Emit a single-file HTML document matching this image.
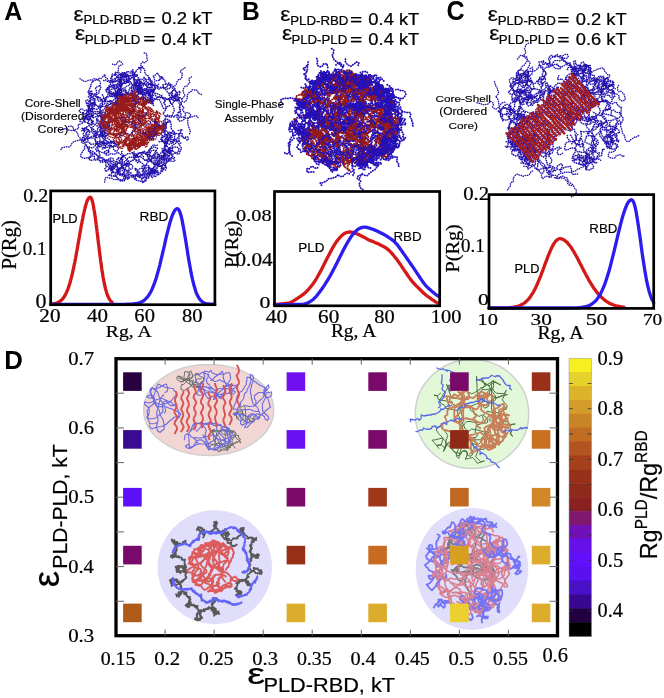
<!DOCTYPE html><html><head><meta charset="utf-8"><style>html,body{margin:0;padding:0;background:#fff;overflow:hidden}svg{display:block;will-change:transform}</style></head><body>
<svg width="664" height="698" viewBox="0 0 664 698">
<rect width="664" height="698" fill="#fff"/>
<text transform="translate(4.35,19.9) scale(0.99,1)" font-family="Liberation Sans, sans-serif" font-size="25.29" font-weight="bold" fill="#000" >A</text>
<text transform="translate(241.98,20) scale(0.96,1)" font-family="Liberation Sans, sans-serif" font-size="25.65" font-weight="bold" fill="#000" >B</text>
<text transform="translate(446.5,19.93) scale(0.94,1)" font-family="Liberation Sans, sans-serif" font-size="26.76" font-weight="bold" fill="#000" >C</text>
<text transform="translate(4.2,368.8) scale(0.99,1)" font-family="Liberation Sans, sans-serif" font-size="26.09" font-weight="bold" fill="#000" >D</text>
<g transform="scale(0.25)" fill="none" stroke="#2210ac"><defs><path id="ma1" d="M656 624l-7-2-8 0-8 4-8-1-8 0-6-4-5 6-8-2-8-3-5-5-6-6-7-3-7 4-8-1-5 6-5 7-7 3-4 7 6 6 3 7 7 5 5-7-1-8-3-7-8-2-4 7-5 6-7 2-8 4-4 7-6 5-8 1-7 3-8-1-5-6-6-5-8-1-8-2-6-5-2-8-7-3-8 1-5 6 4 7 4 7 1 8 5 6-3 7-8 4-7 1-3 8-6-6 0-8 5-6 4-6M584 618l-7-4-5-7-6 5-8-1-7 4-7 4-7 2-6-7 6-6-8 2-7 4-8 1-8 1-4 7-8 0-5 6-7 4-7-3-5 5-5 7 4 7 2 8-6 5-4-7-8 4-4 6-8 3-5-7-2-7-7-5-5-6-5-6-6-6-8 0-7-4-7-5-6-4-7-4-7 5-1-8-8-2-6-6 2-8 0-8 7 4 8 1 6-5 6-6 3-8 4-6 8-1 8-1 7 5 7 2 7 5M629 581l-8 1-7-3-6 5-5 7-2 7-8 4-2 7 2 8 6 5 8 3 6-4 5-7 3-7 5-6 4-8-8-3-7-3-5 6-8 0-6 6 2 8 5 6-6 5-8 0-2-8 8 0 6-5 8-3 8-1 7 4 5 6 5 6 3 8 8-1 8-1 5-6 7-5 3-7 7-4 8 1 8 2 6 5 8 2 8-2 1-7 2-8-7-5-8-1-8 1-6 4-8 3-6 5 1 8 5 6-2 8M698 631l-6-4-4-7-8-2-4-7-2-8 3-7 5-6 6-6 5-6 8-2 4-7 7-3 5-6-1-8 1-8 8-1 6 6 8 2 5 6 6 5 4-7-3-7-8 0-6 5-6-5-1-8-2-8-8 2-8 2-8-2-8 1-8-1-6-5-8 1-3 8 0 8 0 8 3 7-4 7-7-2-8 1-8-4-2-7 2-8 7-4 5-6 8-1 1 8-3 7 0 8-4 7-8 1-7-2-8 2-5-7M452 688l-4 6-7 5-8 2 8 1 8 3 7-2 8 0 4 7 3 8 7 3 8 1 6-5 4-7 1-8-7-3-8 0-6-6-4-6-2-8-8-2-7-4-8-2-7-4-4 7 8 1 8 0 7-3 4-7 6-6 0 8 6 6 8 1 8 1 8 1 5 5 6 6 7 2 8 3-7 5-7-3 2 8 3 7-1 8-8-1-6-6-2-7 5-6 4-7 5-7 4-7-1-8-4-7-7-4 1 8-5 7M410 596l6-5 8-3-6-6-7-4-5-6 5-7 7 5-1 8 5 5 5-6 7-4 7-4 8 3 8 1 7 3-6-6-7-2-8 1-8-1-7-4-7-4-7-5-6-5-2-7 1-8-2-8-6-6 4-6 4-7 8-2 8 0 8-3 4-6 5-7-2-7 2-8-6-6-8-2-8-2 0-8-8 3-8 1-7 3-8 1-7 4-7 2-5-7-2-8 1-8 3-7-2-8 2-8 0-8-4-6-5-7M646 652l-8-3-3-8 5-6 7-4 7-4 5-6 3-7 8-3 8-2 1-8 0-8-7-4-6-5-7 2-3 8-2 8-3 7 7 4 4 8-8 2-1 8-8 0-7 4-4 7-4 7 5 6-3 7-5 6-4 7-2 8 7 3 7 5-1 8 7-4 2-8 2-8 0-8 3-7 3-7 6 5 5 7-1-8 3-8 5-6-3-7 0-8-3-7-8 0-8 1-6-6-7 1-7-5-7-2-2 8-1 8M449 296l-1 7-4 7-2 8-3 8 5 6-3 8-6 5-5 6-6 5 0 8 5 6 8 1 8 3 6 5 8 0 7 5 2 8 1 7-4 7-4 7-2 8-6 6-5 6-8 2-2 7-8 1-6 5-5 7 3 7-1 8-7 3-7-3-4-7-8 2-6 6-3 7 3 8-4 7-5 6-5 6-7 4-2 8 3 7 7 3 6 6 3 7 0 8-6 6 2 7 5 7 4 6 8 0 7-4 8 3 3 7M748 450l7 2 7 5 0 8-6 6-7 2-8-1-7-4-8 1-8 1-6 5 3 8 7 2 7-3 7-4 2-8 3-7 2-8-5-6-6-5-2-8 6-6-6-5-5-6 0-8-6-5-4-7-4 7-6-5-1-8-3-8 6-5 3 8 8 0 1 8-8 3-7 4-8 2-5-6 3-8 7-4 0-8 6-5 6-4 6-6 1 8-3 8-8 1-7 4-8 0-8 3-6 5-7 3-8 3-5 6-4 7M418 474l-7-4 1-8-8 0-2 8 6 6 6 5-7 4-8 1-6-6-6-4-2 7 8 0 6 6 5 6 8-1 5 5 7-3 8 3-1 8 5 7 8 1-3 7-3 7-7 4-2 8-5 5-7 5-4 7 2 8 0 8 8 1 8-2 7-3 8 0 4-6 8 3 1 8 8 4-3 7-8-1-8 0-6 5-6 5-3 8 0 8-8 2-8-1-8-1-7-4-8-3-3-7 1-8 0-8 0-8 7 3M617 328l2 8 7 4 4 7 7 2 8 0 8 1 8 1 7-4 4-7 0-8 8 1 3 7-1 8-5 7-8 1-5-5-8 0-8 0-8 3-6 4-5-6 0-8-7-2-8-2-8-1-8 0-7 2-1 8-5 6 0 8 3 8 6 6 8 1 5 6 4 7 7 4 8-2 6-4 8 1 8 2 7 4 8 2 8 0 8 1 2-8 8 0 6-5 4-7 5-6 1-8-6-4-8 1-4 6-7 5-8 1M717 576l7-3-5-7-7-3-3 7-6-6-8-1-5 6-8-1-4-7-7-1-5 7 2 7-4 7-4 7 2 8 3 8-6 6 4 7 5 6 8-2 0 8-4 6-8 3-8 1-3 8 0 8-5 6 1 8 2 8 6-5 7-3-7 3-8-1-7-5-6-5-6-5-8 1-8 0-6-6-2-7 1-8 4-7 4 6 3 8-4 7-7-4-7-3-6-6 0-8 8-2 8 1 7 2 8 3 7-4 7 2M654 658l-6 4-7 4-8-3-7-4 2-8 6-5 7-3 7-4 8-3 7 4 8-1 8-1 7-2 2-8-1-8-3-7 1-8-8-4-7-3-7 4-7 2-3 8 4 7 4 7-5 7-7 3-8 2-5-6-8-2 0 8 2 8 3 7-4 7-6-5-7 3 0-8 8-2 7 3 6 6-7 3-8 3-5 6-7 4 1 8-2 8-8-1-6 6-7 1-2 8 8-3 5-6-1-8 3-7-6-6-5 6M407 581l4-7 7-3 8 3 4 7 8 2 7 3 8 2 5-7 8-1 3 7 6 5-3 8-6 5-8-1-4-7 0-8-6-5-8-2-3-8-7-4-6-4-5-7 4-7 8 0 6 6 6 4 2 8-1 8-1 8-7 3-8 0-7 4-7-3-8-2-6-5-7 3-7 4-3 8 4 7 7-3 2 8 3 7 1 8-6 6-5 6-7 4-4-7 0-8-8-3-7 4-8 0 1 8 5 7 8-1 7-2M385 421l-8 1 1-8 1-8 0-8-5-6-6-5-4-7-5-6-5-7 1 8 2 8 8 0 4 7 5 6 5 6 0 8 2 8-8-2-7 5 1 8 0 8-8 3-7 3-7-3-7 4-6-6-7-3-7 4-1 8 7 3 8 3 7 3 7 4 7 4 6 6 5-7 7-4 6-5 8 0 8-1 7-1 8-1 8 0 8-3-2-8 7-2 0-8-3-8 2-8 4-7 6-4 8 0 5 6 2 8-7-3M647 389l7 5 5 6-3 7 1 8 5 6 2 8-3 7-7-2-4-7-2-8-4-7-3-7-4-7-8 0-8 0-8 2-7 2-7 6-6-5-3-8 3-7 0-8-7-5-7-3-6-5-8-3-8-1-4-7-3-8-7-3-8-1-8 4-7 2-3 8-1 8-6 6-5 5-1 8 4 7 2 8-7 1-7-4-8-3-6 5-7-4-6-6-4-7-2-7-7-4-8-2-7-3-3-8-2-7-3 7-1 8M594 311l7 5-1 7 6 5 2 8-1 8 2 7-2 8-5 7-1 8-1 8 1 8-1 8 2 7-1 8 7-3 7-5-4-7-5-6-3-7-3-8-3-7-4-7 7-5-1-8 6-7-4-7-7-5-5-5-8-1-8-3-5-6-8 1-8 1-7 3 3 8 5 6 7 3 1 8 6 6-4 6 0 8-8 0-7-4-6-6 0-8 5-6 8 1-1 8 2 8 8 3-2-8-4-7 0-8 3-7 3-8M499 705l-3-8 2-7 1-8-3-8-5-6-8 0-5 6-4 7 3 7-8 0-7 4-2 8 0 8 7-4 2-7 4-8 5-5 8 0 8-4 8-1 7 3 8 1 5-6 7-3 3-7-4-8-8-2-5-6-5-5-4 6-8 4-3-7 7-4 5-7 5-6 7-4 8 1 7 2 7-5 8-1 7 3 6-5 5-6 6-6 5-6 7 4 4 7 1 8 1 8 8 2 6 6-3 7-7-2-8-3-8-2M383 524l2 7 1 8-4 7 1 8-3 8 3 7 4 7 4 7 7 5 3-8-1-7 0-8 0-8-2-8 0-8 4-7 7-3 5-6 4-7 2-8-3-7-8 0-8 2-5 6-6-6-6-5-6-4-8-2 1-8-5-7-5-5-8-2-8 0-5-6 4-7 1-8 4-7 4-7 1-8 3-7 7-4 6-5 8-3-2-7 4-7 6-6 8 0 5 6 6 5 7 4 8-2-2-7-4-8-2-7-8-3M648 594l3 8 8-3 7 3 6 5 6 5 8 3 8 1 7-3 8 3 8 0 3-8 1-8 6-5-4-7-5-7-4-7-4-7-2-7-8 1-6 6-3 7-8 0-7 4-6-5-5-5-7 4-3-7-8-3-5-6 5-7 2-7-5-6 7-5 7-4 0-8-6-5-7-4 5-6 6-5 8 0 3 7-5 7-8-3-2-7 0-8 7-3 8-1 8-1 4-7-6-6-8 1-8 0-4 7 1 8 5 7M448 415l-8 4-6 4-8 2-4 7-6 5-6 5-7 4-5 7 2 8 3 7 5 6 0 8-6 5 2 8-3 8 1 8-3 8 1 8 8 2 3 7 1 8 7 4 4-7 1-8-6-5-7-4-4-6 4-7 2-8 8-1 6 5 7 3 5-6-1-8-4-7 8-2-5 7-7 1-3-7-8-3-7-4-8-2 1-8 5-7-8 2-5-5-8-1-6-5-8-3-7-4-4-7-2-8-7-3 0-8 0-8M433 323l-2-7-7-5-6-5 3-8-7 5-4 6-6 6-8-2-6 6-8 1-6 5-7-1-1 8-5 6 0 8-4 7-3 8-5 6 5 6 8 0 5 6 8 3 7 4 8 1 7 3 6 5 5 7-1 8 0 8-1 8-8 0-8 0-7-5-6-5-8-2-8 1-6 5-6 5 3 8 3 7 2 8 6 6 4 6-8 1-7-4-1-8 4-7-2-8 4-7 2-8 2-8-6-5 4-7-1-8-7-4M590 374l6 5 4 6 3 8 5 6 3 8 2 8 1 7-5-6-7-4 0-8 2-8 0-8-6-5-3-7-2-8-1-8-2-8-1-7-7-5-5-6-7 5-6 5 3 7 5 7 1 8 3 7 6 6 3 7 5 6 7 4 8 2 2 7-2 8-7-4-7 3-4-7-5-7-2-8-7-3 2-7-7-4-1-8 3-7-6-4-8-3-1-8 5-6-5-6-7-3-7 4-1 8 3 7-7 4-7 4-6 5M357 589l-8-2 4 7 1 8 4 7 6 5-1 8-1 8-6 5-7-4-8 2-8-1-8-2-3-7 3-8 4-6 4-8 6-4-2-8 3-7 6-5 0 8 4 7 5 6 6 5 8 2 7 3 5 7 7 4 4 7 4 7 2 8 2 7 8 1 8-1 7-4-5-7-8 1-4-6-8-2-8 1-2 7 8 3 7 3 8-2 8-1 8-1 3 7 3 7 2 8 6 6 0 8 7 4 6-5 0-7 6-5M684 372l0 8 7 3 5 6 0 8-1 8-3 8-7 3-3-8-3-7 5-7 2-8 5-6-2-8 1-8 6-6-6-5-7-4-2-8-8-2-8 0-7-2-8 3 4 7 2 8 7 4 5 6 4 7 5 5 0 8 6 5 4 7 6 5 8 0 8-3 6-5-3-7-5-6-8 1 0 8 2 8 6 5 6-4 4 7-1 8 4 7-3 8 3 7 3 7-4 8-7-4 0 8-1 8-4 7 5 6 4 7M551 344l1 8 6 5 3 8 3 7 5 7 7-3 5 6-1 8-5 6-1 8 8 0 8 0 7-2 4-7 4-7 4-7 2-7-4-7 3-8 6-5 4-7-6-6-7-2-8-1-6-6-7-3-2-8-3-8-6-5 1 8 8 2 8 0 7 2 3 8 2 7 8 2-3 7-5 7-3 7-1 8 7 4 4 7 3 7-6 5-8-1-6-5 1-8-1-8-4-7-5-6-8 1-8 2-6 5-8 1-8 1M449 646l-7-6-8 0-8 0-3 7 0 8 0 8 7 4 6 5 6 5 6 5 4 7 8 2 7-4 7-3 4-7 6-6 8 3 7 4 1 8-6 5-6 6-8 2-7-5-4-7-1-8 2-7-5-6-8-3-7-4-4-7-5-6 8-1 6 6 6 6 2 7-6 6-7 4 2 7 2 8-8 1-3-7 2-8 3-7 4-7 8-2 8-2 6-5 6-6 3-7 2-8 8-1 4-7-6-6-6-5 3-7M462 289l8 1-8 3-5 6 7 5 6 6-8 2-1 8-3 7-7 4 1 7 4 8 6 5 5 6 6 5 4 7-4 7-4 7-8 3-2-8-7-4-8 3-8-2 1-8 3-7 7-3 7-4 8 2 8-1 7 3 6 6 3 7-5 6-8-1-8 2-7-3-6 6-8-1 6-6 7-2 8 1 8 2 4 7 6 6 1 8 3 7 4 7-7 3-7 4 1 7-8-3-6-5-6 4-8-3-7-3-6-6M492 385l-6-5-4-7 2-7-1-8-2-8 1-8 0-8-1-8 2-8-4-7 6-5 7-4 4-7 8-1 7 3 3 8 2 8-3 7 4 7 8 0 1 8 4 7 8-1 4-7 4-7 8 1 8 1 3 8 1 8-3 7-7 3-7 4-8 2-7 4-4 7-8 2-5 7-5 6-2 7-2 8-8 2-4-6-4-7-3-8 6-4-7-2-7 4 7 3 7 4 5 6 1 8-1 8 7-3 7-4 4-7M657 632l-5 6-4 7-5 6-6 5-8-2-7 3-2 8-4 6-5 7-6 6-3 7 0 8-5 6-3 8-8-1-5 6-5 7-3 7-7-5-7-4-8 0-7-3-4-7-4-7-8 2-8-1-6 5-8-4-5-6-5-5-1-8 3-8-4-7-6-5 1-8-1-8 1-8 2-8-5-6 4-7-6-4-6-6-7-5-6 5-8 3-8-1-7-1-7 5-8 1-6-5-5-6 5-6 8-2 7 4 0 8M574 343l-5 7-8-3-2-8-2-7 1-8-2-8-4-7-6-6-7-2-7-4-8-3-7-5-5-5-6 5-7 3 2 8-1 8-3 7-1 8 3 7-5 6-7 4-7 4-2-8 1-8 1-8 3-7 1-8 4-7 1-8 8 1 4 7 2 7 3 8-3 7 6 4 5 7-7-4-5 7-8-3-4 6-7 5-5-6 3-7-1-8-8-3-6 5-8 0-7 3-8 2-8 0-8-3-5-6-7 3 6 4M477 355l-6 6-5 6-4 6 2 8-3 7 0 8-7 4-7 5-3 7-6 5-8 0-6 5-5 6-8-2-7 4-3 7-5 7 3 7 6-5-3-7-2-8 4-7 6-5 8-2 2-8 7-5 7 2 8-2 7 4 8 2 7 3 6 6 7-3 6 6 4-7-1-8-3-7 0-8 3-8 3-7 8 0 8 2 8 0-5-6-6-5-8-4-7 2-6 6-7 3-7-4 4-7 8-1 6-5 7-3 1-8M536 300l8 1 7-3-4 7-8 1-8 2-7 5-5 6-4 6-7 4-8 3-8 0-4 6-5 7-8-2-6 5-4 7-8 0-7-3-3-7-7 4-7 3-2 7 6 6 4 7-4 7 5 6 8 0 7-3 7-3 1-8 8 2 5 6 7 5 7 1-4 7-5-5-8-4-6-5 2-8-6-6-7-3-1-8-4-6-6-5-8 3-4 7-7 3-4 7 4 7 7 4-4 8-4 6-2 8-2 8-5 6M559 323l0 8-5 7 4 7-4 7 0 8 8 2 2 8 5 6 3 8 3 7-3 7-6-6 1-7 5-7-4-6-8 3-7 2-5 6-6 5-7 4 0 8 7-4 1-8-5-7-6-5-2-8 6-5 0-8-3-8 6-5 8 0 8 1-2-8-6-4-6-5-8-2 2-8 3-8 4-6-2-8-7 3-5 6-8 1-8-1-8 1-8-1-6 5-3 8-3 7-6 6 1 8-4 6-3 8-7-2-1-8M634 337l-4 7-7 5-4 7-4 7-7 3-8 0-7 4-7-3-6-5-8 2-7-5-7-4-3-8-6-5-4-7-8 3-8 0-2 8-4 7 8-1 8 0 7 4 5 6-2 8 4 6-5 7-7-4-7 5-3 7 1 8 8-1 6-6-8-2-5-6-7-5-8 2-6-5-8-2-3-7 1-8-2-8 5-6 8-2 7-4-3-8-5-5-3-8-3-7 6-5 8-3 7-1 8-2-4-6 1-8-1-8M507 289l-4 7-1 8-6 4-8 1-6 6-6 5-7 4-8 3-8 1-4-6 5-6 8-2 7-5 8 0 6 4-7 3-1 8-2 8-6 5 1 7 5 7 6-5-2-8-8 2-8 2-8-1-8 1-5-6 3-7 3-7 1-8 0-8 7-4 5-6 8 3 6 5-1 8 6 4 3 8 6 5 1 8-2 8-5 7-4 6-6 5-8 3-1 8 5 6 8 1 1 8-1 8-3 7-5 7-1 8 3 7M401 577l-8 0-8-1-8 0-8 1-8 1-3-8-7-2 1-7-2-8-6 4-6 5-7 5 4-7 7-3 8-2 8-2 4-6 8-3 8 1 7-4 8-1-5-7 1-8 1-8 2-7 8-3 6-4 8 1 8-2 8 2 8 0-1 8-8 1-6 5-3 8-2 8-3 7-4-7-6-5-5 7 0 8 7 3 8 0 8 0 6-6 3-7-8-3-7-5-8 0-5-6 2-8-4-7-5-6-6-6 0-8M654 609l1 8 0 8-1 8 5 5 0 8-1 8-6 5-7 3-8 2-5 5-6 6-4 7-5 7-7 1-8-3-7 2-8 1-7 5-5 6-8-2-7-2 0-7-7-4-7-4-7-3 3-8 5 7 5 6 2 8-3 7-8 0-8 3-7-4 0 8 7 4 3 7 7-1-4-6 2-8 4-7 8 2 7 3 8 3 2 8 8-1 8 2-3 8-3 7-7-3-8 0 0-8-4-7-6-5-7-5-8 3M557 272l-6 5-6 5-2 8-8 1-8 0-3-7 8 1 6 5 0 8-5 6-1 8 7 5 7 4 7 2 5 7 8 0 7 4 7 2 5 6 4 7 8 2 3 7 4 7 7 4 6 4 8 0 8 4 7 3 7 3 5 7 8 0 4 7 7-4 5 6 3 8 4 7 6 4 3 8 3 7 3 8-4 7-3 7-2 8-5 6-8-2-8-1-7-3-7-5-2-7 7-4 3-7 4-8 4-6 7-4 5 7M670 647l7-2 1-8 3-7 8 3 7 3 4 7-7 3-8-2-8-1-8 1-5 6-3 7 2 8 3 8-4 7-7-2-8 3-1 8 6-6-1-8-6-6-6-5-6-5-8-1-8-2 1 8-4 7-6 6 7 3 1 8-8 3 0 8 6 5 7 4 5-6 5-6 2-8-4-7-8 0-7 4-8 0-3-7 7 3 6 5 8-2 3 7-8 1-6-5-7-5-6-5-1-8-8 0-7 4-7-4-5-6M468 401l6-6-6-6-4-7-1 8 8 1 0 8-5 6-4 7-4 7-5 6-8 1-6 5-2 7 2 8 0 8-2 8 0 8-5 6 1 8 1 8 5 7-1 8-8 1-7 4-3 7-4 7 2 8-2 8-6 4-8-3-7 4-7 4-4-7-5-6 3-8 8 2 5-7 8 2 6 6-1 8-8 0-7-2-7-4-4-7-6-6-2-7-8 2-3-7-6-6-2-7-1-8 0-8-3-8-8-3 5-6M384 381l5 6 1 8 1 8 8 2 8-2 1-8 8-1 7-3 7-3 8-2 8-1 8 3 8-1 2-8 7 1 8-3 6-5 2-8-2-8-1-7 4-7-2-8 0-8-5-7 4-7-4-7 1-8 8 0 6-5 6 5 7 4 6 6 0 8-7 3 0 8 7 3 1-8 6-5-6-5-7-4-3-8-7 5-8-1-7-2-8-4 8-2 7 4 3 8-1 8-7 4-3 7-4 7-6 6-7 3-7-4M624 642l-1-8-7-4-6 5-8 0-8 3-8 1-8 2-5-6 1-8-5-6-4-7-5-6-4 7-8 3-6 4-8 2 1-8 8-2 4 7 6 6 7-2 6 6 7 4 6 5 8 3 7 3-5 5-4 7-3 8-3 7-5 7 2 7 8-1 7-4 5-6 2-8-5-6-8-2-8 2-8 2 0 8 4 7 2 8 2 7 8 2 8-2 7 4 5 6 3 8 6-6 5-6 0-8-4-7 3-7 1-8M359 479l-8-3-7-3-7 3 3 7-5 7-8-3-8-1 2-8 6-5 5-6 8-2 8-1 8-1 2 8 3 8 5 5 4 8-2 8-7-4-7-3-8-3-7-3-5-6 7-5 7 2 8 3 4-7 7-3 7-3-2-8-6-5-8 1-7 3-5 7-3 7-8-1 5-6 8-1 2-7 7-3 8 1 3 7-7 4-8-1-6-6 0-8 5-6 8-1 8 0 8 0 8 2 8-1 8 3 5 5 8 3M638 319l6-6 6-5 2 7 7 5 2 8 4 7 6 5 8 0 8-1 5 6 6 6 3 7 1 8 6 5 1 8-3 8-5 6 3 8 7-5 5-6 8 2 4 7 1 8-5 6-5 7 1 8-2 7 2 8 1 8 4 7-2 7-8-1-7-4-8 1-2 8-8-3-6-4-8 2-7-4-5 6-3 8-1 8 1 8 7 4-6 5-4 7-6 6-5 5 6 5 8 1 8 2 4 7 6 6 4 7 6 5M338 570l8-1-6-6-3-7 2-8 5-7 0-8 5-6 8-3 7 3 7 4 3 7 7 4-5 7-6 5-7-3-8 2-7-4 1-8-5-6 3-8 7-4-4-7-6-5-8 3-8-1 5 6 5 6 5-6 8-3 5 6 2 8-2 8-3 7-6 6-6 5-6 5-7 3-1-8 4-7 5-6-4-6 4-7 2-8 1-7-6 5-6 4 3-7 7-4 8-3 6-5 7-2 7-5 1-8 5-6 7 3M508 329l6-6 6-6 5-6 8 0 7 4-2 8 0 8 3 7 5 7 3 7 7 4 2 8 0 8 5 6 0-8-8-1-2-8-3-7-2-8-4-7-2-7-8 2 2 7 8 0 8 1 7 4 4 7 5 6 8-1 7 4 8 2 8 2 7 1 8-1 6-6 2-8-5-6-4-7-5-6 1-8-7-2-3-7-4-7-4-7-7-3-4-7 0-8-3-7-4-7-8 2-7 4-4-7 8 2 6-5 7 5M659 565l4 7-4 7-3 7 7 2 5-6-2-8 5-7 0-8-8-3-3-7-1-8 1-8-4-7 5-6 4-7-7-4-7 3 3 7 5 6 0 8 5 7 7 4-5 6-6 6-2 7-3 8 5 6 1 8-4 7-1 8-6 5-5 6-6 5-2 8 2 7 8 1 8 1 8 0 8-2-2-8 2-8 3-7-1-8 1-8 8 0 8 0 0 8-4 7-8 1-5-6-8 1-8-1-8 1 2 8 7 2M507 331l6-6-8 0-8-3-8 1-6 5-5 6 0 8 5 6-2 8-4 6-1 8 2 8-4 7-6 6-6 4 0 8 3 8 7 2 3-8 7-4 5-6 4-7-3-7 2-8 8 3 5 5 0 8 7 5 6 5 7-4 6 5 7-4 1-8 1-8-3-7 6-6 8-1 8 0 8 2 5 6 7 4 8-2-2-8 6-6 7-3 8 0 8 1 1 8 7 4 0 8 5 6 7 4 7-4 7-3 7-5M481 724l8-1 7-4 6-5 3-7 5-7 8-1 7 3 8 0 8 1 8 1 7 4 6-6 5-6 8-1 3-7 5-6-4-7-8-2-8 1-7 2-6 6-2 8 0 8 2 8 8-1 7-4 8 2 7 2 7 4 7-5 6-5-2-8 5-6 5-6 8 3 6 5-2 8-8-1-8-1-7-2-4-7 1-8 7-4 6 4 2 8 3 7-8 2-8 3-8-1-6 5-5 6-3 8-8 0-7-4-8 0M474 634l2 8 6 5-5 7 8 1 8 0 6 5 6 5 8 0 6-5-5-6-8 2-8 2-6 5-6 5-6 5-7 4 3 8 4 7 6 5 8 1 7 4-6 5-7-4-8-2-6-5-7-4-1-8 2-8 8 1 8-1 4-7-3-8 2-8 3-7-6-6 3-8 3-7 8 1 4 7 6 6 5 5 8 2 7-3 7-5 7-2 6 6 8 1 6 5 6 5 7 4 1 8 2 8-5 6-4 7 2 7M373 433l3-7 4-7 2-8-8-3-6 6-7 2-8-1-8-3-2-8 6-5 7 3 7-2 8-1 4-7 0-8 4-7 7-5 1-8-4-6-1-8 7-3 8-3 6 5-2 8-6 4 3 8-5 6-7 3-8-2-8-1-8 0-2-8 6-5 2 8-2 8-3 7 0 8-2 8-6 6-6 5-2 7 4 7 6 5 6 6 8 1 7-3 8 3 7-3 3-7 2-8 5-6 8-3 6-5 4-6 6-6M713 522l7-1 8-3-3 7-6 5-2 8-3 8-4 6-7 5-7 2-8-1-8 0-7-4 5-6 4-7 1-8 5-6 8 1 5 6-2 8-1 7-1 8-4 7-7 3-5-6 4-7-6-5-1-8-5-6-6 6-7 4-7 4-5 6 2 8 7 3 8 3 5-6 5-7 5-5 5-7 6-5 6-5 0-8-7-5-5-6-1-8 1-8-2-8-1-8-8 0-6 6-3 7-4 8-1 7 0 8 7 5M477 395l7 2 8 0 4 8-2 8-7-4 0-8-3-7-4-7-8-2-4-7 1-8 5-6 7-4 8-1 8 1 7 2 3 8 6 5 8-2 8-1 6 5 5 6 6 6 1 8 8 0 0-8-5-6-5 6-5 6-8-1-7-3 4-7 1-8 1-8-2-8-5 7-1 8 4 7 2 7 6 5 4-6 7-5 7-4 2-8-2-7-5-7 1-8 8-3 1-7 8-4 7-3 8-1 6 6 8-1 7 5"/></defs><use href="#ma1" stroke-width="1.6"/><use href="#ma1" stroke-linecap="round" stroke-width="6.4" stroke-dasharray="0 9.2"/></g><g transform="scale(0.25)" fill="none" stroke="#2210ac"><defs><path id="ma1b" d="M649 315l-1-7-8-3 0 8 0 8-8 2-8 0-7-5 0-7-5-7 7-1 5-7 7-5 2 8 5 6M328 494l-7 3-8 0 0 8 2 8-7 3-8 2-7 4-8 0-8-2-8-2-6-5-7 4-8 1-6 4M737 408l7-4 3-7 3-8-2-8 5-6 5-7 7-2 4-7 8 1 8-1 6 6 2 8 7 2 7 4M502 716l-3 7-8 1-8-3-5-6-8 2-8 1-8 0-6-5-8 0-8-2-7-3-5 6 0 8-2 8M333 550l-4 7-7 3-8 1-8 3-7 1-7 4-6 7-3 7-6 5-7-1-8 1-8 1-8 3-2 8M473 300l3-8-3-7 1-8-1-8 4-6 8-2 6-5-5-6-6-6-8 2-4 7-4 7-8-2-8-2M758 535l3-7 0-8-5-6-1-8-3-7-1-8 0-8 0-8 7-5 7-2 8-3 7-2 8 1 4 7M400 343l2-8-1-7-4-8-8 0-6-5-8 0-6 5-8 0-8 1-6 5-8-1-8-1-5-6-7-4M341 576l-8-3-7-3 0-8-3-7-5-6-6-6-1-8-4-7-7-4-6-5-1-8-5-7-8 1-8 1M730 394l5-6 5-6-4-7-3-7-1-8 3-8 5-6 8-2 4-7 7-4-1-8-3-7 4-7 7-3M692 347l7-3 6-6 2-8 4-7 4-6 8 0 4-7 1-8 2-8-8-4 0-8 7-2 6-6 7-4M562 289l2-8-2-8 3-7-3-7 4-7 6-6 5 6 6-4 7-5-2-8-1-8 1-8-4-6-8-1"/></defs><use href="#ma1b" stroke-width="1.6"/><use href="#ma1b" stroke-linecap="round" stroke-width="6.0" stroke-dasharray="0 9.2"/></g><g transform="scale(0.25)" fill="none" stroke="#981a1a"><defs><path id="ma2" d="M527 595l-6-1-4 6 4 5-7-1-2-6 0-6 6-1 6-2 6 2 7-1 3-5 1-6-3-6-6 3-6-2-6 1-5 4 2 6 3 6 2 6 2 6-7 0-3-6-1-6-3-6-4-4-6-3-4-5 1-6-2-6 5-5 5 4-1 6-6 3M558 479l5-4 6-1 4-5-4-4-6-1-6-2-5-5-5 4 4 5 5 3 6 3 6 2 4 5-3 6-4 5-7 2-1 6 4 5 4 5 0 6-5 5-6 3-6-3-3-5-5 3-3 6-4 4-7 1 0 7-5 3-4 5-3 6-4 5-6 1M603 544l1-6 0-6-6 3-3 5-4 5-1 7 2 6-6 3-6-2-6-1 3-6 0-6 4-5-5-5 2-6 6-3 5 3 6 3 5-2 6 2 3 6 6 2 4-6 2-6 3 6 5 4 6 3 6-2 0-6-6-3-5-4-6-2-5-4-6-1M413 509l6 2 5-4 6 1 6 3 4 5 7-2 6-2 4 4 6-1 7-2 5-3 1-6-4-5-3-5-2-6-1-7-6-1-6 0-6-2-3-5 1-7 5-4 6 2 3 6 6 2 6 2 6-1-5-4-4 4-3-6-6 0 2 6 5 4-3 5M508 505l3 5-4 5-6 2-6 1-6-3-1-6-1-6 0-7 1-6-3-6 4-5 3-6-1-6-6 0-3 6-6-2-4 5-6 3-5 4-6 2-6-2-6 3-5 4-5 4-5 3-6 3 3 6-4 5-1 6 0 7-6-2-1-6 3-6 6 3M546 585l4-5 6-2 2-6 6-3 4-5 1-6-7 0-6 0-4 5-7 1-2-6-3-6-5 3-5 5 0 6-4 5-5-4-4-4 6-3 3 5 0 6 5 5 3 5 7-1 6 0 6 2 3 6-6-3-6 2-3 5 3 6 5-3 2-6 6 0M419 460l2-6 6 3 0 6 0 7 6 2 6 3 4 5-1 6-3 5-7 0-6-3-5-3-3 6-6-1 3-6 0-6 3-6 5-4-5-3-5 4-6-3 4-5 6-2 6-1 6 4 0 6-4 5-6-2-3-6-6-3-5-3 1-7 5-4 6-2M625 468l6 2 7 0-2-6-3-5-4-5 1-6-4-5 2 6-4 5 2 6-1 7-1 6-6 3-6 1-6-2-3-6 0-7 3-5 7-1 0-7-1-6-3-6-5-3-5-4-6-2-6 2-5 5 6 4 4 5-2 6-6 2-1 6-1 7-6-1M525 580l-1 7-5 3-7 0-2 6 6 0 1-7-1-6-7 0-6-3 3-6-3-6 0-7 0-6 1-6 3-6 0-6-2-6-4-5-6-1-4 6-6 0-5 5-6 1-6-2-5 4-6-2-6 3-6-1-1-7-5-3 5-3 0-7 4-4 4-6M561 522l-5-3-6 2 1 6 6 2 6-3 6 1 4 5 2 6 5 4 6-2 6 0 6 2 2 5 3 6-5 4 0 7-4 5-3 6-6-1-4 6-6 0-5-4 1-6-2-6-2-7-4-4 4-5 6-2 5-4 3-6-4-5-4-5 2-6 6-2M526 546l6-3 5-4 5 4 5 4 7 0 6 2 6-1 3 6 2 6-1 6-3 6-6-2 2-6 4-5 2-6 0-6-1-6 5-4 6-2 6 3 6 2 6 1 0-6 5-4 2 6 3 5-5 4-6-1-6 2-6-2-6 2-6 2-5-4-3-5M557 506l6-2 5-4 5-4 1-6-6-3 4-5-2-6-5-4-1 6-1 6-7 0-1-6 4 4-4 5-5 3-6 3-4-6-3-6-1-6-5-3-5-5 6-3 6-3 6 0-3-5 5-5 6-2 3 5 2 7 5 4 5-4 7 1 6 0 5-4M528 425l-3-6-6 0-7 0-5 3-4-5-6-3-5 5-5 4-3 5-5 5-5 3 0 7 0 6 1 6 6 2 6-1 7-1 0-6-6-3-6-1-7 0-6-2-3 5-5 5-6 1-3-5-6-4-6 2 1 6-1 6-6 2-4 5-6 4-6-1M549 385l-4-4-4-6 0-6-5 4-5 4-4 5-6-2-5 5-6 2 3 6 0 7 2 5 7 1-4-5-3-6 6-2 5-4 6-3 5-3 6-3-1 7-2 5 2 6 4 5-2 7 4 4 6-2 6-1-2-6 6-3 6 1 6 3 4 5 6 1M614 535l-4-5-6-2 0-6-7-2-5 3-3 6 4 4 6-3 1-6 6-3 3 6 0 6 7 0 5-3 5-4 4-6 2-6 4-4-5-4-4-4-1-7 1-6 1-6 0-7-3-5-3-6-4-5 3-6 1-6 6-2 2 6 6-1 6 2 0 7M463 449l4 5 5 3 5 5 2 6 6 2 7-1 1-7 5 5 4 5 4 5 6 2 6 2 3 6 4 5 3 6-6 1-5-4-4-5-5-4-5-4-7 0-6-2-6 2-4 5-2 6 3 5 2 6-6-2-6 1 1 7-5 4-4 5-4-5-2-6M531 593l6-1 4-6 0-6-2-6 6 2 6 1 4-5 6-2 4 5 2-7 1-6-6-2-6-3-6-2-3-6-6 0-5 4-3-5-1-7-7 0-6-1-6 3-2 6 5 4 0 7 3 5 3 6 2 6 6-2 4-5 6-3-2-6-1-6-2-6M524 442l1 7-1 6 4 5 6 3 3 5 5 4 1 6-4 5 1 6-2 6 3 6 1 6 6 4 4 5 4 5 6 0-1 6-5 3 3 6 1 6 4 5-5 3-6 3-6 2-6 3-6-1-6 3-2 6 2 7 3 5 1 6 0 6 7-1 3-5M466 527l6-3 5-3 2-6-3-6 0-6-3-5 6-3 7 1 6 0 5-4 4-5-6-1-6-3-2-5 0-7-2-6 1-6 4-5 4-5 4-4 7 1 5 3 6 2 7 1 6 2 2-6 3-6 2-6-6 0 0 7-6 0-6 0-3-6-4-5M601 554l-4 4-2-6-3-5-1-6 5-4 6-4 5-3 6 0 6 3 4 5 6-3 2 6-6-2-7 1-5-3-5-5-6-2 1-6-2-6-2-7-6 0-2 6-2 6 3 6 5 4 3 6 1 6 6 1 6 1 6-4 2-6 3-5 1-7-6-2M484 408l6-3 4-5 6 2 1 6-5 4-3 6-4-5-4-5 4-6-5 5 3 5-2 6-2 6-5 4 1 6 4 5 6 0 7 1 4-5 3-5 6-3 4-5-1-7-3-5-6 0-4 5-6 2-7-1-2 6 0 7-4 5-6 2-6-1-3-6M529 429l-6-2-3-6 6-2 5 3 7 0 1-7-6-2-6 2-6-2-4 6 7 1 6 1 4 5 0 6-6 1-7 1-5 4-4 5 4 5 6 2 0 7-6-2-1-6 0-7-1-6 1-6-7 0-6-2-3-6-4-5-3-5-6 4-6-1-5-4M513 502l6-2 3 6 6 2 6 3-1 6-2 6-2 6 1 6 1 6 6 4 0 7 5 4 2 6-3 6-7 0-6-1-6-1-6-3-5-4 1-7 0-6 6 2-6 2-5 4-6 2-1 6-6 4-6 1-6 1-3 6-3 6-2-6-1-7-4-4M609 525l-6 3-6 2-2 6 6 4-1 7 2 6-4 4-7-1-6 1 0-6-1-6 0-7-7-1 1-6 7-1 6-2 6 0-5-4 0-7 4-5 4-5 6 0 6 1 6-3 2-6 1-6 6-4 6-3 2-5-2-6 6-1-3-5 2-6 5 4M490 570l5 4 6-2-1-6-2-6-6 2 3 5 4 6-4 5 0 7-4 5-3 6-5-4-6-2-3-6-1-6-1-6-5-4-2-6 0-7-2-6 6 1 6 3 0 6 5 4 0 6-5 4-7 0 1-6-7-2-6-2-3-5 4-5 5-4 1-7M427 457l5-4 6 2 6-3 1-6 1-6-6-3-6 1 3 6 4 5 6-2 6 4 2-6-3-6-4-4-6-2-7 1-1 6-3 5-1 7 3 6 5 2 1-6 2-6 5-4-2-6 1-7-6 1-6-2-6-4-4-5 0 7 5 4 6 0 6 1M505 482l-4-5-7 1-6 1 3 6-1 6-4 5-6 3-1 6 3 6 2 6 6 2 5-4 4-5 4-4 1-7 6-3 0 7-2 5-2 7 0 6-6 1-7-1-5-4-4-5-6-2 1-6-1-6 0-7-6 2 1-6 4-5 4-5-1-7-4-5M524 434l4 5 3 5-7 2-6 0-6-2-5-4-7 0-6 0-6-1-2-6 2-6 1-6 6-3 5-3-3-6 6-4 6-3 4-5-3-6-4-4-4-5-6 3-6 2-5 4 2 6-1 6-2 6 2 6-4 5 3 6 1 7 2 5 7 0 1 6M582 418l-6-1-6-3 2-7 0-6-5-3-3-6-6-2-6-2-6 0-7 1-1 6 0 7-6 1-7 2-5 3-6-3-5 4-3-6 1-6-1-7 0-6-2-6-6 2-6 3 0 6-1 7-4 5-4 5-2 6-6 1-2 6 4 4 5-4-1-7M553 531l1 6 5 4 4 5 3 6 2 6 6-2 6-3 6 0 6 2 6 1 7 0 4-5 5 4 3 5-7 1-6 1-4-5-3-5-4-5-5-4-6 2-5 4-2 6-5 5-6-1-6 0 4 5 2 6 2 6 6-3-2-6-3-6-6 0-6 3M476 539l-6 2-6 2 3-6 4-5 6 2 4-5 4-4 6-3 6-2-4-5-6-2 1-7 3-5-1-6 3-6-5-2-4-5-3-6-5-4-6 2 2 6 3 6-5 3-6 0-6-3-2-6-5-4-3-6 0 6 3 6 5 4 6 3 6 2 4 5M617 461l4 5 4 5-1 6-2 6 1 6 0 7 6 1 6 2 6 3 6 2-4 5-6 4-6 0 1 6-7 0-3 5-6 1-5 4-5 4 1 6 5 4 6 2 4-4 7-1 4-5-2-6-6 3-6 3-1 6-2 6-2 6-5 4-6 1-6-3M462 507l3-6 6-1-6-2-6 2-1-7 1-6-2-6 2-6 2-6 3-6 0-6 2-6 7 1 6 1 5 4 6 0 6 2 7-1 1-6-1-6-3-6 0-6 5-5 3-5 1-6 5-5-1-6-3-6-5-5-5-3 3-6 1-6-1-6-6 3M487 438l-6-3-5-4-5-3-3-6-6-1-3-6-4 5 5 4 3 5-2 6-7 1-5 4-3 5 5 4 6 0 4-5 1-6 5-5 4-5 2-6 5-4 5 4 0 7 6 0 0 6 3 6 6-2 6-3 6 2-4-6 4-5 4-5 6-2-1-7M551 587l-4-5-6 0-6 3-6-1 0-7 0-6 3-5 5-5 5-3 1 6 3 6-2 6 2 6-5 4-1 6 0 6 6-1 5-4 6-3 5-3-2-7-6 3 3 5 6-3 4-5 0-6 4-6 2-5 7 1-6 3 2 6 4-5 3-6 5-3M409 488l7 1 6 3 6 1 6 2 6 3-4 5-2 6 4 5 3 5-6 3-5 4-2-7 1-6-4-5-6-3-1-6-5 4 0-7-6 0-6 1-6 3 1-7 5-4 0-6 5-4 5-4 3-5 4 5-1 6-4 5-3 6-5-4 3 5 0 7M612 501l5 4 6 2 4-5 5 3 6-1 4 5 6 1 6 2 6-2-2-6-6-2-6-2-5 4-4 5 4 5-5 5-4 5-5-4-4-5-6-3-3-6-3-5-6-2-2-7-2-6-5-3-7 1-5 3 0 7-7 1-6-3-4 5-6-2-7 0M542 402l-5 4-7-1-4-4-1 6 2 6 3 6 3 5 6-2 5-4 4-5-6-2-6 3-6-1-5 4-4 5-4 6-5 3-7 0-4-5-3-5-3-6-4-5-4-5-4-5 0-7-2 6 2 7-4 5 3 6 6 2 6-2 6-3 0-6-1-7M489 407l-6 0-6-3-6 0 6 0 6 2 6 2-1-6 1-7 6-1 6 3 5 2 6 3 4 5 2 6 7 1 6 0 4 5 3 6 2 6 5 3-2 6 1 7-6 1-7 0-5-3-5 4-4 5 0 6 0 6-6 4-6 1-6 0-5-4-6 1M532 437l7 0 0 7-6-1 1 6 2 6 6-1 4 5 7 1 4 4 4 5 6 1 2-6 7-1 4-4 6-3 4 4 5 5 5 3 6-2 7 0 5-4-4-5-6-3-6 2 0 6 2 6-3 6-5 3-2-6 4-5 5-3-5-4-4-5 3-6M446 479l0 7-5 4-4-5-5-4 6-4 4-4-5-4-5-4 2-6 0-7 7 0 6-1 0 7 6-3-1 6 6-1 7-1 1-6 4-6 2-5 1-7 4-5 7 1 6-2 4 5 5-4-1-6-6-2-5-4 0-6-3-6-5-3 6-3 3-5M425 468l-1 7-5 4 2-6-4-6 4-5 5-4 4-5 6-2 0-7 5-3 4-5 7 0 5 4-6 3-5 4-6-1 3 6 6 0-2 6-5-4-6-4-6 2 0 6 3 6 4 5 4 5 6-2 0-7-6-3-6 0-6 2-6-2-2 6-2 6M563 578l3-6 6 2 4 4 4 6 3 5 5-4-1-6 0-6 3-6-2-6 0-7-2-5 4-5 3-6 6-1 6-3 3-6 5-4 5 4 6 3 5-4 1-6-1-7-5-3-2-6-6-2-3-6-7 0-4 4-6-2-4-4-6-4-6 0-6 2M586 543l0 7 1 6 0 7-5 3-6 4-6 1 3 5 5-4 6 0-4-5-6 0-4-5-7 0-6-2-6-2 0-7-4-5 0-7-4-4-3-6-2-6-2-6-1-6 5-3 3-6-2-6-5-4-3-6 1-6 1-6-3-6-4-5-7-1-4-4M529 424l-1 6-6 2-5 5-6 2-6-1-6 3-3-6-2-6-6-2-3-6 1-6 4-4 4-6 2-6 3-6 6 1 4 6 0 6 6 2 6-3 6 2 0 7-4 4 3 6 6 1 6-3 5 4 6 2 6 2 5 4 2 6 3 6 1 6-3 6M522 477l-5 4 0-7-5-4-4-5-3-5-7 0-6 1-4 5 0 6 4 5 0 7 5 3 7 1 6 0 4-4-2-6-6 1-4 5-6-2-3 6-6 3-1 6 3 5 0 7-3 5-6 3-5 4-7-2-6 3-6 1-5-5-5-3-6 1-2-7M501 479l-2-6 4-5 6-2 0-6 1-7 3-5 5-4-2-6-6-1-7-2-6-1-5-4 1-6-6-3-6 3-2 6-7-1-6 0-4-5-2 7-6 3-4-5-3 6 3 6-6 3-6 3 0 6-6-2-5-4-2-6 5-4-6-3-1 7 3 6M636 513l6 1 6 1 2 6-1 7-5 4-6 0-6-4-4-5-1-6-5-4-6 1-6-1-7 2-5-4-7 0-6 2-1 7 0 6 1 6-5 4-6 4-4-5-7-1-2 6-6 1-6-2 1-6-1-6-7 1-1-6 1-7-2-6 6 1 6 2M535 507l-6 3-6-1-7-1-6-2-6-2-5 4-6 0 2-6 4-5 6 3-4 4-5 5-2 6 3 6 4 5-1 6-2 7-6 1-5 3-4-5-4-5-3-5-3-6-3-5-3-6 2-7 1-6 5-4 1-6-2-6-6-1-4-5-6-2-5-4M599 433l-5 5-4-5-5-4-6-3-5 2 0-6-3-6 3-6 6-2 2-6 4 5 4 5-5 4-6 1 2-6 3-6-6-3-4 4 0 7-6 2-6 3 5 3 6-3 7 1 6-3 2-6-1-6-5-5 1-6-6-3-7 1-3 5-6-1 2-6M552 532l-3-6-1-6 6 0 6-3 5 4 6 0 2 7 4 5 6-1 2-6-3-6 6-4-2-6-5-4-6-2-6-3-5-3 2-6 1-7-6-2-3-5-6-4-6-2-6-2 2-7 6-2 6-1 5-4 7-1 3-6-5-3-7 0-4-4-6-1M446 473l-3-6-6-2-4-5 3-6 6-1 6-3 4-5 1-6-2-6 0-6-5-5 5-4 2-6-2 6 0 6 0 7 2 5 7 2 6 1 5 4 5 3 6-2 6-4 6-2 3 6 5 4 2-6 6-2 6-2 6 1 6 2 7 1 0-7 3-5M473 457l-5-5-5-3-1 6-1 6-1 6-2 7 4 4-6 2-4 5-7 0 4 5 1 6-2 6-1 7-6 2-4 5-5 3-5 4 5 4 3 5 6 3 6-2 6 0 3-6 2-6 6 1 5 4 6 0 4 5 5-3 5-4 6 1 5 5 2 6M538 549l1 7-6 1-4 5 1 6 4 5 4-5 3-5 2-6 1-7 7 1-2 6 1 7 5 5-3 6-6 1-4 6 4 5 4-5 5-4 2-6 7 1 4 4 7 0 6 0 3-6-6-2-7 0 0 7 5 5-6 2-4-6-6 0-3 6-6-1M580 467l2 6 2 6-4 5-7 0-4-5-4-5 5-4 6 1 4-5 5-3 7-1 4-5 5-4 4-5-1-6 0-7-6-3-2 6-1 7-1 6-6 3-6-3-6-1-6-3-1-6 6-3 2-6 5-5-2-6-5-3-6-3-6-2-5 4-1 6M488 487l5 3-1 7-2 6-6 3-4 5-6 0-6-4-2-6-2-6 1-6 1-6 4-5 2-6 0-7 1-6 2-6 1-6-3-6-4-5 0-6 1-6 3-6 0-6-2-7-1-6-3 6 1 6 6 3 5 4 5-4 6-1 5 5-4 4 2 6M491 395l-4 4-3 6 4 4 2 6-3 6 2 6 0 7 0 6 4 5 6-2-2-6-7 0-5 4-6-2-3-5-4-5-4-5-6-1 3 6 0 6 5 4-1 7-6 3-6-1 1 7 1 6-1 6 3 5 6 3 3 5-6 2-6-2-5-3-7 0M579 536l7 0 6-3 4 5 6-4-1-6-1-6 0-7 0-6-5-4-6 1-5-5-6-2-6 0-6-3-4-5-4-4 5-5-3-6 0-6-3-5 2-6-3-6 0-6-2-7 6 3 5 4-6 3-3 6 0 6-1 6 6 2 5-3 4 5-2 6M625 503l6 1 6-3 6 2-1 6-6-3-4 4-6 3-7 0-4 5-7 0 1-7 2-6 6-3 6 2 3 5 6-3 4 5 4 5-3 6-6 2-2-6 5-4 6 3 5 3 6 3-2-6-3-6 6-3 4-4-1 6-5 4-1 6 0 6-6 3M541 465l4 5 2 6 6 1 5-4 5-4 5-4 6-3-2-6-3-5 6-2-2-6-7 0-6 0-6-1-6 2-6 2-6 3-2 6-1 6 0 7 0 6-4 5 1 6 2 6 6 2 6-1 7-1 5 3 6-2 7 2 6 0 6-2 6-3 3-6M482 434l6-1 5-5 6 3 6 0 6 1 5 4 1 6-5 3-4-5-4-5-6-2 0-7 3-6 2-6 2-6 5-3 7 2-1-6-4-5-6-2-5 3-6-4 2-6 7 1 4 4 6 3 6 2 4 5 6 2 6-1 6 1 6 2 0 6-1 7M639 510l6 0 3-6 3-5-2-6-3-6-6-2-5-3-3-6-5-3-3 5-7 2 1 6 5 5-5 4-2 6-7 0-5 3-1 6-2 6-2 6-5 4 3 6 1 7-1 6-4 5-5 4 0 6-6 3-5-4-4-6-5-2-3 6 6 3 6 2M462 433l-1-7 6-1 6 3 1-7 2-6 6 2 4-6-3-5 0-7 2-6-4-4-7 1-5-4 7-1 6 1 5 4 6-3 6 1 4 4 5 5 4 5 5 4 6-2 7-1 6-2 5-5 4-4 3 6 2 6 3 5 6 2 2-6 0-6 0-7M558 417l5 4 7 1 0 6-1 6 2 6 3 6-2 6 2 6-4 5-1 6 6 1 5 4 7 0 6 0 6-1 6 4 5 3 2 6 6 2 6 2 6-2 6-2 1 6 0 6-2 6 2 7-6 2-6 1-1 7-6 2-5-3-7-1-6-1-6 1M542 560l-6-1-5-4-6 2-3 5 3 6-1 6-3 6-6 1-6-2-4-5-7 2-5 3-6-4-4-5-6 0-4 5-4 5 6 3 1 7 6-2 5-3 6-2 7 0 6 0 4-5 4-5 5 5 6 3 0 6-1 6-1 7 6-2 3-6-4-5M584 558l3-6 6-2 4 4 3-6-2-6-6-2-6-1-6-1-6-2-6 4-5 4-2 6-6 1-6 2-5 5 2 6 1 6-6 1 0 6 4 5-6 0-5-4-6-2-6 3-4 5-6 3 1 6 4 5 6-3 0-6-2-6-3-6 2-6-6-2M470 421l5 4 6 2 6 0 7-1 5-3-1-6-2-6-2-6-7 1-6-2 2-6 6-3 2 6-1 7 6 3-1 7 0 6 0 6-5 4-6 0-2 6-5 4-4 5-6-3-6-3-1-7-6-3-6 1-4 5 0 6-5-3-1-6-3-6 5-4M508 575l6 2 6-1 5-4 6 0 7 2 6 1 6 1 5-4 2 7-6-1 6-2 5-4-7-2-1 6 6 3 4-4 5 4-6-2-4-5-6-3 2-6 2-6-3-6-6 3-5-4-7-1-4 5-6 2-6-1-5-4-6-1-1 6-4 5-5 4M528 382l-5-3 0-6-6 1 0 6-2 6 0 6-1 7-2 6-3 6-6-1-6 0-4-5-3-6 6 0 7-1 6-2 6-1 6-4 3 6 3-5 6-2 7-2 2-6-2-6 1-6 6 2 2-6-6 0-6 3-3 5 2 6-1 6-6 3 4 4M495 519l-2 6-6 4-5 4-5 3-5-5-5 5-5 3-7 0-3-5 7-1 4 4 7-1 6 2 5-3 7-2 4-4 2-6 3-6-1-6 0-7-1-6 2-6-2-6-6-2-1 7-4 5-5 3-1 6 6 0 6 3 5 4 2 6 3 6-5 4M537 486l-6 0-6 0-7 0-6 1-6 0-7 2 2 6-6 0-7 1-5 3 0 6 1 7 2 6 6-1 4 6-2 6 6 1 5 5 6 1 4 5 1 7-4 4-6 3-3-6-5-4-6-2-7-1-6 1 1-6 3-6 6 0 6 1 6 1 4 6M629 453l-6-3-6 0-4-4-6-3-6 1-6-3-5-4-5-4-4-5-2-6 1-6-3-6-6-3-6 1-4 4-6 3-2-6-1-6-7 1-4 4 1 7-2 6-4 5-5-3-5-4-6-3 0-6-5-4-4-5 1-6 2-6 6 2 3-5 2-7M468 505l-5-4-5 4-2 6 5 5 0 7 7-1 1-6 3-6-6-3-3-6 3-5 3-6-6 1-5 4-4 5-6-1 0-7 5-3 6-4 4-4 5-5 1-6-2-7-4-4-5-5 3-6-5-4 5-4 6-1 5 4 5 3 6 4-1 6 1 7M600 514l7-1 6 0 6 3 5 3 5 4-1 7-6 0-6-3-2-6-1-6-7 2-6 1-6 3-4-5 2-6 7-1 6 1 5 3 4 5-2 6-4 5-6 2-5-5-4-4-3-6-4-5-6 0-6 2-5 5 3 5 1 7-4 4-7-1 1-6M480 437l-2-7 6-2-1-7 2-6 4-4 2 6 3 5 2 7 5-5 5-3-1-6-6-2-3-6-6-3-5 3-6-3-5-5-5 4 1 6 2 6 5 4-1 7 3 6-3 6-5 2-7-1-1 6-6 4-5 3-7 0-6 2-5 3 0 7 5 3M539 391l6-1 4 5 4 5 4-6 5-4 6 1 6-1 7 0 1 6 2 6 6 1 7 0 5 4 0 6 6-2-6 1-6-3 1-6-5-4-6-2-4 5 3 5-1 6-7 1-4 5-2 6-1 7-6 3-5 2-5-4-5-5 2-6 2-6 6 0M570 444l-1 6-6-2-5-5-6 3-4 5 0 6-5 5-4 5-4 5-6-1-3 5 4 5 2 6 7-1 4 5 7-2 3-5 6-2 2 6 3 6 4 5 6-2 5-4 4-5-3-6-4-4 0-7 1-6-5 3-4-5 2-6-4-5 3-6-4-5M448 444l-5 4-5 4-6 2-1 6 1 6-6 3-6-3-6 4 0 6 3 6 3 5 0 7 4 4-2 6-5 4-6 2-1-6-3-6 6-2 4-6 6 1 4-5 6-1 2-6 1-7 5-4 6-1 4-5 6-3-3-6 0-6-4-5-5 5-6-2M532 508l-5-3 1-6 1-7 6 2 3 6-6 3 5 4 4 6 6 0 7-1 5-3 7-1-3-6-5-4-5 3-6-2-6-4-2-5 2-6 6-3 3-5 4-6-6-3-6 0-6 3-6 3-6 3-6 2-2-6 3-6 3-5 2-7-2-6 5-4M465 567l6 2 5 4 7 1-4-5 2-6-4-5-3-6-6-2-4-5-6 0-3-5-6-2-7 0-6-1-6-1 3 5 4 5 6 2 6 2 7 0 5-4 6 3 6 0 6-2 5 4 3 6-3 5 2 6 6 4 6-2 6 1 3-6 5-4 6-3"/></defs><use href="#ma2" stroke-width="2.0"/><use href="#ma2" stroke-linecap="round" stroke-width="6.0" stroke-dasharray="0 7.6"/></g><g transform="scale(0.25)" fill="none" stroke="#2210ac"><defs><path id="ma3" d="M596 410l-6-4-4-6-5-6-7-2-6 5-8-1-7 3 3 7-6 4-6 5-7-3-5-6 7-4 5 6 3 6-6 5 0 8-7 3 1 7-1 8-6 3-8 2-6 5-2 7 1 8M626 537l-8 1-6 3-2 8 4 6 8 2 4-7-1-7-3-8-2-7-4-6 1-8 6-5 7-2 6-5-4-7-7-3-3-7 0-7-5 5 0 7 7 4 6-4 4 7 7 3-2 8M587 454l-7-1-1 8-7 3-8-2-7 0-4 7-3 7 5 6 7 4-4 7-4 6-8-1-7 1-8-1 0-8-8-2-7 1-8 2-7-1-1-7 3-7-6-5-6-3-7 2-4 7M480 548l1-7 7-4 7-1 8-1 7-2 5 6 8 0 6-4 0-8 6-3 6-5 0-8-4-7 8 2 7 1 5 6 2 7 2 8 6 4 7 3 7 1-2-7 7 3 2 7 2 7M587 500l6-4 8-2 1-7 3-7 6 5 7 3 3 7 3 7-5 6-4 6-2 8-3 7-3 6 0 8-2 7 4 7-7-5-5-5-7-2 2 7 7-3-2-8-1-7 6-6-7-3"/></defs><use href="#ma3" stroke-width="1.4"/><use href="#ma3" stroke-linecap="round" stroke-width="5.2" stroke-dasharray="0 10.0"/></g><g transform="scale(0.25)" fill="none" stroke="#961a1a"><defs><path id="mbr0" d="M1357 317l-5-5-6-3-3-7 7-4 6 3 4 6 1 7 7-1 6-3 3 6-4 6 1 7 7-2 3-7-6-5-2 7-2 7-7 0-5 6-6 4M1467 513l-7 3-7-1 0-8-5-5 1-7-6-3-6-4-4-6-6-4-5-5-6 2-3 7-6 4-7 0-7 2-6 4-7-1-6-3 6-2 7-3M1451 339l-4-5 3-7-5-5 7-1 3-7-7 1-7 3-7-1-6 4-7-3 4-6 5 5 7-3 2-7 3-6 6 4 5 5 5 6 6 3 5-6M1251 617l0-7 3-7-7-1-7-1-6 4-2 7-5 5 1-7 1-7-6-3-1-7 7-2 3-6 7 1 2-7-4-6-5-5-5 6 1 7 5 5M1487 583l-7 0-8 2 1 7 1 7-2 6 3 7 7 1 8 0-1 7 6-5 3-6 5-6 0-7 6-2 6 4 4 6 3 6 8-1 5 5 2 7M1398 289l6 5-1 7-5 6-5 5-7 1-7-3 1-7-7-1-7 0-7 0-6-4-6 5-6 2-7 2-1 7 3 7 7 2 7 2-4 7 6 4M1387 288l-7-3-6 4 5 5 6 5 1 7-1 7-7 1-7 2 4-6 6 4-6 3-7 1-7 3 6-3 8 0 0-8-7-3-7 0-4-6-6-3M1253 620l6-4 6-4 1-7 6-5-7-1-4-6 0-7 8 0 6-3 0-7-7-3-3-7-1-7-6-4-7-3-3-6-7 2 0 8-6 4-7-1M1459 322l-6-4-7 3 7 3 6-3 6-4 7-3 6-3 3 6 4 6-7 0-2-7-7 2-7 0-6 4-7 0 0-7 7 2 7 0 5 5-1 7M1376 574l-2-7 5-5 3-6 7-4 5-4-2-7-7-2-5-5 1-7 5-5 6-4 6 3 6 5 7-2 7-1 7 4 0 7 0 7 3 6 0 8M1373 495l-3-7 7-3 7-2 5-5 6 2 8 0-1-7-4-6 1-8 5-4 2-7 4-7 0-7 3-6-7-4-7 3-4 6-6-4-2-7-2-7M1517 432l7 3 6-4 0 7-6 4-2 7 0 7 7 2 6 5-1 7 5 4 7 3-2 7-3 6-7 1-6-3-7 1-2-7 1-7 2-7 7 3M1409 642l7 1 1-7 5-5 7 3 7 2 6-4 0-7-1-7 1-8 1-7 1-7 7-2 6-4 7 1-1 7-6 4-3 7 1 7 7-1 7-2M1304 632l-7-3-7-1-6-4 5-6 7-1 0-7 1-8-3-6-4-6-5-5 1-8 3-6 5-5 6 4-7-2-4-5-8-1 1 7-5 5-1 7M1374 350l0 7 7 3-6 4 7 1 6 4 7 1 7-4 1-7-6-4 3-6 1-7 2-7 0-7-7-2-4 6-6-3-4 5-5 5 0 7 6 4M1202 532l5-6 6-3 3-7 1-7-6 2-7 3-7-2-7 0-7 2-7-2 1-7-2-7 4-6 1-7 0-7-4-6 1 7 6-3 0 7 2 7M1559 510l-4 6-6 4 2 7 7-2 7-1 0-7-5-5-7-2-2 7 2 7 3-7 4-6 1-7-7-2-7-3-7 0-1 7-7 3-6-3-6-3M1313 482l-1 8-1 7 7 3 6 4 6 3-1 7-1 7 6 4 5-5 4-6 7 1 7 3-1-7-7 3-5-4 6-4 4-6 5-5 6 2-1 7M1354 635l6 4 7-1 3-6-1-7-6-4-6-3-8 0-5-6-6-2-7 2-6-4-4 6-7 0-7 3-2 6-5 6-1 7 7 1 6 2 7-2M1404 575l-6-3-5-5-6-4 5-6 3-6 5-6-4-6-4-6 1-7 6-5 6 4 3 7-3 6-5 5 6-2 0-7 7-2 0-7-1-7 5-5M1430 628l7-2 6 4 4 6 5 6 3 6 3-6-2-7 5-5 3-7 7-1 6 4-2 7 4 6-7 3-7-2-7 1-8 0-4-5-7-2-2 7M1516 341l-6 4-3 7-6 4 0 7-7 2-5-5-7-2-5-5-4 6-4 6-5-5-5-6-1-7 1-7-7-2-6-4 1-7 2-7 4 6 4-6M1225 460l6 5 7-2 6-2 7-1 6-4 7 2 1 7-3 7 4 6 7 0 6 4 6 3-6 4-7 1 3-6 3-7 2-7-3-6-3-6-6-5M1470 432l-7-1-4-6 7 0 7 1 5 4 6 5 7 2-4-6-2-7 7-1 7-1 6-4 7 4-1 7-7 2-2-7 5-5 5-5-6-4-5 4M1323 341l-7 3-2 7 7-1 6-4 7-2 6 4 7 2 1-7 0-8 7-3 2 7-8 1-5-5-7 1-2 7-6 4-7 0-5-5 5-6 4-6M1586 499l5-6 6 4-4 5-6 4-5 6-2 6-5 5-7 3 4 7 7 0 2-7-7-1-7 1-4-7-7 3-4 6 3 6-5 5-6-5-2-7M1369 317l-7 4-7 1-6-2-7 0-8-2-7 0-6 2-5 6-4 6 2 6-7 3-4-7-6-3 3 6 7 2-1 7 0 7-3 7-6 2-6-4M1433 470l6-5 6-4-5 6 4 6 6 4-2 6 4 6 7 3 5 4 7 3 6 4 4-6 5-5 0 7 3 7 6 4 5 5 2 7 1 7 1 7M1485 649l3-6 2-7 1-7 7-3-2-7 7 2 1-8 5-5 6 4-3 6-4-5-2-8-2-6-8 0 2-7-4-6-6 5 1 7 7-1 6-4M1544 614l-6 4-7-2-5 6-7 3-6-2-6-5 1-7 6-4 0-7 4-5-7 0 4-6 5-5 6-4 4-6 5-5-5-6-6-3 4-6-7 2"/></defs><use href="#mbr0" stroke-width="1.8"/><use href="#mbr0" stroke-linecap="round" stroke-width="8.4" stroke-dasharray="0 10.0"/></g><g transform="scale(0.25)" fill="none" stroke="#2410b8"><defs><path id="mbb0" d="M1459 425l4-5 4 6 3 6-6 4-7-4 5 6 2 7-3 6-5 6-5-4 0-7 2-7 6 4 7-3-5-6-7 1-3-6-4-7 8 0 7 0M1369 365l-7-1-6-4-7 2-6 4-6 4-7 1-5-6-7-3 6-4 7 2 5-5 7 1 5 5 3 7-6 4-7-1-8-1 0-7-2-7-1 7M1399 310l-4 6 2 7-4-6-8 1-6 2-5 6-5 5-7 0-5-6-6 4-6-3-7-1-6-4 2-7 6-4 4-6 8 0 0 7-5 4 2 7M1319 460l-6-3 7-2 0 7 4 6 7-3 3-7 5-5-2-7-1-7-2-7-1-7-2-7 3-6 7 3-5 5-1 7-5 5-4-6 7-1 7 2M1304 306l-6 4-1 7 6 3 5-5-6-5 0-7 6-2 6-5 6 3 7-2 5 5-3 6-7 3-7-2 0-7 2-7-1-7-4-6-6 4 2 7M1269 393l1-7-1-7 1-7-4-6-7 0-6-4 2 7-6 3-7 2-4 6 5 5 1 7 3 7-7 3-6 4-7 0 2 7-5 6-6 3-3 7M1214 427l6 4 1 7 6 4 6 4 7-1 6 5 2 7-5 5-7 0-7-2-5 5-1 7-3 7-4 6-7 0-3 6-4 6-7-3-5-5-4-6M1292 342l2 7-7 3-7 2-6 3-3-7-7 0 2-7-4-6-4-6 6-4 7-1 3 6 6 5-7-2-7 1 3 6-2 7-7 1 1-7 1-7M1399 488l-7 3-7 1-7 3-7-1-7 2 7 2 6 3 6 4 7 2 6 4 7 3 0-8 6-3 6-4 7-1 3-6-1-7 3-7 4-5 7-1M1254 519l-4-6 5-5-4-5-1-7 5-6 6 3 7 0 1-8 3-6-5-6-6-3-3-7 3-6 7 2 8 0 6-3 7 2 1-7-6-3-7-2M1449 405l-1 8-4 6-6 3-7 2-5 6-3 6 5 5 6-4-2-7 6-3 6-4 3-7 3-7 6-3 7 1-2 7-7-3-6-5-5 5-7 1M1239 351l-3 6 4 6 1 7-4 6 1 7 7 2 4 6 8-1 4-6 7 2 7-2-5-5-8 0-7-2-7-1 0-7-5-5-4-6 7 1 5 6M1292 427l6 4 7-3 3-6 5-6 6-3 2-7-6-4-3 7-7 3-7 0-6 4 3-7 6-4-3-7 6-4 5 4 7 2 4 6 5 5 7 1M1572 607l5-5 0-8-6-4 6-3 0-7 7 1 0 7-6 4-5-5 4-5 7 0-1-7 7 0 5 5 2 7-7 3-7-2 0-7-1-7-4-5M1539 369l-6-2-7 2-6 4-5 6-6 4-5-5 3-6 7 1 7-1 7 1 7 3 6 3 7 3 7 0 6-5-3-7-7 1-7-1-3-7-6 5M1318 483l-6-5-1-7-7 0-7-3-7-2-7 0 7 4 7 1 5-5 2 7-1 7 0 7-2 7-6 4-6-3-6 4-7-1-6 4 0 7 2 7M1574 546l-7 1-5 5-5 5-1 7 8 0 3 6 5 5 3 7 5 5-5 5-3 7-3 6 1 7-6 5-6 3-7 0 4 6-5 5-7-1 0-7M1588 529l-6-3-4-6-1-7 2-7-3-6 2-7-1-7-6-4-5 4-7 2-7 2-5-6 0-7 1-7-5-6-6-4 0-7-7 0-7 0-7-2M1304 296l-7 2-6 5-3 7 1 7-7 1 1 7-4 6-2 7-7 3 6 5 6 4 5 4 0 8-3 6-7 0-7 3-2 7 3 7 7 2 5 5M1273 400l-1 7-7-3-3-6-1-7-5-6-6-3 4-7 2-6 8 0-1 7-5 6-6-4-3 7-7 0-6-4-3-7-7-3-5-5-7 0 1 8M1564 437l-7 0-6-4 0-7 5-6 2-6-6-3-6-4 5-6 1-7 1-7 0 7-5 5-3 7 5 5 1 7-1 7 0 7-4 6-7-1-3-7M1230 403l0-7 0-8-3-6-1-7-4-6-4-6-6 5 4 6 6 4 4 6 0 7 6-3 5-6 3-6-2-7-5-5 3 6 4 6 6 4 1 7M1443 314l-2 7 1 7-2 7 7 2 7 0 7-3 3-6-2-7-5-5 2-7 5-5-3-6 5 5 3 7-3 6-4 6 4 6 4-6 7 1 7-1M1346 633l2 7-5 5-5 6-7-1-6-4-7 0-6-3-7 2-7 0-6 4-4-6 4-5 7 1 7 2 2 7 4-6 5-5-7-2-7-3-4-6M1234 439l6 4 6-3-3-6-7 3-7-1 0-7-3-6-6-5-3-6 6-4 6-3 2 6 7 4-4 6-6-4 0-7 6-4 2-7 7-1 5-5M1231 525l-4 5-5 6 5 5-4 6-6 4-2 6-7 3 2 7 6 3 7 3 7 0 4-6-2-7-3-7-2-6-7-3-7 3-4-6 2-7 4-5M1320 506l4-5 5-6 7 0 8 1 2 7 2 7 6 3 7-3 5-5 4 7 2 6 2 7 0 7-7 0-7-2 1-7 7-2 8 0 3-6 4 6M1391 535l-1 7 7 2 5 4 4 6 4 7 4 5 6-3 7-3 4-6 0-7-3-6-5-6 1-7-3-7-2-7-2-7-2-7-6-3-7-2-7 2M1580 388l-8 0-2 7-7 1-5 5-2 7 1 7 7 1 7-2 7 2 3 7 6 2 1 8 5 5 0 7-1 7-1 7-1 7 2 7-7 2-7 0M1346 387l1-7 5-4 0-8 6-4 7 0 3 6-2 7-3 7 3 6-1 8-7 1 0-7-1-8 5-5 7-1 6 4 7 0 7 2 2 7 6 4M1549 549l7 3 1 7 5 4 2 7-1 7-7 3-5 4-8 0-6 4-2 7 5 5 2 7 1 7 3-7-3-6-7 2-3 6-6 4-8 1-5 5M1453 477l0 7 1 7 6 3 5 6 2 7 3 7 5 5 7 1-2-7-4-6 0-8 6-3 4-6 7 3 4 6 1 7 3 7 6-5 7 1 7 1M1550 373l-4 6 1 7 0 7-1 7-3 7-6-4-7 0-4-6-6-4-7-2-7 1-3 7-3-7-4-6-6-3-7 2-7-1 1-8 1-7-4-6M1184 509l7-1 7-1 7 1 5 5 0 8 7 2-3 7 7 1 3-7 7-3 6-3 7 0 6 4 7 3 7 3 5 5 7 0 6 3 7 1 3-7M1189 418l5-5 7 1 6 3 7 2 3 6 7 3 7 2 7 0 7-2 7-1 1-7-5-5-8-1-7-1-5 5-7 1 0-7-5-6 5-5 1-7M1290 653l6 4 7 2 7 1 4-6-1-7-6-4-7 1-7 0-6-4 2-6 1-8-2-7-5-5 7 1 6-4 1-7 5-5 1-7 6-4 7 1"/></defs><use href="#mbb0" stroke-width="1.8"/><use href="#mbb0" stroke-linecap="round" stroke-width="8.0" stroke-dasharray="0 10.0"/></g><g transform="scale(0.25)" fill="none" stroke="#961a1a"><defs><path id="mbr1" d="M1264 521l0 7-5 5 6 4 1 7-6 5 7 1 7 0 7 3 5 5 7 3 7-2 6-4 5-4 6-5 7 2-3 6-7 3-4-5 4-6 3-6M1372 621l1 8 3 6-5 6-6 3-7 2-7 3-5 5-7 3 7 1-4-6-6-2-8 0-6-4-7-1-6-3-1-7-1-7-6-4-6-5-7 0M1526 551l-7 0-7 2-6 3 5 4 4-6-2-7-1-7-2 7 3 7 4-6 6-5 2-7 8 0 6 4 6 4 7 0 2-7-4-6-6-4-7-1M1280 437l-7 2-7 0 6 4 5 4 7 4 3 6-6-3-1 7-1 8-4 6-2-7-2-7-2-7-5-5-5 5-7 0-3-7-7-4-1-7 1-7M1328 358l7 0 7 3-4 7-7-1-7 2 5 5 6-4 7-2 7 2 7 0 7 1 7 3 6 4 1-7 2-8-8 0-6-4-3 7-6 3-3 7M1274 505l-4 6-7-3-7-1-3 6-5 6-5 4-6 5 4 7 7 2 7 2 6-4 1-7 5-5 7-3-1-7 0-7 4-7 7 2 7-1 2-7M1555 520l4 6 7 2 6-3 7-2-2-7 0-7 7-2-1-8 8 0 4 5-2 7-2 7-7 3 3 6 1 7-3 7-6 5 4 6-7 2-7-4M1373 342l-7-3-6 4-5 5 7-3 3-7 3-6 5-5 2-7 4-6 3-7 4-6 0-7 2-7 1-7 7 1 7 2 6 4 2 7 7 2 7 0M1449 460l0 7-1 7-2 7 7 3 0-7 2-6 0-8-6-4-7 3 1-7-4-6-7-3-6-3-3-6-3-7 6-4 5 5 7 3 2 7 3 6M1469 503l-8-1-7-1-3 6 6 4 6-3-5-6 7-2 7-1 7 2 6 4 3-6 3-7 4 6-1 7-5 5-7 2-4 6-1 7-6 5-6 4M1416 638l6-5-5-5-4 6-5 4-5 6-3 6-3 7-6 4 0 8 0 7 3 6 7 0-7-3-5-4-6-5-7-2 1-7-1-7 0-8 1-7M1236 418l-6 3-7 2-6 4-2 7-7-2 0-7 2-7 6-4 6-3 7 1 6-4 7-1 3 7-6 5-4 6-7 3-1-7 2-7-1-7-1-7M1437 532l5-4 6 3 7-1 0-7 7-1 3 7-3 6-8 1-6 2-8-1 6 5 3 7 5 5-6 4-3 7 5 5 5-5 7 3 6 4 2 7M1399 372l-7-2-2-6-5-6-5-4-5-6-6-4 4-6 4-6-1-7 1-8 6-3 7-3-4-6-4-6-1-7-4-6-6-4-5 5-4 6-7-1M1462 651l-4 6-7 1-6-5-5-5-4 6-3 7 7-2 4-6-2-7 6 4 7 2 7 1 0-7-6-5 2-7 7 0-1-8 6-3 3-7 5-5M1295 333l-6-5-1 8-7 1 1-8 8 1 7 2 2 6 6 5 5 4 6 4 7 0 7 2 7-1 6-4 7-2 5-6 3-6-2-7-5 5-5 5M1334 659l6 4 2 7 7-2 7 0 7-4-1-7 0-7 1-7 8-1 5 5 3 7 7-1 7-2 3-6 6 4 7 0 5-5-5-5-5-5-2 7M1451 420l-8 0-7-2-3-6 6-4 4-6 6-3 7 3 0 7 0 8 2 7-2 7-6 4 0 7 5 5-6 3-7 1-7 1 5 5-4 6 6-3M1303 558l-6-5-7 3-6 3-7 3-5-5 7-2 7 0 4 6 1 7 6 5-4 6 2 7 1 7-1 7 1 7-7 1-5 5 1 7 4 6 3 7M1384 642l5-6 3-6 7 0 6 4 7-1 7-1 7-3 6-4 7 3 6 2 6-4 7 2-1 7-7 0-6-4-5-5-1-7-3-7-4 6-2 7M1464 350l-7-3-3-6-6-4-6 3-2 7-3 7-4 6-4 6 0 7-7 3 0 7-6 4-2 7 4 6 7 0 5 5 4 6-1 7 4 6 4 7M1398 507l7 1 7 3 4 5 4 7 0 7-3 7 3 6 6 3 5-6 6-4-1-7 5-5 4-6 7-1 2 7 1 7 7 4 3 6 6 4-3-7M1352 474l-7 1-3-6 2-7 5-5-1-7 6-3 7 3 4 5 7 3 7 0 6 4 2 7 4 6-7 1-5 5-7 3-1 7-3 6-6 4-7 1M1485 548l7 3 1 7-7 1-6 5-7-3-6-4-7-1-5 5 3 6-4 6-5 6 4 7 0 7-4 6-7-2 4 5 6 5 6 3 3 6 5 5M1369 443l-5-6-2-7 1-7 7-1 7 2 1 8-7 0-6 3-7 4-1 7-1 7-6 4 7 3 7 1 7-3 4 5 4 7 6 4 6-4-3 7M1407 406l-1-7 0-8 3-6 0-8 7 0 6-3 8-1 6 3 5 5 7 2 6-3 4 6-6 5-5 5 0 7-6 4-8-2-4 6-6 4-3 7M1206 463l7-1 7 0 7 3 7-2 7 0-3-7 3-6 6-4 7-1-3-7-6 3 4 6 2 7 4 6 2-7 5-5 4-6 3-7 1-7 3-6M1539 453l-2-6-7-4-6-3-5-6 2-6-3 6-1 7 6 4-1 7-2 7 1 7 2 7 3 7 7-2 7 2 7 0 7-2 5 5 4 6 7 2M1193 412l-5-5 6-4-1-7-7-2-2-7 5-5 7-2 7-3 4 6 7-1 5 5 7 2 1-7 0-7 1-7 7-2 6-5 6-2 7 1 5-6M1518 424l0 8-4 5-4 6-5 5-7-2-7-1-1 7-1 7-1 7-7 2 2-7-5-5 7-2 5-6 6-3 7-1 5-5-2-7-3-7 2-6"/></defs><use href="#mbr1" stroke-width="1.8"/><use href="#mbr1" stroke-linecap="round" stroke-width="8.4" stroke-dasharray="0 10.0"/></g><g transform="scale(0.25)" fill="none" stroke="#2410b8"><defs><path id="mbb1" d="M1275 511l4-6 7 0 7-1 7 2 3 7 7-2 7 0 7 2 7 2 7-1 6 4 4-6 5-4 5-6 7 0 1-7 3-7 6 2 4 6-2 7M1204 609l-2-7-3-7-7 1-4-6 3-7 3-6 5-5 3-7-6 4-1-7 3-7 7-1-7 1-3-7-1-7 4-7 5-4 7 2-1 7-4 6M1529 403l6-3 0-8 3-6 7-1 7 0 7-2 8 0 7-2 2-7-7-3 2-7 1-7-5-6-7 0-6 3-8 1-7-2-7 0-7-1-4 6M1383 323l6-4 4-6 5-5 0-7 2-7-1-7 7 1-1 8-2 7-4 6-6 3-7 0-5-5-2-7 1-7 7-3 7 0 4-6 7 3 4 5M1454 328l-1-7-4-7-7-2-3 6-4 6-5 5-6 4-7 0 3 6 4 6 0 7-2 7-6 5-4-5 7 2-7-1 1 7 4 6-4 6-2 7M1578 385l0 7-8 1-3-6-2-7 6-5 0 8-5 5-7-3-6 3-6 5-5-5 1 7 4 6-3 7-7 2-1-7 0-7-6-5 2-7 0-7M1484 558l2 7 3 7-6 5-3 6 4 7-2 7 3 6 6-5 0-7-7-2-2 7 5 5-2 7-7 1-1 7 5 6 4 5 7-1 6-4 3-7M1513 461l-4-6-6-5-5-5 1-7 5-5 4 6-2 7-7 2-7 1-5-4-8-1-6-3-6 4-7-1-7-3-7 2-6 4-5 5-7-1-2-7M1428 575l4 6-2 7-1 7 7 1 6 4 5-5 8-2 6 4 5-4 7-3 6-3-3-7 7-3 3-6-5-5-5-5-6-5-5-4-6-4-4-7M1457 549l6-3-2 7-5 5-1 7-6 3-8 1-4-5-7-3-6-3-5 6-7 0-3-7 7-2-3-6 5-5 0-7 7 2 1 7-1 7 4-6M1392 598l0 7-2 6-2 8-3 6-5 5 0 7-6 5-1-8 7 1 3-7 1-7 2-7 7-3 7-2 6 4 1 7 3 7 4 5 4 6-4 6M1298 304l-6-4 3-6-3 6 5 5 0 7-5 5-7 1-7-2-5-5-4 7 7 0-1-7-3-7-6 4 5 5-2 6 4 6 7 2 6-3 7 2M1270 578l8 0 2-6-1-7 2-7 4-6 7-2 6 4-3 7 3 7 1 7 4-6 5-5 4-6 4-6 6-3-2 7 2 7 5 5 2 7 6 4M1524 469l5-6 2-6 2 7-7-1 0 7-5 6 1 7 6 4 4 7 6 2-4 6-6 4-5 4-7 3-6-4-5-6-7 2-3-7-1 8 3 6M1533 499l-1 7-2 6 2 7 7 1 7 4 4 5 1 8-3 6-2-7 7 1 6 4 0 7-1 8-7 1-1-7 3-7 7-1-6 3-1-7-7 0M1503 400l7-3 7-2 7-2 7-2 6-3-7 1-6-3-4-6 3-6-5-6 0-7 4-6-1-8-3-6-3 7 3 6-5 5-5-5 2-7 7-2M1579 406l-7-2-6-5-5-5-4-5-2 6 6 4 5 4-1 7 0 7 3-6-3-7 1-7 2-7-1-7 3 6 6 5 5 5-6 5-7 1-5 6M1244 329l2-7 7 1 7 1 7-2-1-7 7-2 6 4 7-1 7 1-5 5-7-1 7 4 7-1 0-7-7 2-6-5 7-1 5-5 7 2 6-5M1381 419l6-3 6 4 7-2 4 6 7 2 6 4 6 4 7 3 6 3 5 5-2 7-7-1-6 5 2 7-3 7-5 4-5 5 1 7 4 6 7-1M1311 345l-1-7-6-4-6 4-4 5-8-1-7 0-7 1-1 7-3 7-6 4-6 3 1 8 7-3 6-3 0 7 7 1-2 7 1-7-5-6-2 7M1348 491l1-7 7-3 3-7-2-6 6-3 6 5-1 7-7 2-4 6-7 1-6 4-7-1-5 6-5 5 8 1 6 4 7-1-6-5-6 3 7 1M1438 434l2 7 8 1 4-6-2-7-4-6-6 4 1 7 5 5 6 3 6-4 1-7-7 1-7 1-7 2-2 7 4 6 2-7 2-7 6-5 7 2M1585 515l3-6 5-6 1-7-3-7-7 1-6-4-4-5-7 3-6-2-6 4 4-6-1-7-4-6-4-5-3-7-6-3-7 2-7 2 1 7 1 7M1253 474l6-3 5-5 7 1 7-3 7 0 6 3 1 7 4 6-6 5-5 5-6 5-5 4-2 7-3 6 4 6 7 3 4 6 4 6 3 7-3 6M1454 421l4-6 6 5 1-7-3-7-5-4-7-2-6-3-7-2-7 4-7-1-3-6 4-6 5-5 6-3 0-7-4-6-2-7-6-4-7 1-4 6M1438 632l-1 7 6 4 5-6-2-7 3-7 1-7 0-7-1-7 3-7 7-3 7-1-4-6-3-6-7-2-7 1-5 4-4 6-6-5 4-6 5 6M1343 557l2 7 2 7 0 7 3 7 6 3 5 5 0 8 4 6 6 4 7 2 6-4-1-7 4-6 0-7 5 5 7-3 6-4 7 0 7-1 5-5M1422 618l-2-7 5-5 0-7 6-4 6-3 7-2 8-1 7 2-2 7-6 3-6-4-5 5-1 7-2 7-6 4-2 7-4 6 3 7 1 7-2 7M1222 534l0 7 5 6 7 2 4-5 1-8 7 4 7 2 1-7-7-1-7 2-7 1-6 4-5 5-6 4-7 3 1 7 7 1 7 1 6 4 2 7M1440 446l-7 2-2-7 1-7 7 0 3 7 3 6 4 6 4 6 7-2 6-5 3-6 2-7 6-3 0 7-6 5-7 0-3 6-3 7-2 7-7-1M1552 459l-7 0-7 1-1 7-5 5-6 5-3 6 2 7 4 6 3 6 5 6-1 7-2 7 2 7 2 7 2 7-6 4-7-1-7-4-6 3-4 6M1343 417l-7 2-2 7-7 1-5 6 6 4 2 6-3 7 6 4 7 4 6 3 5 5 5 5 3 7-2 7 2 7 4 6 5-4 5-6 6 4 7 2M1443 378l2-7-7-3-2-7-6-4-7 0-7 2-4 6-6-4-1-7-4 6 7 2 0 7 6 3 0 7-1 7-4 6 7 3 6 3-5 5-4 6M1279 469l0 7-6 5-4-5-3-7 0-7 6-4 6 4 1 7 4 6 6 4 7 3 7 1 6 3 7-2 6 3 6 4 5 5-3 7-3 6-3 7M1340 587l-6 4-3 6-7 2-2 7 1 7 6 5-3 6-6-3-6-4 2 7 1 7 6 4 6-5-5-5-6-4-5-6-7 2-7-1-5-6 7-3M1391 565l-4 6-6 4-7 2-7 0-6 4-6 4 0 7 2 7 5 5 4 7 6 2 1 7-4 6-7 3-3 6-7-3-7-1-4-6 1-7 7-3"/></defs><use href="#mbb1" stroke-width="1.8"/><use href="#mbb1" stroke-linecap="round" stroke-width="8.0" stroke-dasharray="0 10.0"/></g><g transform="scale(0.25)" fill="none" stroke="#961a1a"><defs><path id="mbr2" d="M1287 433l-7-2-2-7-3-6 7-2 6-3 0-7 7-2 3-7-4-6 5 5 7 1 3 7 6 4 6 4 1 7 0 7-6-4-5 5-7 1-6 5M1398 559l7-3 7 0 0-7-6-4 6-3 7 1 3-7-2-6-7 2-7 1-6 4-6 4-7-1-2-7-7 1-7 1-4-7 0-7-3-7-4-5M1358 464l-2-7-5 5-7 1-2 7 0 7-2 7-7-3-6-3-7-3 0-7 7-2 2 7 1 7 6 3 7-2 4-6-4-6-7-1 2-7 3-7M1536 582l1-7-6-5 0-7-3-6 3-7 5 4 0 7 6 5-2 7 6 3-3 7-7-1-6 4-5-6 0-7 5-5-4-6 5-6 5-5 7-1M1448 373l0 7 6-4-4-6-1-7 6-4 6 5 7 3-6 5 2 7 7-3 6 4-2 7 4 6 4 6 5 5 6-4 6-3 2 7 7-1 7-1M1255 396l1 7 2 7 7 3 7-3 3-7-5-5-5-5 0-7-3 6-1 7 4 6 7 3 6 4 7 1 6-3 7 4 6 3 7 1 2 6 4 6M1470 554l5-5-4-5-5-6-7-2-6-4-7-2-6 3 3 7-2 6-3 7 6 3 6 5 3 6-4 6 0 7-1 8 2 6-7 2-7 1-5 5M1525 561l-7 1 0 7-1 7 4 6 7-1 3-7 3 7-1 8-5 4-4 7 1-8-4-6 2-7-6-4 6-4-7 3-5-5-7-1-6-4 4-6M1299 550l-1 7-2 7 4 6-7 2-6 3-5-5-7-1 0-7-5-5 4-6-8 0-4-6-7 1-5 6-7-1-7 2-6-3-7 2-2 7-2 7M1291 644l0 8 6-4 7-1 7-1 7-2 4 6 6-3 7 2 8-1 5 5 5-4 3-7 0-7 6-4 6-3 4-6 4-6 5 6 7 1 7 3M1425 536l-5 5-6 4-6 4 2 7 6 4 7-1-2-7-3-6 0-7 7-1 6 3 3 7-7 1-2-7-3-6 2-7-1-7 7-2 7 2 7-1M1482 383l7 1 6-2-1-8 5-5 7 0 7 3 5 5 7 2 3 7-7-3-3-7-4-6-3-6-4 6-7 3-2 7-1 7-3 7-7-2-7-2M1352 617l0 8 1 7 7 1 7-1 2 7 3 6 2 7 5 5 7-3 7-2 4-5 7-4 7-2 3 7 5 5 6-4 1-7 0-7 1-7 1-8M1482 326l-7 1-7 4-7 1 1 8-7-2-5 6 6 4 6 4 1 7-4 6-5 5-1 7 2 7 3 7 7 0 5 5 4 6 7 0 7-1 3 6M1433 506l-6 4-4 6 3 7 5 4 6 4 7 1 2 7 5 5-7 2-1 7 5 6-6 4-7-2-2 7-7 2-5 4-7 2 4 7 6 2 6 5M1429 320l-1-7-4-6-4-6-7-1-5 5-5 6-5 4-6 4-7-2-5-5-7 1-7-3-6 3-6-5-5-4-7 2-5 5 3 7 6 3 4 6M1302 459l7 1 1-8 5-5 0-7-6 4-5 4-2-7-1-7 1-7 1-7 7 2 8 0 7 1 5 5 6-4 7-1 4-6 8 1 0-7 7-2M1387 413l-6 4-7-1-5 5-7 3-6 4-3 6 3 6 3 7-1 7 5 6 6-2 6 5 6 3 5 5 4 6 1 7 4-6 7-2 4 6 0 7M1478 439l7-3 7 1 7 3 7 0 7 2 2-6 7-2 6 5 6-5 2-6 4-7-8 1-5 4-6-4-4-7 4-6 3-6 0-8 6-3 7 0M1534 483l7-2 6-3 4-6 5-5 2-7 5-6 6 4 0 7-4 6-7 1-7 0-7-3-4-5-2-7-7-4-6-3-3-7 4-5 7 2 7-1M1393 380l-6 4 2 7-7 3-1 7-1 7 5 6 4 6 6 3 5 5-1 7-1 8-1 7-1 7 5 5-4 6-6 4-4 7 7 1 5-6 7 2M1492 593l-7 2 1 7 6 4-7 3-2 6-6 4 7 1 6 4 7 2 4-6 6-4 8 0 4-6 5-5-2-7 2-7 7-3 7-1 7 0 6-4M1295 596l1 7 6 4 6 4 6 5 1 7 2 7 1 7-1 7-7 1 7-2 7-1-4 6 0 7 2 7 6-4 6-4 5-5 2-7 6-5 6-4M1316 395l1-7 1-7-3-7-6-5-7 0-7 2-4 6-4 6 5 5-4 6-4 6-2 7 1 7-8 1-4 5 4 6 4 6-6 5 1 7 3 7M1490 355l-7 3-7-3-6-3-6 4-7 1-8 0-7 2 1-8-5-5-7-3-7 1-7-3-6-3 5-6 6-4 7-2 1-7 3-6 7-4 0 8M1399 533l-1-7-4-6-8 0-3 6 4 7 6-3 5 5 7 0 6 4 1 7 4 6-7 2-1 7-6 3-6 5 3 6 3 7 2 7 4 6-4 5M1239 388l7 0 5 6 7 2 7 2 7-2 6 3 2 6-6-3-3-6-4-6-7-2-6-4 0-7 4-7 2-6 5 5 6 4 6 4 6-5 6 5M1465 333l-3-6 1-8 4-6 6 4-2 7 0 7 1 7 1 7-6 4-5-6 6-4 6-3 7 1 1 7 2 7-1 7 4 6-6 3-6-5-6-4M1426 575l2-7 6-4 4-6-4 6-7 0-3-7-7-2-7 3-4-6-5 4-5 6-7-1-3-7-7 1-4 6 1 7-3 7 5 4 5 6 7 1M1388 373l7-2 0-7-2-7-1-8 7-1 7 1 2-7 7-2 5-5 6-4 4-7 5 5 7 2 7 2 7-2 5-5 2-7 7-2 2-6 7 3"/></defs><use href="#mbr2" stroke-width="1.8"/><use href="#mbr2" stroke-linecap="round" stroke-width="8.4" stroke-dasharray="0 10.0"/></g><g transform="scale(0.25)" fill="none" stroke="#2410b8"><defs><path id="mbb2" d="M1251 606l-7 1-7 0-4 6 2 7 7 3 6 4 4-5-1 7 7 3-3 6 7-1 7 1 7 1-1 7 7 0 5 5 7 2 3-6 2-7 5-5M1527 386l3-7 0-7 4-6-4-6-1-7 7 2 7 2 2 7 7 3 7-2 7-1 5-5-5-6-7 3-1 7 0 7-5 5 1 7 5 5-4 6M1340 303l5 5 6 4 3 7 2-7 6 4 6 5 2 7 3 6-2 6-7 1-7-2-7 2-3 7-6 3-7 2-6 4-7 1-6 5-7-1-7 0M1305 548l5 5 2 7 0 7-1 7-4 6-4-6-3-7-7 2-7-2-3-6-6 2-1-7 3-6 5-6 7 0 6-4 6 4 7 1 5 6-3 7M1231 528l0 7 6 5 5 5 7-1 4-6 6-5-1-7 4-6 3-7 0-7 7 0 1-8 1-7 7-3 7 2 7 0 4 7-1 7-1 7 6 3M1273 431l-4-6-6-4-6-3 0-8-3-6 4-6-3-6-7-1 1 7 3 7-6 4-7-2-6 4-7 1-7 1-1 7-4 6 6 3 4 6 3 7M1303 291l-5-5-6 5 5 5 7-3-6-5-7 1-3 6 6 4 7-1 5 6 4 6 7-2 3 7 3 6 5 6 3-6-2-7 7-4 5-5 6-3M1436 674l7 0 6-4 0-7-5-5-6-4 6-3 6-4 1-7 2-7 5-5 3-7 7-3-2-7 4-6 5-4 7 1 7 3 6-4 5 6-6 4M1589 533l4-6-5-6-4-6-6-3-4-6 6-3 6-4-1 7 5 5-4 6-7 1-7-2-5-6-3-6 1-7-1-7 2-7-6 4-2 7-3 6M1535 462l-1 7 5 5 6 4 1-7 1-8-1-7 2-7-5-5 5-5 7-2 6-5-5-5 0-7 1-7 7-1 4-6 2-7-6-4-7-3-6-3M1531 388l-6 4-4 6-6 4-2 7 1 7-6 3-6-4-7 3-7-1 1-7-3-7-3 6 1 7 0 8-3 6-7 3-1-7 4-5 4 5 4 7M1277 329l6-2 7-3 5-6 5-5-2 7-6-4 0-8-7 0-7 3-2 7-7 2-7 2-4 6 0 7-7 1-7 0-7-3 1-7 6-3 8 0M1521 651l-7-3-5 5-7-1-7-2-1-7 2-7-4-6-6-4-6-4-3-7 2-7 2-7 4-6 7-3-6-4-7 2-7 2-7 0-7 0-4-6M1346 457l-7 0-4 6 0 7 2 7 7 2 4 6-4 6-1 7 4 6 4 6 1 8-1 7 5 5 5-5-3-6-5 5-7-3-4 6-4-5-7-1M1281 539l-1 7 6 3 7-3 7 1 7-3 6 4 1 7 5 5 3 6-5 6-3 6 2 7 0 7 5-5 7-1 7-2 2-7 5-5 7-1 7 3M1303 404l6-3 3-7-2-7 3-6-3-7-7-2-7 4-5-5-6-4 2-7-4-6-5-5-1-8 7-2 6 4 4 6 5 6 2 7-2 7 7 3M1321 597l3 6 7 0 7-3 1-7-5-5 0-7 3-7-5-5-3-7-2-6-7-1-7-1-4-6-7 0-4 6-7 0-7 3-7 2 3 7-3 6M1539 394l-1 7 4 6 8 1 0-7 6-4 7 4 5 5 6 4 6-4 7-2 2 7-4 6-7 1-1-8-2-7-6 5-7 1-5 5-7 1-7 0M1431 459l-6-3-4-6 7-2 4-5 6-4 7-3 6-4 6-4 7 0 6-3 6 4 6-4-1-7-6-4-4 6-6 4 1 7-6 4-6-4-7 2M1271 423l6 3 2 7 7-3 1-7 7-3 5-6-6-4 5 5-2 7-7 3-5 5-6-5-7-1-6 4-6-5-5 6-5 5-7 2-6 4-5 4M1285 488l7 1 7 1 7-2 5-5 2-7 3-6-4 6 1 7 0 7-4 6-4 6 1 7-2 7 4 6-1 8 5 5 3 7-5 5-3-6 4-6M1543 611l-7 1-7 1-5-5 2-7 6-4 7-1 6-3 6 3-6 4-4 6-4-6 1-7 3-6-6-4-2 6-6 5-7 2-6 3-7-2-8 0M1459 319l-3 7-5 4-4 6-2 7-7 3-7 2 2 7 5 6 7-2-3-7 5-6 0-7 3-6 5-5-2-7-4-6-5-5-4-6-6 4-7 2M1347 582l-6-4-4-5-6-5-7-1-7 0 0 8 6 5 5 4-1 7-7 2-1-7-6-4-7-2-5-5-4-6-5 5-6-5-4-6-3-7 0-7M1591 515l5 5-5 4-7-2-6 4-6 5-7-1-7-2-5-5-7 1-7-1-5-6-7-1-5-5 0-7-4-6 6-4 5-6 7 3 5 5 6 4M1290 493l0 7-2 7-6-2 0-7 7-4 6-3 3-6 7-3-2-7-6 4-5 5-4 6-3 7 5 6 6 4 6 3-1 7-3 7 4 6 6 3M1482 554l6 5 5-5 6-5 6-3 7 2 6 4 2 6 2 7 7 0 8 0 2-6 7-3 6 4 0 7-7 3 0 7-7 1-3-7 1-7-2-6M1532 479l-6-3-4-6-2-7 7 2 7 1-3 7-6 4-6 3 3 7 7-1 0-8-5-5-5-5-6-2-7-2-5 5-7-1 5-6-1-7-5-5M1283 314l7 0 1 7-6 4-3-6 7-2 7 2 7-2 6-3 7-3 5 5 7-2 6-3 3-7 5-6 1-7 3-6-1-7-6 4-6 4-1 7M1188 554l3 7 7 3 7 1 4-6-1-7-3-7 4-5 5-6 7 1 8 0 3 6 8 0-5-5-7-2-6 2-6-4-7-1-7-1-6 5-3 7M1299 465l-4 6-6 5-4 6-6-3-6-4-7 1-7 3-5-5-6-4-8 0-1-7-5-5 3-7 4-5 5 5 6 3 7 3-1 7 2 7-1 8M1349 678l-7 2 7 2-2-7-7-2-7 1-3 7 7 0 6-4-6-5-6-3-7-1-7 0-5-5-2-7 7 1 7-1 7-3 6-4 7-1 6 4M1458 519l5 5 6 4 4 6 6-5 4-5 7 0 2 7-3 7-2 6 5 6 7-1-2-7-6-4 7-3 6-3 1-7-6-5-7-1-5 5-7 0M1398 527l2-7 2-7 5-5 6 3 7-1 6 5 7 2 2 7 2 6 3 7-1 7 3 6-1 7-1 8 3 6 3 7 0 7 3 6 3 7 5 5M1464 344l2 7-7 3-7-2-7-2-5-5-6 4 6 5 6-3 6-4 0-7-6 4-7 3 2-7 7-2 4-7 6-3 7 2 4 5 0 8-1 7M1467 332l0 7 6 5-2 7-5 5-4 7-7-2-3 7-7-1-5 6-6 4-7-1-1 7-5 5-8 1 1 7-6 4-6 4 0 8 7 3 6 3"/></defs><use href="#mbb2" stroke-width="1.8"/><use href="#mbb2" stroke-linecap="round" stroke-width="8.0" stroke-dasharray="0 10.0"/></g><g transform="scale(0.25)" fill="none" stroke="#961a1a"><defs><path id="mbr3" d="M1285 343l-7 1-8 0 2 7-7 0-7 0-5 5-7 1-5 5 4 7 2 6-1 7-4 7-2-7 0-7 7 3 7-2-1 7 1 7-7 1-7-1M1265 388l-6-3 0-8-3-6-7 0-3 7-7 1 7-2-2 7 3 6 3 7 1 7-7 3 6 4 7 0 7 1 6-5 6 3 7 1 7 0 6 5M1312 354l-4 6-5-4-4-7-5-4-7-3 5-5-5-6 3-6-6-4-6-5-6-2 6-4 7 2 4-6 7 0 1 7-8-1 0-7-5 5-2 7M1271 632l6 3 1 7-5-5-5-6 2-7-7-2-6-4-7-1-7 0 6 4 7 2 7 2 6-4 6-3 5-5 6 3 3-7 7-1-2-7-5-4M1451 374l5 5 7 3 7 2 5 4 6-4 1-7-5-5 2-7 5-6-3-7-6-3-7-2-2 6-7 2-2-6-2-7 5-5 7-3-3-7-6-3M1304 643l-7-1-4-6 3-7 7 1 6 4 1-7-7-2-6-5-3 7-5 5-5-5 2-7-5-5-1-7 1-7 0-7 1-7 6-4 4-6-4-6M1516 486l-5-4 5-5 3-7-2-6-3-7-1-7-7-3-7 1-5-6-4-6-4-6-6-3-4-6-7 3-6-4-6 4 1-8-5-4-7 3-6 3M1354 287l-6 3-6 4-3 7-7-3-5 4 0 7 5 6 7 2 5-6 5-5 2-7 1-7 7 2 5 5 7 2 2 7 4 6 2 7 7 4 7 2M1483 326l-7 2-6-4-7 1-5-5-4-6 3 7-4 6-6 4-3 6-6 5-7 1-7-1-6 4-5 5-6 3-6 5-7-1 1-7 1-7-4-6M1353 533l7-1 6-5-2-7-3-6 1-7 2-7-3-7-3-6-7 0-6 3-7 1 1 8 7 1 5 5-3 7-4 6-3 6-1 7 6 3-5 4M1517 435l0-7 3-7 4-6 0-7-2-7 7-3 6-3-5-5-7 2-6-5-6-4-4-6-3-7-4-5-5-6-6 3-7-3-6 4-6-4-7-2M1212 394l-5 5-4 6 3 6 3-6 2-7 7-1 6-3-3-6-7-3 5-5 7-2 7-2-1-7-1-7-7 1 5-5 7 2 6 3 5 5-2 7M1323 469l-7-3-6 4-5 5-1 7-1 7 3 7 4 6 1 7-7 1-7 1-7 2-6 4 1 7 7-2 7 2 2 6 5 6 4 6-2 7 0 7M1476 469l5 5 5 4 6 5 4 6 4 6 0 7-5 5-5-5-6-4 0-7-6-2-6-5 0-7-6-4 5-4 6-5 0-7-4-6-7 0-5-5M1218 548l-7 2-4-6 7-1 5-6 6 4 6-2-5-5-7-2 1 8 6 4 6 4-4 6 3 7 5-5 7 2 7 3 2 7 5 6-1 7-7-2M1517 509l-4-6 4-6 7-3 6-4 2-6-1-8-7-1-7 1 3-6 6-4 5 5 2 7 4 6 6 4 7-1 5 5-2 7 2 7 2 7 7 2M1291 534l0 8-7-2-6-5-5-5-7-1-3 7 3 6 6-4 6 4 6 5-1 7 5 5 2 7 4 6-3 6 0 7-7 2-7-1-7-1-6-4M1281 330l4-6-3-6-7-2-1 7-7-3-4 6-2 7-2 7-4 6 2 8-1 7-4 6 1 7 4 6-1 7 3 6-5-4-2-7-3-7-6-3M1523 456l5-5-2-7-4 6 2 7 6 4 2 7 7 2 3 6 5 6 2 7-1 7-3 6-1 7-5 6-5 5 3 7 2 7-3 6-4-6-5-5M1457 658l-6-4-7 3-7 2-6 3 7-3-4-6 0-7-6-4 1-7 6-5 7 1 2 6 3 7-2 7-5 5-4-6 6-5-6-4 2 7-7-2M1494 612l-4-6-5-5-2-7-7 0-7-1-1-7-1-7-2-7 2-7 6-4 2 7 0 8-4 6-1 7-4 6-7 0 1 7-6 4-5-5 2-7M1211 565l4-6 1-7 0-8 2-6 5-6 6 3 6 5-7 2-7-2-1-7 6-4 8 0 6-2-5-5-5-5 6-5 4 6 6 5 7-1 6-2M1397 456l-1 7-3 6-4 6 7 2 6 3 7 2 7 1-1 7 5 5 7 2 7-1 7 1 7 2 4-6 3-7-5-5 6-3 8 1-1-8-2-6M1360 324l-3 7 3 7 2-7-6-4-7 3-5 5-2 7-2 7-7 3-2-7-2-7-6-4-5-5 1-7-5-5-3-7 0-7 3 7 7 2 5 6M1395 309l2 7 2 7 5 5-7 3 1 7-3 7 6 4 5-5 1-8-7-2-6-4-6-4 1-7 2-7 0-8-3-6 7 1 7-2 6-3 3 7M1253 571l-7 1-3 7-2 7-1 7 1 7-4-6 6-5 1-7 6-3-4-6-3-7 0-7 5-5 4-6-3-6-1-8-7 0-7-1 4-6 1-7M1422 458l0-7 5-4 4-6-4-5-4-7 5 5-6 4-5-4-7-1-7-2 5 5 7 1 7-3 5-5 6-4 0-7 5-4 7-4 7 2 2 7M1493 486l-5 5-2 7 7 2 7 2 2-7 3-7 6-3 7 1 6 5 7 2 7 1 7-1-6-4 1 7 7 3 6-3 6-4 6-5 7-1 5 5M1470 576l-7-2-7 1-6 4-6 4 6 5-2 7 7-3-1-7 4-6 0-7 3-6-2 7-6 3-7-1-6-4-4-6 5-5 7-2 5 4 7 0M1428 493l4 5 6 4 7 1 5 5-4 6-7-1-6-3-5-5-2-7 1-7 4-7-4-6-6-4-7 4-3 7 6 4 3 7 7 1 3 7 5 5"/></defs><use href="#mbr3" stroke-width="1.8"/><use href="#mbr3" stroke-linecap="round" stroke-width="8.4" stroke-dasharray="0 10.0"/></g><g transform="scale(0.25)" fill="none" stroke="#2410b8"><defs><path id="mbb3" d="M1492 395l-6-5-1-7 3-6 4-6 6-5 6 3 8 2 6 2 6-4 2 7 4 5 5-5-1-7 1-7-7 0-7-2-7 1 7-1 6-3 0 7M1468 663l2-6-7-1-5-5-5-5-6-4 2-6 6-4 7 2 5 6 5 5 7-1 7 3 5-5 2-7-7-1-4-6-3 7-6 2-2 7 1 8M1467 370l-6 3 6 2 7-2 7 2 4-7-3-6 5-6 4-6 7-3 5-5 7 1 4-5 1-8-7-1-3-7 5-5 6-4 3 6-4 7-4 5M1533 500l-1-7-1-7-7 2-5 5-1 7-7 1-6-5-6 3 2 7-5 6 0 7-2 7 4 6 7-2 7 0 7 1-3 7-6 4-6 3-5-6M1362 476l-1-7-6 5-6 3 0 7 7-1 4-5-6-4-7-2-6 2-4-6-7 2-7 3-2-7-7 0-7 1-7 2-2 7 3 7 7-2 7 2M1351 479l2-6 6-5-2-6 1-8 1-7 5-5 7-2 4-6 4-6 6-5 6-2 2-7-4-6 1-7-5-5-5-5 4-6 7 0 7 1 4 6M1568 596l-6-3-2-7 0-8 7 1 5 5-3 6-6 4 0 7-7 0 0 8-7 1-5-5-6-4-7 0-3 6-6 5-7-2-2-7-6-4-7-1M1293 292l-8 0-3 7 4 6 7 2 6-4 8 0 7 0 7-1 6 4 1-7 7-2 7 1 7-1 7 3 5 5 2 7 1 7 6 4 1 7 5 5M1416 424l5-5 8-1-5 6-5 5-6 4-3-6-6-5-6-4-7 2-7 0-7-2-7-2 1-7 7-1 2-7 7 2-5 4-1 7 0 7-1 8M1539 399l4 7 5 4 3 7 6-4 4-6 7 3 3 7 7-1 3 7-4 5-7 3-7 1-2-7 4-6 5-6 5-5-7-3-6-3-1-8-3-6M1446 479l-6 4-2 7 0 7-2 7-6 5-6-4-7 0-7-3-7 2-7-3-3-7 3-6 6-3 2 7-1 7-6 5 6 4 7 2 0 7-3 7M1246 572l-4 6-7 1-7 3-4 6-5 4 1 7 0 8-8-1 1-7 0-7-2-7 2-7 4-6 7-2 6 5 7 2-4 6-5 5-7 3 5 5M1280 470l-6-4-7-1 1-7 2-7 5-5-6 4-6-4-7 4-3 7-4-7-5-4-6 3-7 0-6 3-2 8-5 4-4 6-8 0-7 0-3 6M1554 532l-7 0-7-2 1 7 6 3 7-1 7 0-7 2-6 3-3 7-1-7 5-5 5-5 5-5-2-7-6-4-2-7-6 4-8-1-6 3-6 5M1324 616l4-6 6-4 7-1 4-6 6-4 2 7-6 4-7 1-2 7-6 5-5 5-7-1-3-6-5-5 5-6-5-5-3-7-5-5-2-7-5-5M1380 522l6-4 0-7-5 5-6 5-6-2-2-7 7-4 6-2 3 6 1 7-7 2-5-5-5-5 7-4 4 6 1 7-7-2-2-7 6-3 7-1M1338 458l4-6-1-7 0-8 0-7 8 0 1-7-5-5-8 0-4 6-6-4-7-2 0 8 7 2 5 5 6-2 7 1 7-2 2-7 6 4 1 7M1528 515l-6 5-4-6 1-8-5-4-7-2-5-5-3-6-6-4-6-5 0-7-1-7-6-3-5-5-5-6-4-6-1-7 1-7 4-6 7 2-3 7M1422 638l-6 4-7-2-2-7-1-7-7-3-5-5-1-7-7-4 4-6-3-6-6-5-2-7-5-4-4-6 2-7 7-3 6 3 7-2 7 0 8-1M1386 408l1 7-7 1-6-4-7 3-6 4-1 7 0 7-1 8-7 1 7-3 4-6 4-5-4-6-4-6-5 4-7 3-6-4-8 0-4-6-3-6M1388 477l-5-5-6-4-4-6-6-3-7 2-6 5-6-3-2-7-6-5-1-7-2-7-7-2-1-8 8 1 5-4 3-7 3-6-5-5-6 4-7 2M1565 524l-7 1-7-3 4 6 4 6 5 5 7 2 1 7 7 4 5 4 0 7-5 5 0 7 6 3 2 7 6 3-6 4-7-1-4-6-3-7-2-7M1453 427l-7-4 4-6-4-6 5-5 0-7 1-7 3-6-4-6-7 1-4-6-7-1-3-6 3-6 6-4 6-5 2-7 5-5-2-6-4-7 0-7M1277 339l-6-5-7-2-7-2-2 7-7-2-7 1-3 7-4 6 0 7 1 7 1 7-6-3-1 7 5 5 7 3-7 2-7-4-7 0 4-6 7-2M1343 523l4 6-1 7 5 6 0-7-1-7 2-7 6-4 7 0 6 5 5 5 6 4 5 5 1 7-4 6 0 8-6-3-7 0-5-6-7 1-7 3M1503 557l4 6-6 4 4 6 2 7-2 7-7 0-5 5 1 7 7 0-4-6-2-7-6-4-6-4-5 5-2 7-4 6-2 7-3 7-2 6-8 2M1395 318l-1-7-5-6-7-1-7 2-5 5-1 7 7 1 1 7-4 6-6 4 5 4 7-3 7 3-3 6-7 1-7 2 4 7 7-3 6-3 7 2M1198 402l0 8 2 6 2 7 2 7 7-3 7 2 7 0-6-3-7 1-1 7-4 6 2 7 3 6 1 7 6 4 7 1 4-6 5-5 6-4 7 0M1505 312l2-6-2-7-7 2-5 5 1 7-7 4-2 6-6-4-6-4-2-7-6 3-3 7 0 7 7-1-1 7 1 7 7-3 7 0 7 1-2 7M1418 477l-3-7 7-2 1-7-3-6 5-6-4-6 4-6 1-7 6-4 6-4 5-5-6-5-7 3 4-6 7 0 4 6 4 6 1 7 5 5 3 7M1369 544l-7 1-3 6-4 6-7-1-1-8-1-7 2-6 4-6 6-4 6-4 4-6 4-6-4-7-4-6-7-1-7 3-5-5-4-6 6-3 6-4M1218 433l3-7-3-6-4-6-5 6-6 4-6 4-6 3-4 7-1 7 0 7 5 5 5 5 5 5 7 2 7 3 7-1 7 1 7-3 0-7-4-6M1299 381l-1 7-4 6-8 0-4 5-2 7-7 3-1 7 1 7-2 7-4 6 7 3 6 4-3 7 1 7-8-1-6 3-5 5 1 8-1 7 5 4M1247 433l7 3 2 7 1 7 7-3 5 6 6 2-6 3-6-3-4 6-1 7 0 7-2 7-4-6 5-5 4-6-5-4 5-5 6-4 3-6 3-7M1517 602l6 3 7 2-2 6-5 6 5 6 5 4 1 7 5 5 4-5 7-3 0-7 6-3-1-7-6-4-6 3-7 3 2 7 5 5 3 7 3-7M1380 319l4-6-2-7 3-6 7-1 0-8 7 0 3 6 1 7 1 7 8-1 7 0 6-3 5-6 6 4 2 7-5 6-3 6-3 7-5 5-1 7"/></defs><use href="#mbb3" stroke-width="1.8"/><use href="#mbb3" stroke-linecap="round" stroke-width="8.0" stroke-dasharray="0 10.0"/></g><g transform="scale(0.25)" fill="none" stroke="#961a1a"><defs><path id="mbr4" d="M1505 555l7 0 6-4 8 1 6 4 6 3 3 6-1 8-5 5 1 7-3 7-6 4-4-6 7 1 4 5 4 7 1 7 3 7-6 3-5 6-7 0M1475 320l1-7 6-4 0-8-4 6-2 7 2 7-2 7-2 7-1 7-3 7 6 4 0 7 0 7-7-1-4-6 4-6 2-6 5 5 6 4 7-3M1560 405l6 4 7 2-5 5-7 3-7 0-6 5-5 5 5 6 6 3 7 2 2 7-7 1-6-3-3-7 3-6-3-7-5 5-7 1-7-3 0-7M1538 538l4 6-2 7 4 6 7-1 5-5-5-5-2-6-6-4-6-5-4-6 6-3 4-6 0-8 4-6-3-6 1-8 7 3-3-7-7-3 5-5M1363 388l-6-5-7 1-3 7-3 6-8 0 1-7 4-6 5 5 6 4 3 7-1 7-4 6 7 2 7-2 0-7-7-3-7 1-2-7-2-7 5-5M1223 568l0-7-1-8 4-6 0-7 1-7 5-6 7 0 7-2 6 3 3 7 4 6 7 1 4-6-3-6 0-7-2-7-2-7-7 0 3 6-6 3M1401 311l5-5 7 0 6 4-2 7-7-2-4 6 2 7-4 6-7 1-1 7 2 7 2 7 2 6 6 4 4 7 7-1 7 1-3 7-1 7 5-5M1580 468l1-7 3-7-5-6-3-6-7-1-7 1-3 7 0 7 3 6-4 6 2 7 7 2-1 7 3 7-3 7-3 6-2 7 1 7 1 7-1 8M1508 477l4-6 4-6 5 6 0 7-7 2-6 4-6-3-7-4 7-3 5 5 2 7-1 7-1 7-6-3-7-4 2-7-7-1-7-3 0-7-4-6M1225 361l-2 7 6 3 7 3 5 5 3 7 3-6 0-7-4-7-7 0-6 5-1 7-3 6-1 7-4 6-7 3 3-7-5-5 0-7-7-4 6-4M1303 435l5-6 0-7 1-7 7-2 7-2 7-1 5 5 7-2 7 3 7-1 1 7 5-5-5-6-6 3-2 7-1 7-3 7 5 5 7 2 3 7M1343 454l-2 7-7 2-7-3-4-6-6 3-4 7-7 1-1 8-1 7 3 6 5 5 8 0 4 6 6-3 7 3 6 4 4 7 3 6-5 5 2 7M1510 554l5-5-1-8 5-5 6 5 6 3 6 5 2 7 0 7 6 4 4 6 1 7 7-2-5 5-7 1-2-6 6-4-2-7 5-6 7-1 7-1M1233 545l3-6 7-3 7-2 4-7 7-1 2-6 5 4 7 2 2 7 6 4 0 7-7-2-7 2-5-6-1-7-5-5-3-7-6 3-7 3-1-7M1536 623l6 3 3 7 4-6 7-2 3-7-3-6-4 6-4-6 1-7 4-6 0-7 2-7-5-5-7 0-7 1 0-7 7-2 0 7 7 0 7-3M1340 393l6 4 8 1 7 1 6-3 7 1 5 5 0 7 7 0 4-6 7-1 7-1 7-4 0-7-1-7 0-7 2-7-7 1-4 6-8 2 0 7M1354 358l-4-6-6 4-5 5-6 4-7 0-6-4 2-7 7-2 7 1 2-7 1-7-7 1 0 7 0 7 6-4-5-5-6-4-4-6 4-6 2-7M1529 572l4 7 2 6-6 5 4 6-2 7 6 5 5-5-1-7-3-7-5-5-6-4 1-7-5-6-5-4-7 2-6 5 0 7-7 2-4 6-6 5M1397 628l7 1-1 8 0 7-7-2-7-1-1 7 2 6 5-5-2-7-7-1 2-7 3-7-4-7-6-3-3-7 1-7-6-3 2-7-4-6-2-7M1428 324l3 6-1 8-6 3-6 4-3 7 6 3 3 7-6 3-7-1-2-7 3-7-3-6 2-7 5-5 0-7-3-7-2-7-7 1-4 6 2 7M1383 438l-3-6-4-6-4-6-7-1-3-7-3-6-1-7-2-7 7-3 2 6-3 7-7-3-5-5 0-7-6-5-4 6-6 4-5 6-5 5-7 1M1540 486l5 4 7 2 7-3 5-5 7-1 3 7 6-4 2 7-5 4-7 2-4 7-6-4-4-6-7 4-7-2-7-2-4-6-7 3 4 6 0 7M1349 537l5 5 5 5 7 3 7 2 4-6 5-6 7-1 6-3-3-6 4-6 7-2 3-7-5-5-4 6-4 6 0 7 1 7 2 7 5 5 0 7M1291 611l3-6 4-6 6-4-1-7-3-6-2-7 4-6 5-6 7-3 7 0 4 6 4 6 7 1 5-5 7 3 5-5 1 7 0 8 0 7 6 3M1289 490l-3 6-7 3 6 2 1 7 2 7 7 4 7 2-6-5 7-3 1-7 7-2 7-2 2-7 7-2 7-1 5 5 7 2 2 7 1 7-4 6M1224 491l7 0 5 5 6-4 6-4-1 7 3 6-1 7 5 6 2 7-7 2-7-3-7 0-6 3-4 6-6 5 7-4 0-7 7 1 6 4 2 7M1221 598l-4-6 6-4 5-5 7-1 7 2 4 6 7 2 2 7 7 0 6 3 7-2 7 2 7-3 6-3 3 6 7-2 7 0 7-4 3-6 4-6M1574 536l-7 0-7 1-3 7 4 6 1 7 6-3-1-7 2-8-6-4-7 1-4 6-8-1-3 7-7 2-7 0 0 7 7 0 7 2 5-5 7-2M1580 509l-5-6-7-3-4-5-7 1-6-4-3-7 3-6 8 0 6 4 6 4 7-3 7 0 3-7-6-4-7-2-5-5-7-2-5 5-3 6-7 1M1266 604l-7-2-5 6-7 1-3-7-1-7-5-5-7-3-5-5-5 4-3 7 3 6 6 4 4 6-4 6 6 4 7 3 6 4 2 7 7 2 7-1"/></defs><use href="#mbr4" stroke-width="1.8"/><use href="#mbr4" stroke-linecap="round" stroke-width="8.4" stroke-dasharray="0 10.0"/></g><g transform="scale(0.25)" fill="none" stroke="#2410b8"><defs><path id="mbb4" d="M1279 453l-6 4-7 1-7 2-7 2-5 5-6-4 1-7 7 2 2 7 1 7 3 6 0-7 5-5 5 5 4 6 7 3 2 7 6 3-1 7 7 1M1434 603l3-6 6-5 4 7-3 6 3 7-2 7 1 7 5 5 4 6 6 4 7 0-1 7-5 6-7 1-3 6-7-1-5 5 2 7 7-1 4-6M1494 435l-6 4-4-6-5-5-7-3-7 2-7 2-6 3-7-1-2-7-7-2-6 4-3 7 2 7 5 5 0 7 4 6 7 3-1-8 7-2-2-7M1319 515l-4-6 7-3-1 7-1 7-6 5-3 7-3 6-7 2-4 6-3 6-5 6-6 4-4 5-5 5-6-4-2 7-2 7-6 4-6 4-5 5M1408 606l6-5 5-5 1-7-7 1-7-2-5-5-7-3-5 4-8 1-5-5 5-4 6-4 7 3 6 4 7 0 6 4 6-4 6-3-4 5 1 7M1556 388l-4-6-5-5 1-8-6-4-7 1-7-2-1-8-7-1-5 5-4-6 2-7 7 0 4-6 8 1-1 8-5 5-7 2-5-6 3-6 5 6M1194 524l1-7 3 7 2 7-1 7 6 4 6 4 3 6 6 4 7 2 2-7-4-5-4-6-6-4 1-7 4-6 6-4 5-6 5-4 3-7 2-7M1313 345l-1-7-1-7 0-7-7 1-6 3-7 2-4-6-7-2 3 6 7 1 5 5 5 6 7 0-1 7 2 7 7-1 7 2 7 2 4 6 4 5M1478 628l-3 7-5 4-5 6 2 7-2 6-7-2-6-4-4-6 1-7-3-7 1-7 0-7 7 0 7-3-2 7-3 7 1 7-2 6-7 2-4-7M1259 636l3-7 5-5 6-4 6 5-6 5-7 0-7-1-5 6 2 7 5 5 7-1 7-1-1 7 6-3 6-5 7 0 7-1 6-4 2-7-2-7M1354 535l-7 1-5-5-7 3-7 1-6 4-7-1 0 7-1 7 6 5 7 2 4 5 7 2 6 5 6 3 5-6 0-7 1-7-8 0-6-3 6-3M1450 506l4-5 7 1 7 2 7 1 7-3 1-7 0-8 2-7 3-6 2-7 6-4 6-3 6 4 6 5 2 7 7 3 5 4 2 7 7 2 6 2M1489 397l7-1 5 5-1 7 1 8 4 5-2 7-4 6-6-3-7-2-7 0 6 3 7-2 7 0 7-3 3-6-4-6 7 2 6 3 4 6 8 0M1432 535l6-4 7-1 6-4 6 4 6 3 3-6 2-7 8-2-2-7 3-6 5-6 7 3 5-4 6-4-3-7-5-5-7 3-7-1-6 3-8 0M1499 321l-6-4 1-7 2-7-7 1-7 0-2-7-6 3 2 7-2 7-6-4 5-5 6 5 2 6 2 8 5 4 7-1 7 0 5 6 0 7 3 7M1199 519l6-5 4-5 8 0 4 6 6-3 7-2 4-6 7 1 7-2 4-6-4-6-5-5-6-5-1-7-6-3-7-1-7 0 0-8 6-4 0-8M1503 604l-7 3-7 1-7 0-7 2-7-1-6 5 0 7 7-3 7 0 6-3 5-5 3 7 2 7 7 3 2 6 5-4 4-6-6-5-4-6-3-6M1521 340l-7 0-6 4-5 5-7 4 1 7 6 4-2-7-7-1-6-4-6 2-1 7 4 6 7 2 6-3 7-3 7-1-1-7-4-7-2-6 7-2M1419 419l2 7-1 7 7-1 6 4 0-7 5-6 6-2 5 5 5 6 1 7 0 7-6 3-7 2-1 8-7 0-8 1-3-6-6-4-5 5-7 2M1375 314l3 7-5 4 2 7 4 6 7 0 7 3 5 5 3-6 4-6 4-6 7-2-5-6-7-1 7-3 0-7 6-4 3-7 7 2 7-3 3 6M1403 433l-7-1-1-7-7-2-2 7 8 1 4-6 7 1 6-4 6 5 7 0 3-7-2-6-7 1-5 6-7 1-5-5-1-7-6-4-2-7 4-6M1283 290l7-1 8 0 5 4 4-6 6 4 5 6 5 5 0 7 5 5 7-2 1-8 4-6 5-5 5-5-6-4-6-4 4-6 2 7 2 6 4 7M1548 554l6 4 7 1 5-4 7-1 6-4-2-7-2-7-1-7 8-1 7-1 4-6 7 1 5-6 0-7 0-7-5-6-2-7 0-7-2-7-6-3M1401 504l7 1 7-3 5-5 7 1 8-1 3-6 7-2 1 7-2 7-7 2-7 0-7-2-6-3 1-7 0-8-7-1-7-1-7 3-6-4-2-7M1417 458l2-7-6-4 7 2 7 2 7 1 3-7 1-7-3-6-2-7-1-7-6-5-2-7 7 2 6 3-1 7 7 2 5-5-7-2-7-1-2-7M1234 380l-7 1-2 7 2 7 7-1 4-6-7-1-4 6-7 3-2 7-1 7-6 4-2 7-1 7 4 6-6 3-6 4-5-5-6-4-6-5-4 6M1434 532l-6 3-7 1-7 3 1-7 3-7 4-6 3-6 3-7 8-1 5 5 4 6 2 7 2 7-7 1-2 7-6-3 1 7 2 7 7 1 6 4M1318 331l2-7 2-7-1-7 6 4-3 7-7 0-5-5-3-7-7-1 6 4-5 5 3 7-5 5-7 1-7 0-2-7 0-7 7-1 4-6 7-1M1530 422l-7 2-2-7-1-7 2-7-6-5-6-4 4-6 8 0 7 0 2-6-7-3 6-5-3-7-6-3-6 5-5 5 0 7 0 7-7 2-7-3M1252 352l6 4-4 6-7-2 4 6 3 7-5 5-3 7 3 7 2 6 6-3 7-3 7-2 7-1 6 4 6 4-4 6-5-6-5-4-5-6 2-7M1400 374l-3 6-3 7-6 4-7 2-6-4-7-2-6 4-6-2-4 6 3 7 1 7 3 7 4 6 4-6 7-2 3-7 1-7 3 7 1 7 7 2M1531 346l-6-2-8-1-6 2-2 7-6 4-4 5-7 2-7 0-6 4-6 5-7 1-7-1-2 7-2 6-4 7 0 7 3 7 2 6 2 7-4 7M1215 548l7 0 6-4 7-2 6-3-5-5-5 5-6 3-8 0-5 4 1 7 5 6 4 5-4 6-6 4-5 6 8-1 6-2 7-4 4-5 5-6M1395 349l3-6 2-8 3-6 3-7 3-6 5-5 4 6 7 1 6-4 7 3 5 5-1 7-2 7-1 7 1 7 7 2 2 7-7 0-5 5-5 5M1442 499l6-4-4-6-7 0-3-7-7 2-7 3-7-1-6 3-6-4-2-7-2-7 4-6 7 3 1 7 3 6-7 1-3-7-7-2-7 1-1-7M1256 450l3-6-6-3-5-6-4 6 4 6 7-1 6 4 7-2 7 1-3-6 5-6 5 6 3-7-4-6-2-7-4-6-5-5-4 6-4 6 0 7"/></defs><use href="#mbb4" stroke-width="1.8"/><use href="#mbb4" stroke-linecap="round" stroke-width="8.0" stroke-dasharray="0 10.0"/></g><g transform="scale(0.25)" fill="none" stroke="#961a1a"><defs><path id="mbr5" d="M1425 458l6 3 7 2 6 4 6-3-5-5-5-5-7 3-4 6-7-2-6 3-7 3-7-1-6-4-2-7-2-7 7-2 7-1 0-7 0-7-7-3M1352 535l1 7-5 5 4 6 1 7-1 7 0 7 4 6-1 7-5 5-4-6 0-7 2-7 4-6-3-6-2-7-4-6-6-4-7 0 0-7-3-7M1354 577l4-6 0-8-4-5 1-8-5-5-6-4 3-7 3-7 0-7-7 1-6-4 2-7-2-7 7 0 4 7 2 6 5 5-6 3 0 7-7 3M1347 455l-5-4 1-7-3-7 0-7-8-1-4 5-4 7 3 6 3 7 7 2 7 4 2-7 6-5 7 3 4 6 7 1 4 6 4 6 6-4 7-2M1511 526l1-7-1-8-4-6-7 0-7-2-5-5-7 4-1 7-5 5 3 6 6 4-5 4-7 2-7 2-6 4-5 5 4 6 0 7-4 6-7 2M1375 466l4-5 6-4 7-4-1-7 5-6 3-6-4-6-2-7-7-1-6-3-7 1 2-7 2-7 2-7 3-6 0-8-8 1-4-6-1 7 1 7M1313 535l-7-2 4-7-4-6 3-7 7 2 5-5-7-2 4-6-7-2-7 0 5-5 6-4 3-7 5-5 7-2 7 1 7-3 7 2-1 7-6 3M1461 634l0-7 4-6 4-7 7-1 7 1 2 7-2 7-7-1-7 1-7 2-1 7 5 5-6 4-7 1-4-6-4-6-7 2-7-3-7-2-6 3M1289 577l0 7 4 6 0 7-1 8-2 7-5 5-6 4-7-3-3-6-1-7-4-6-2-7 2-7 4 5 5 6 5 5-6 4-6 4 2 7 7 3M1436 402l-1-7 7 0 7 1 6 4 7 0 3-6-4-7-7-2-6-4-4 7-7 1-5 6-7 0-7 3-7 0-7 3-7 0-4 6-7 2-6-3M1374 632l7 2 5 5 7-2 6-4 5-6 1-7 7-3-2-7-4-6-7-3-7 0-7-2-6 4-7 0-5 5-2 7-7-2-5 6-5 5-4 6M1421 495l5 5-3 7-6 4-6 3-7-2-4-5 1-7 4-6 4-7 1-7 6-3 7-2 1 8-1 7-4 6-3 6-5-5-8-1 4 6 7-1M1447 572l-5 5-6 4 0 7-7 3 0-7-2-7-7 2-6 4-7 0-3 7 0 7 5 5 6 4-6 5-4 6-7-2 4-6 2-7-6-4-8 0M1397 350l-2-7-6-4-3 7 1 7-2 7-3 6 1 7 3 7-1 8 3 6-7 0-5 5-6 5 1 7 4 5 1-7 4-6 6-2 2 6-7 2M1445 467l-7 1-6-4-7 1-2-7-6-4 2-7 7-2 4 6 1 7 7 2 2-7 4-6 5-5 7 2 5-6 6-3 7 2 7 2 5 5 7 3M1447 375l-7 0-1-8-1-7-7-1-7-3-6-4-7-1-7-3 1-7 4-5-4-6-6-5 8 0 6-3 7-3 0-7 7 3 6 3 7 0-3-7M1311 553l-7 0-7 3 2 7 7-1 6 4 7-2 4-6 7-3 6 4 6 4 7 0 3-6 3-6 7 1 0 8 1 7-5 5-7 2-5 5-5 5M1403 301l-1 7 0 7 6 4 7-2 7-1 5-6 7-2-2 7 7 1-4-6-6 5 1 7-4 7-5 4-4 7-1-8-7 2-7 3-2 7 6 5M1449 406l-7-3-4-6 4-7 2-6 3 6 6 3-6 2-8 1-2-7-6-4-8 1-7-1 2-7-4-7 6-4 7 3 7 1 1 7-5 6-3 6M1389 321l2 7-5 6 0 7-3 6-7 0-7-3 2-7 7-3 6 4 2-7 8 0 3-7-3-6-5 5-7 2-3-7 1-7 0-7-7-1-6-3M1580 516l3 7 4 5-3 7-8 0-5-5-4-6-4-5-3-7-4 5-6-4-1-7-1-7 4-7-8 0-3 6-3 7-6-4 5-4 2-7 2-7M1349 377l4 6 3 6 7 3 4-6 4-7 3-6-1-7 6-4 7-3 7 0 1-7-1-7 7-2 5-4 1 7-4 6 4 5 1 7 8 0 7 0M1438 518l-8 0-5-5-6-4-7-3-7 3-6 3-7 1-3 6 2 7 2 7-7 0 1 7 3 6-4 6 7-1 7 0 8-1 2-7-6-5-7 0M1486 376l6-2 6 5 6 3-3 7-7 0-7 0-6-5-7 1-6-4-4-6-7-1-7-3 2-6 1-7-1-8 0-7-7 1-5-5 6-3 6-5M1237 417l-6-5-1-6-7-3-7 1-8 1-6-4-5-5 7 0 4 6 7-2 3-7 4-5 1-7-6-4-6-4-4-6 8 0 4-6 1-7 6-4M1550 523l7-3 3-6 4-6 3-7 4-6-6-5-7-1-7 0-6-4-5-5-7 1-4 6-5 5-7-2-7 0 0-7 3-7 3-6 7-2-4 5M1545 473l7 1 7 1 7 1 7-3 7 1 7-1 6 4-1 8-2 6-7 1-6-5-7-3-5 5-2 7-6 5-6 3-7 1-6 4 1 7 6 4M1308 354l-5 5-2 7 7 2 7 2 2 7-7-2-7 1 5 5 7 2 7-2 4-6 7-1 7-2 3-7 6-5 7-1 5-5 7 1 4-6-2-7M1493 396l5 6 3-7 4-6 2-7-5-5-6-3-6-4-1-7-3-6 4-7 3 7 7 2 7 3 6 4 5 5 6-4 2-7 3-7 5-5-5-4M1284 564l-2-6-5-6-5-5 0-7-6-4 7-2 3-6 7-2 3 6 3 7-5 6-5-5-6-5-5-5-4-6-4 6-4 6-7 0-3 7-6 5"/></defs><use href="#mbr5" stroke-width="1.8"/><use href="#mbr5" stroke-linecap="round" stroke-width="8.4" stroke-dasharray="0 10.0"/></g><g transform="scale(0.25)" fill="none" stroke="#2410b8"><defs><path id="mbb5" d="M1270 396l4-6 3-7 6-4 3-7 4 7 7 1 7-2 4-5 7-2 7 1-1-7 6-4 2-7 0-7 5 5 3 6 7 3-6-5-6 2-5-5M1352 432l-7-1-7 3-7 1-7 3 1 7-5 5 7 1 6 3-2 7-2 7-7-2-6-3-1 7-1 7 5 5 7 3 4 6-6 5 4 6 7 3M1389 510l3-7 1-7-1-7 2-7 2-7-3-6-7-2-2-7-7-4-6 4-4-6-1-7 6-5 7-1 6-4 8 1 4-6 0-7-2-7 5-5M1412 450l1-7 7-2 5-5 4-6-1-7-7 2-6-4-7-1 0-7 7 1-2 7 5 5 3 6 6 5 6 4-6 5 4 5-1 7-4 6-6 5M1324 371l6 3 3-7 1-7 5-5 4-6 7 1 7 2 6-5-1 8 6 4 7-3 7 1 6-5 6-3 7-2 4 6 6 4 4 6-3 6-7-1M1352 571l3-6 3-7 2 7 5 5-1 7-3 7-6 4-6 4-5 5-6 5 0 7 8 0 6-3 6 4-5 6 3 6 7-1 6-5 3-6 8 0M1560 415l7 2 2 7 2 7 7-1 6 4-2 7 5 5 7 0 0 7-1 7 0 7-6-3 5-6 6-4 7-2 6-2-3-6-6-4 2-7-3-6M1534 564l7-4-4 6-7 1-4 7 3-7 7-3 7 2 7 2-4 6 3 7 4 6 4 6-4 5-7 1-7-1-7 2-7-3-7-1-5-5 4-6M1369 509l7 3 7-3 5-4 1-7-6-4-6-3-7 2 6 3 7 2 6-3 8 1 5-5 6 5 4-6-1-7 5-5-2-6-4-6-7 0-7 3M1273 372l-5-4-7 1-7 3-4 6-1-7 4-6-3-6-4-6 6 3 6 4 7 0 7-1-6-3-5-5-6 4-3 6-4-6-4-5-6-5-5 5M1309 609l-6 4-3-7 3-6 2-7-3-7-7 3-7 2-7-2-2 6-3 7-3 7 7-1 6 3 7 2 0 7 5 4 7 3 4 6-5 6-2 6M1542 491l-2-7-3-6 0-7-7 1-7 2 5 5 6 3 6 4 7 1 7-1 8 2 5 5 7-2-5 6-3 6 5 5 4 6-4 6-7 2-8 0M1344 306l6 4 3 7-5 5-7 0 0 8 7 3 6-4 4 6 7-1 1-7-6-5 2-7-4-6-2-6 4-6-3-7 0-7-5-5 7 0 2 7M1477 360l2 7 4 6 1 7 7-1 3-7 7 1 5 5 3 7 7-2 7 3-2 8 3 6 3 7 5 5-3 6 0 7-7-1-7 2-1-7-6-5M1472 322l3 6-2 7-7 1-5 5-6 4-7 2 7 2 7-1 7 2 7 0-2-7-2-7 6-5 6-3 7 2 8 0 4 6 3 6 6-3 7-2M1529 592l-2-6 1-8 8 1 7 0 7 2 7-2 4-6 3-6 7 2 4-6-6-2-7-2-4-6-7 2-7 2-7-2-6-4 3-6 3 6 1 7M1408 342l-6 2-8 1-6-3-6-4-4-6-1-7 7 0 7-3 1-8-6-3-2 7-2 7-4 6-6 4 1 7 2 7-2 7-8 0-6 3-6 4M1601 498l-4-5 7-1-1-7-1 7 3 6 7 0 7 1 6-4-7-3-7-2 4-6 7-3-4-6-7-1-7 0-4 6 5 5-7 2 3-6 7-1M1435 387l-1 7-6 4 4-6-5-5-2-7-3-6-2-7 5-5 6-3 0-8 5-5 4-5 2-8 5-4 3-7 5-4-4-6-7 0 0 7 7-2M1239 420l-1-7-7 2 4 5 7 4 2 6 4 6-1 7 2 7-4 7-6-4-7-2-3 7 0 7 5 5 6 4-1 8-5 5-5 5 7 1 4 7M1387 442l4 5-6 3-6 5-5-5-7 1-7 1-7 0-4-6 4-5 6-4 7-3 2 6 6 5 5 5 7-1 1-7-2-7 0-7-6-4-2 7M1543 446l7-1 7 0 2-7-7-2-6 3-7-1 0 7 3 7 2 7 7 2 7 2 6 2 1 7-7 2-7 2-5 5-7-3-7 0-4-6-6-3M1439 442l-7-1-7-4-7 2-7 1-6-5-3-6 2-7-7 2-7-1-2 7-6 5-3 6-4-5-6-4-7-1 1 7-4 6-6-4-6-5-6-3M1272 421l-3-7-7-1-5 5-6 4-7 1-4 6-6 4-4 6-7 2 1 7 3 7 6 5 6 3 6-2 2-7-7-2 7-3 5 5 4 6 7 1M1342 539l-3 6-7-1 1-7 7-2 4-6-2-7 2-7-5-5-6-4-7-2 3-6 2-7 7-2 7 2 7 2 7-2 6-4 7-2 6-3-2-7M1437 399l-5-5-7-2-7-3 0-7-7-3-5 4-7 3-2-7-7 1-6-3-2-7-6-4-6-5-4-5 6-4 4-6 7-1 7-1 6 4 7 1M1442 290l4 6 5 5 7 2-7-2-6 3 1 8 7 2 6 3 7-2 0-7-7-2-7-1-7 3-4 6-7-2-6 3 0 7 2 7 0 8 2 6M1325 435l4 6 1 7 1 7 2 7 0 7-1 7-4 6-7-1-2 7 2 7 5 6 5 4 6 5 4 6 7 1-5 5-3-7-6 2-8 0-5 5M1237 482l-3 6-3 7 2 6 2 7-4 6 7 2 7 2 6-3 6-4 7-1 4-6-7-1-7 0-7 0-7-4-1-7 1-7-7 3 1 7 2 7M1296 433l-2 7 3 7-4 5-4 7-4 6-1 7 3 7 2 7 7-2 1 7 1 7 4 6 8 0 6 4-1 7-7-2-7 3-3-6-6-3-7 0M1414 320l7 3 0 7-7 1-7-3-7 1 1-7 4-6 5-6 4-5 3-7 7-2 0 7-2 7-4 5 2 7 3 7 2 7 7 2 6 5 6-3M1440 652l-7-2-3 7 3 6 6 4 6-3 6-5 2-7 6-4 6-4 7 3 7 0 4-5 7-2 8-1 6 4 6-4-7 1-1-8 7 0 0 7M1509 525l0 7 7-1 7 2 7 4 6 3 5 5 1 7 4 6-2 6-6-5-7 1 1 8-4 6 7 2 6-5 7 2 1 7 5 5 0 7 4 6M1312 440l0-7-5-5-7 0-3 7 5 6 5 4 0 7 7 4 0-7-7-3-6-4-5 5-7-1-7-1-6-3 0-7 6-3 7 3 6 4 0 7M1311 322l7 1 2-7-1-7 3-6 1-7-5 5-5 5 3 7 0 7 4 6 5 5 6 4 3 7 4 5-2 7-1 7 7 0 2 7 1 7-1 7M1550 408l-1 7-1 7-1 7 4 6 5 5-3 7 0 7-2 7 7-3-1 8-1 7 2 7 2 7 1 7 6 4 7 1 7 0 7 1 4 6-4 7"/></defs><use href="#mbb5" stroke-width="1.8"/><use href="#mbb5" stroke-linecap="round" stroke-width="8.0" stroke-dasharray="0 10.0"/></g><g transform="scale(0.25)" fill="none" stroke="#2410b8"><defs><path id="mbo" d="M1549 339l6 3 6 4 3 7-4 6-5 5-6-3-6-5 7 0 6 4-2 7-7-2-5 5-4 6-7 2-3 6-4 6-7-2-1-7-6-4-7 2-4-7-6 3-5 6-7-1-7-3-7 2-4 6-7 3-3 7-5 5M1538 606l7 0 7-1-7 1-6-4-5-5 0-8-1-7 6-5 5-4 1 7 4 5-5 5 6-4-1-7 6-4 6 4 4 7 5 4 4 6-6 4-5-4-7 0-6-4-5-5-6 3-7-3-2 6-4 6-7-1 0 7M1452 676l4 5 5-5 0-7 2-7 7 1-2-7-6 5-1 7-7-2 0-7-7-1-8 0-5 4-7-3-3-6-6-4 6-2 6-5 7-3 5-5 0-7 5 5 4 5-4 6 3 7 0 7 7 1-6-4-7 2-5-4M1444 650l-7 0-1-7-3-7 1-7 1-7 7 0 6-5 2-7 4-5 4-6 7-2 0-8-7-1-5 4-7 0-6-4-7 1-4-6-7-2-5 6-5 4-1 8 6 4-4 6-1 7 6 2 8 0 4-6 7-3 3-6M1158 511l4-6 5-5 8-2 7 1 6 2 6-4 7 0-2 7 0 7 5 5 7-2 5 5 7 2 2 7 2 7 2 7 7-1 6-4-2-7-7-2-7 0-3 6 3 7 5 5 4 6 6 4 7-1 7-1 5-6-6-4M1499 657l3-6 7 0 1 7 5 5-7-1-7-1-7-2 0-7-7-2-7-2 1-7 3-7 7 1 3 7 0 7-7-2-3-6-3-6 2-7 7-2 4-6 1-7 7 0 7-1 3-7 4-6 2-7 2-6 1-8 7-1M1303 649l5-5 7 1 6 3 5 5-6 5-6-3-7-1-5 6 7 0 3 6 6 5 4 6 6 4 2 7-6-4-2-7-5-5-2-7 2-7 4-6 6-4-5-5 4-5 7-3 7-1 7-1 7-2 8 0-2 7 3 7M1349 673l3-6-1-7-6-3-3-7-2-7 6-5-5-5-5-6 1-7 7 0 3-6 0-7 7-3 7 2 0 7 7-1 6 3 2 7 7 2 3 6 7 2 7-3 5-4-5-5-7-1-2-7 5-5 6-4 7 4 7 1M1448 312l4 5 3 7 2 7 1 7-6 5-5 5-2 7-7 1-3-7 1-7-1-7 3-7 4-6 6-4-3-7-2-7 0-7 6 3 5 5 7-1 7 2-5 5-4 6-1 8 3 6-7 0-6-4-7 0-4 7-7-1M1237 327l7-2 7 0-1 7 6 4 8-1 5-5 5 5 5 5 2 7 1 7-1 7 6 4 7 0 7-3 7-1 1-8 3-6 6 2 8-1 6 3-2 7 7 2 7 1-6-4 0-8-7-1-7 0-2-7 0 7-7-3M1535 324l-5-4-3-7-7-4-7 2-6 3-3 7-5 5-7 1-2 7-4 6-4-6 2-7 7 2 6-3 5 6 7-1 6 3-3 6 7 2-3 7-3 6-1 7-1 7 7 3-1 7-3 7-5-5-7-1 1-7 1-8M1596 583l3-6-2-7 2-7-6-4-5 5-6 4-8-1 3 6 2-7 1-7 7-2 1-7 0-7 6-4 3-6 0-7 1-7 7-1 2 7 4 6 3 7-3 7 3 6 1 7-7 4-5 5-7 1 2 7-1 7-6 4M1275 658l-7-1-4-6-2-7-2-7 2-7-4-6-3-6 1-7 2-7-1-7-7-3-7 2-6 4-5-5-7-1-6 4 1 7 7 1 6-5 6-2 5-5 3-7 1-7 7 1 6 5 1 7 4 6 6 4 4 6 6 3M1486 307l-3 7-3 7-3 6 5 5-4 6-4 6-7-2-6 4-2 7-8 0 3-6 2-7-1-7-1-8 6 5 5 5-4-7-6 4-7-1 1 7 5-6-1-7-6 5-3-7 7 2 5 6 3 6-6 5 0-8-7-1M1558 598l-5-6-6 3-2 7 0 7 7 1 4-5 4-6 6 3 4 6-8 1-4 6-5 5 0 7 3 7 6-3 4-7 7 1-7 1-3-7 0-7 4-5-5-6 6-4 5-5-7 0-8 0-6-4-5-5-5-5-7-1M1585 462l-4-6-7-2-6 4-7 1 5 6 2 7 3 6-2 7-8 0-5-4-7-1-7-3-3-6 1-7-2-7 1-7 0-7-1-7 3-6 0-7 7-1 7 1 7 0-2-6-7 1-6-4-5-5-8 0 0-8-1-7M1373 658l0-7-7-3-7 2-6 3-5-5-6 4-5-4-7-3-6-4-7 3-7 2-7-1-7-1-7 2-6-4 0-7 7-2 7 1 7 1 5 5 4 6 7-2 7 0 6 3 8-1 6-3 4 6 3 6 4 6 3 7M1182 396l3 7 6 3 8-1 4 6 7 0 6 4 8 0 1-7 2-7-4-6-7-1-6 4-4 6 5 5-2 7-5-4-4-6-6-2-7-2-7 2 3-6 7 0 2 7 2 7-2 7-7-3 3-6-2-7-7 0-7-3M1193 525l-3-6 1-8 5-4 5-6 4-6 7 2 7 0 2 7-7 2-7 0-4 6-4 6-6-3-5 6-7 0 0-8 6-4 5-5 7 1 6 4 2-7 7-3 7-2 2-7-3-7-4-6 4-6 7-2 6-5 7-2M1588 522l7-2 6-4-6-2-8-1-7 2-7 1-7-1-6 4-3 6-5 6-7 0 1 7 1 7-6 5-3 6-7-2-4 5 5 5 0 8 1 7 6-3 2-7-7-3-3 7 3 6 5 6 7 2 3 6-6 4-1 7M1572 368l-4 6-3 6-5 6 7 2-2 7-5 6-2 6-1 7-6-4-7 3-1 7 6 4 6 4 7 0 2 7-6 5 3 6 4 6-7-1-7-1-5-6-3-6-6-4-6-4-2-7-4-6-7 2-7 0-3-7-7 1M1242 328l7 2 6 5 2 7 3 6-1 7-4 6 2-7-6-3 2-7 2-7 6-5 0-7 7 2 7 3 7 2 1 7-1 7-2 7-6 3-8 0-2-6-8 0-7 1-3 6-7 1-6-4-5-5-4-6-4-6 7-1M1524 655l-7 1-7 2-2 7-6-3-6-5-5-5-7 0-7-3-4-5-4-7-2-7-3-6-8-1-6 3-6-2 3-6 6-5 1-7 4-6 6-3 7 4 5 5 4-5 8 0 7-1 5 5 6-4 7 0 2 7-4 7M1621 551l-4 6-3 6-8-1-2-7-1-7-8 2-7 1-7 0-7 2-7 0-3 6-3 7-7 1-7-2-2 7-6 3 6 2 1-7 5-5 4-6 1-7-6 3-1 8 5 5 3 6 0 7-3 7-5 5-3-7 6-4M1205 350l7 3 6-2 7-4 6 4 5-5 7 1 7-2 5-4 0-7-6-5-7-2 8 0 6-2-5 4 6 4 6-3 5-5 6-5-1-7 6-4 7 0 7 3 5 5-2 7-7 1-7-3-6-3-7 3 2 7 6 5M1482 672l-8 0-3-6-1-7-2-7 5-6 4-6-1-7-1-7 6-3 0-7 3-7 0-7 2-7-4-6 6-3 6 4 4 6 4 6 2-6 7 2 7 3 6 3 7 2 7-3 3 7-6 4-7 2-6-5-7-2-4-5M1469 290l-5-5-6 2-7 0-3 7 0 7 2 7-6 5-6 3-5-5-8 0-1 7-7 3 1 7 7 2 8 0-1 7-6 3-5-6-5-5-2-7-2-7-5-5-5-5-7 2-7-3 0-7-7-1-6-5 4-6 7 0M1182 453l-3-7 4-6 5-5 6-3 0-7 4-6 6-4 6-4 7-2 3 6-1 7-5 5-6-5-7 2-7 0-3-7 7-2 6 5-2 6-7 3 4 6 4 6 1 7 0 7-6 4 2 7 2 7 6 3 2 7 7-1M1520 319l-2 7-5 5-4 6-7 0 4 5-1 7-2 7-1 7 7-1 7 2 7-2 4-6 3-6 4 6-6 4-7 2-7 1-7 2-6 2-6-4 2-7-4-6 4-7 6 5 6 3-4 7 2 7-3 6 1 7 6 4M1181 529l-7 2-6 4 4 6 7 1 6-5 5-4 7-2 5-5 7-2 7 3 1 7-7 1-7 3-3-7-7 1-4 6 0-7-6-4-3-7-5-5 1-7-7-3-6-3-6-4 5-5 5-6 6-3 7 1 7 0 7 2M1598 543l-6 3-5 5-5 5 6 4-3 6-7 2 4 6-7-3-5-4 4-6 5-5 8 1-5-6 5 5-6 3-6-4-5-6 5-5 5-6 6 4-7 3-5 5-7-1 2-7 5-5-4-6-7 2-6-3-7 1-2 7M1572 422l-6-4-6-4-6 4-5 5 2 7 7 2 7 2 6 4 7 0 2 7-7 0-6-4 1-7-3-7 3-7 7 1 7-1-1 7-6 2-7-3-7 1-6 3 0 7 7 0 7-3 1-7 1-7-6-3-6-4 1-7M1536 615l-5 6-7-4-7 0-4 6-7-2 6-3 8-1 6 3-7 2-7 0-7-3 2-7-2-7 4-5 7-2 7 3 5 6 0 7-2 7-1 7 3 6-5 5-6-5-4-5-7-2-3-7-7-2-5-5 0-8-5-5M1602 483l-5-5 3-7 5-5-1 7-5 5-4 7 8-1-1-7-4-6 4-6 6-4-4-5-7-4-7-1 0-7-7-1-5-6-6-3-7 2-3-6-6-5-3 7 2 7 2 7 0 7-8 0-5 5-2 7-7-3-7 1M1185 484l0 7 0 7-6 4 2 7-1 7 6 5 5 5 7 2 7-1 7 0-2 7-5-6-7-1-7-1-6-4-6-4 3-7-6-5-7-1-7-3-3 6 1 7 5 5 7-1 5-6 7-1 4 6 6 4 7-2 7 1M1516 345l6 3 7 3 4 6 7 3 7 0 6-4-5 5-2 7-1 7-7-4 4-6-4-6-6-4-1-7-3-6-7-4-6 3-7-3-2-7 4 6 2 7-1 7-3 7-7 3-7 2-5 4 4 6 4-6 7-2 5-5M1416 680l-6-4-1-7-1-7 0-7 3-7 1-7-4-6 0 8 0 7 2 7 2 7 7 3 5-5 7-2 5-5 3-7 0-7-7-1-7-2-3-7 7-1 6-4 7-1 7-3 4-6 7-1 7 1 7-1 3-7-4-6M1284 284l-5 6-4 6-3 6 0 8 7 3 7 1 4-6 7-3 4-6 5 5 6-3 6-5 2 7-7-1-6 3-5-6-6-4-6 4-7-1 0 7-3-6 7-3 6 5 6 3 7 3 3 7-7 3-7-2-5 5-7 3M1600 401l-4-6-5-5-7-1-8 0-7 0-3-7-3-6 7 1 0 8-5 5-4 6-5 5-6 4-7 2-7 2-7 1-4 6-3 6-7-1-5 6 3 6 6-4 7 1 6-4 7-1 4-6-7-2-7-2-6 3-6 5M1596 410l3 7-5 5-2 7 6 4-5 6-5 4-4 6-4-6-1-7-6 2-2-7 2-7-6-5-7 2-6 3-7 1 6-4 1-7-4-6-8 0-6-4 7-3 7 0 7-3-3-6-5-6-6-3-7 1-7-1-7-2"/></defs><use href="#mbo" stroke-width="1.8"/><use href="#mbo" stroke-linecap="round" stroke-width="8.0" stroke-dasharray="0 10.0"/></g><g transform="scale(0.25)" fill="none" stroke="#2410b8"><defs><path id="mb3" d="M1311 270l-2-8-2-8-7 3-8-1-2 8-8 3-8-2-5-6 0-8 1-8-2-7-4-7M1173 543l-6 5-5 6-3 8 0 8 1 8-2 7-1 8 0 8 3 8 1 8 6 5 5 6M1229 322l-6-5 1-8-4-7-5-7 8-1 4-7-6-6-8-3 2-8 8 0 4-7 5-6M1546 639l8 3 4-7 8-1 6-4 8-2 8-1 2 8-4 6 3 8 5 6-1 8 6 5M1433 261l3-8-5-5-8 0-4 7-7 4-6 6-8-2-7-3-5-6-4-7 0-8 0-8M1344 260l5-6 7-2 3 7 6 6 8 1 3-7-5 5 0 8-5 7-2 7 7 2 4 7M1176 553l-6 5-5 6-5 6-7 4 1 8 2 8 3 7-4 7 1 8-8 3-8-1-3-7M1594 392l8 1 7 3 6-6 5-6 3-7-2-8-5-6-8-1-8 0-7-4-8-1-6 5M1181 395l-8-1-8-2-8 0-8 3-7-2-8 2-8 1-4 7 4 7 5 6-7 4-8 3M1609 445l8 2 7 3 8 0 8 0 3 7-3 8 2 7 6 6-1 8 4 7-1 8 5 6M1506 670l-4 7-7 4-7 4-6 5-6 5-5 7-7 1-8-3-7-3-6 5-3 7-3 7M1235 317l-8 1-8-3 6-6-2-8-2-8 6-5 3-7-1-8 1-8 2-8 0-8 4-6M1365 257l-3-7-8 2-8-4-5-6-6-5-3-7-4-8 5-6 1-8 1-8-6-5-8 0M1355 702l7 4 8 1 6-5 5-6 8-4 7 4 5-6 6-6 8 1 2 8-5 6 2 7M1350 701l-5 6-7 3-8 2-8 2-8 1-5 6-6 5-8 2-6 4-8-1 3 7 5 7M1270 671l-7 3-7-5-7-4-7 4-5 6-8-2-2 8 2 8 8 0 8-1 8-1 7 4M1449 695l-6 5-8 2-6 6 0 8 8 3 6 5-4 7-3 7 4 7 3 8 6 5 8 1M1169 526l-8 2-5-6 0-8 4-7 4-7 5-6 7-4 5-6 6-6 1-7 6-6-1-8"/></defs><use href="#mb3" stroke-width="2.0"/><use href="#mb3" stroke-linecap="round" stroke-width="7.6" stroke-dasharray="0 10.0"/></g><g transform="scale(0.25)" fill="none" stroke="#2210ac"><defs><path id="mc1" d="M2339 412l-7-2-5-7-3-7 1-8 3-7 8-2 4-7 8 4 1 7 5 7 1 8-2 7 7 4 6 6 7 3 8 2 8-3 6-4 7-5 7-3-1-8-3-8-8-1-5 7-3 7-7 4-8 0-8 3-4 7 1 8 1 8-6 6-5 6-8 2-8 0-3-7-7 3 4 7 5 6 2 8 4 7 1 7 7 4 7-4 4-8 7-3 8 1 7-4 7-3 6-6 5-6-1-8-2-7-5-6-6-6M2383 320l5-7 5-6 7-3 8 2 8-1-3 8 5 6 0 8-4 7-2 8-5 7-3 7-6 5-6 6-7 2-7 5-7 1-8-1-3 8 3 7 7 4 4 7 2 8 0 8-1 8-5 6-8 2-6 5 3 7-2 8 0 8-1 8 1 8 6 5 7-5 8 1 4 7-2 8-3 8-4 6-3 8-2 7 0 8 3 8 2 7-7 4 4 7-1 8-4 7 2 7 1 8 1 8 3 8 6 5 7-3M2111 384l7-2 8-1 8 1 7-4 6-5 8-2 7-4-4-8-7-1-8-2-8-1-8 2-5-6-4-7-8-3-7-3 4-7-4-7 7-4 7 4 7 4 8 2 1 7 1 8 3 8-7 4-7 3-8 1-8 2-7 2-8 3-7 4-8 1-6-5 0-8 7-5 6 5 3 7 7 5 1 8 8 1 7-3 8-2 0-8 7-3 3-7-6-6-7-1-8 4-7 3-6 5-8-2-8 0-8-2-7 4M2164 347l7-5 1-8-6-5-8-1-6-5-7 5-5 6-7 3-4-7-5-6-5-6-8-1 2-8 0-8 1-8 1-8-7 4 0 8 1 8 3 8-5 6 2 8-6 5-7-3-8 1-7-3-8-3-4-7-4-7 0-8 1-8 7-3 0-8 7-4 8 1 7 4 6 6 2 7 8 3 6 5 5 7 3 7 3 7-2 8-5 6-7 5-6 5-4 7 0 8-4 7 0 8 7 4 6 5 0 8 1 8M2111 362l-8 1-8 1-8-2 3 7-3 8-7 4-1 8-7 4-7 5-7 3-8-1-2-8-1-8 3-7 6-6 1-8 8 0 7 4 6 5 0 8-3 7 0 8-6 6-6 5-8 1-6-4-2-8 8-2 8-1 8-1 5-6 3-7 6-6 7-2 5-7 1-8-2-8 7-4 2-7 5-7-5-6-5-6 3-7-5-7 3-7-8-4-7 3-7 5-2 7 2 8 5 6 8 3 5 6-7 3-7 4M2250 613l-7 5-7 1-7-4 1-7 1-8 7-5 7-2-6-5-8 2-7 4-7 3-8 0-8 2-5-7-8-1-7-2-5-7-8 0-3-8 3-7 2-8 3-7 2-8 3-8 8-1 7 2 6-6-3-7 1-8-8 3 1 8 3 7 4 7-4 7-6 5 4-7 5-6 7-1 7 5 6 4 2 8-3 8-4 6 0 8 2 8-4 8-3 7-5 6-7 3-8 2-8 1-8-2-4-7 4-7 7-4M2025 567l8 1 8-3 6-4 8 3-1-8-1-8-3-7-6-5 0-8 7-4 7 4 4 7 2 8 3 7 3 8 8-1 7-3 8 0 8 0 6 5 7-5 5-6-2-8 5-6 4-7 2-8-5-6-6-4-8 1-6 5-4-7-8-1-8 0-6 5-8-4-7 3-4 7-6 5-7-5-5-5-8-4 1 8 2-7 1-8 2-8 7-3 8 0 8-1 6 6-5 6-2 8-6 4-8-2-8 2-7-2M2376 349l-5 6-4 7-8 0-7-4-7 3-6 6 0 8-2 7 5 6-2 8-6 5-6-6 0-8 6-5 8 0 7 4 4-7 7-4 3-7-8-1-1-8-2-8-8-1-7-3-6-6-4-6 4-7-2-7 4-8-2-7 1-8 5-6 2-8-7-4-8-1-4-6 4-7 8-3 8-2 8 1-4 7 1 8-5 7-6-5-5 6-8-2-8 2-8 1-3-7-7-4-6-5-8-1-8 1-4 7 6 5M2304 640l-7-3-4-7 5-7 8-1 7 3 7 4 8 0 4 7 6 5 6-5 8-3 8-2-2 8 0 8 7 5 5 6 4 7 0 8-8 1-5 6-8 0-8-1-3-8-1-8 3-7 6-6 8-1 7-3 8 4 8-1 7 2-8 0-5-6-7-3 0-8-8 0-7-5-7-4-4 7 0 8-5 6 7 4 8 1 4 7 4-7 8-1 2-7 6-6 1-8-4-7-4-7 0-8 3-7 3-8-8-1M2079 405l-3-8 8 0 7 3-2 8-3 7-6 5-4 7-1 8 1 8-3 7 4 8-3 7-2 8-5 6 1 8 0 8 8 2 8-3 7-4 2-7 1-8 2-8 3-8-8-2-8 0-8 1-5 6 0 8-8 1-7-5-1-8 6-6 0-8-1-7-8 0-8-2-2 8 3 8-1 7-5 7 1 8 6 5-1 8-4 7-1 8-2 7-3 8 4 7 7 4 3-7 5-6 6-6 8 1 5 6 7 3M2370 470l-7 4-4 7 3 7 3 7-7 2-8 1-8-2-8 0-7-3-5-7-2-7 5-6 6-5 7-4 6 6 2 8 6 5-1 8-5 6-1 8 4 7 7 5 1 8 0 8-6 5-3-8 7-3 8-3 5-6 8 2 7-3 5-6 4-7 6-6 5-6 6-6-8-2-8 0-8 0-7-4-5-6-6-6 7-3 8 3 5 6 3 8 0 8 5 6 8 1 8 2 4-6 8-4 5-6 8-1 8-1M2371 515l3-7 8 0 8-2 8 0 7-5 7 4 6 5 8 1 5-6 7-3 4 7 3 7 7 4 8-2-3-7-7-5 1 8-1 8-3 7-7 3 2 8 0 8 0 8 2 8 8 2 0-8 0-7-7 4 3 7-7 4 7 5 5 5-5 6-6 6-6 5-8-1-2-8 0-8 5-6 7-4 6-4 8-2 7 4 8-3 8 1-6-6-6-5-5-6 5-6 7 3-4 6 1 8 0 8 7 5 0-8M2287 575l5-6 7-5 7-4-2-7 1-8-5-6 5-6-6-6 0-8-7-4-5-6 2-8 5-7-3-7-8 0-2-8-7-4-3-8 4-6-5-6 6-5 5-6 4-7-1-8-1-8 3-7 8-3 7 3 2 8 3 7 3 8 3 7 1 8-6 5-8 0-8 1-5 6 6 6 7 4 7 5 4-7 3-7 5-7 5-6-3-7-6-5-7 4-8-1-8-3 7-5 3-7 8 0 8 1 8 1 4 7M2097 509l-6-5 4-7 7-4 4-7 8-2 6-5 7-5 5-5 1-8 8 2 6 6 4 6 3 8 6 5 7 4 6 4 6 6 5-6 8 1 0-8-5-6-7 2-8 1 0 8-6 6-8 2-7-4-3-8-5-6-4-7-7-3-8 1-8-3-6 6-5 6-1 8-7 5-8 2-6 4-8 0 0-8 6-5 7-5 7-3 3-8-1-8 0-8 4-7-6-6-8 1-3 8 4 6 7 5 7 3 7-5M2174 243l-7 4 2 8 6 5 4-8 8 1 7 2 8 3 7 2 8-2 8-1 6 6 7 3 7 4 6-5 7-3 6-6 8-2 7-4 4 7-1 8 3 7-1 8 6 4 1 8 6 5 7 5 8-3 6-5 8 1 4-7 1-8 4-7 7 4 6-5-8 2-4 7 2 8 7 3 8 2 8 1 2-7-5-7 5-6-3-7 2-8-7 3 1 7-4 7 1 8-5 7-7 3-7 5-3 7-5 7-8 1M2391 351l-1-8 4-7 4-7 5-6 6-5 6-5 5 6-4 7-8-2-7 3-8 2-6-5-8 2-7-4-7 3-7 4-7-3-8-1-7-3-5-7-8 1 1-8-6-4-8-3-7-4-5-6 1-8 7-4 0-8-8 1-7 5 4 7 8 2 6 4 3 8 5 6 7 4 8 1 7-3 5-6 3 8-1 8 7 3 8 2 6-5 7-5 3 8 2 7 0 8 1 8 6 5 8 2 3 7 8-1 6 6M2235 303l-3 7-2 8 8 1 8-4 5 6 5 6 7 5-2 7-2 8 7 2 8-1 4 7-3 7-1 8-6 5-5 6-4-7 2-8 7-3 8 1 5 6 0 8-1 8 2 8 3 7 3 8-2 7-6 6-7-4-8-3-6-5-5 7 0 8 2 7 3 8 1 8 4 7 1 8 3 7 3 7 7 5 5 6 7 4 8 2 7-3 2-7 7-3 5-6 8-1 8-2 8-2 7-2 5-7-5-6-1-8M2266 318l-3-7 4-7 7-5 6-5 8 2 7 4 8 0 3-8 7-2-1-8 5-6 2-8 7-5-8 0-8 0-7 4-7 4-5 6-4 7-3 7 7 5 6 6 3 7-5 5-3 8-7 4-5 6-8 0-8 0-8 0-8 1-8 0-8-1-4 6-8 3-3 8-1 8-7 4-6 6-2 7-8 0-3-8 6-5 8 0 7 4 6 5 7-3 4-7-2-8 5-6 4 7-1 7 0 8-8 4-7 4M2082 298l-7-2-7 5-2 7 1 8 5 6 8 1 4 7 8-1 5-6 4-7 4-7 4-7 5-6 0-8 7-3 8 1 8-2 7-3 5-6 6-6 2-8 7 3 7 4 0 8 2 8-1 8-4 7 3 8 7-2 6-6-1-8-4-6-5-6-5-6-8-3 2-8-6-6-1-8 8-1 8 1 7 1 7 4 2 8 8 2 7 2 8-3 5 6 5 7 7-2 7 4 8-3-3-7-6-5-7-4 5-5M2300 387l-4-7-6-6 1-7 0-8 1-8-1-8 8-1 5 6 3 8-3 7-4 7-6 5-1-8-7 2-8 3-7 2-7-3-6 5-3 8-5 6 7 5 3 8-8 1-4 7 7 4 3 7 6 6-7 4-5 6-1 8-8 4-6-5 0-8 7 2 6 6 5 6 8 3 7 3 8 0 7-4 2-8-8 1-7-2-7-5-6 5-8 0 6 7 7 3 6 5 8 2 5 6-3 8-8 2-8 1-2-8M2134 448l-3 7 0 8 7 4 5-6 8 4 4 7-2 8-4 7 3 7-6 6-8 2-3 7-6 4 5 7-1 7 4 7-3 8 3 7-4 7-5 6-8 2-8 0-7-3-5-7 1-8-8 2-7 3-5 7-3 7-2 8-7-3-6-5-7 2-6 5-8 0-8-3 1-7 0-8-5-7-2-8 6-4 7-5 5-6-1-8 8-1 6-6 8 3 6 5 8-3 7-3 4-7 3-8 7-3 3-8-3-7M2190 257l7-3 3-8-5-6-1-8 6-6 6-5 6 5 8 1 8-3 8 2 7-5 0 8 8 3 2 8 4 7 8 2 6 4 8 3 6 6 1 7 7 5 2 8 7 4 8 0 6-5 7-4-4-8-1-7-8-2-8-2 1-8-2-8-6 5 1 8 1 8 3 7 7 5 7-4 6-5 2-8 4-7 8-3 3 8 5 6 2 7 8-3-3-7-8-1-7 4-5 6-8 0-6 6-7 3-8-2-8 2M2131 589l7-5 7-4 3-7-4-7-6-5-7-3-8 1-8-3-7-4-4-7-7-3 0 8 3 7-3 8-3 7 8 0 7-4 3-7 2-8-3-8-3-7-6-5-8-1-5-7-3-7-5-7-8 1-5 7-1 7-4 7 6 6 5 6-3 7-5 7 4 7-2 8-2 7-6 6-8 0-8 1 1-8 6-5 7 2 5 7 7 3 8 2 1 8-7 3-8 0-8-2 1-8 6-5 8 2 0 8-3 7M2243 686l-2-8 5-6 4-7-1-8-8-2-5 6-7 4-1 7-8 0-8 1-8-1-6-5-6 5-8-2-8-3-7-3-5-6-5-7-4-7-8 0-8 0-7-4-8 2-7-4-8-2-6-5-6-6-8 1-8 2-5 6 7 4 8-1 1-8 3-8 7-2 4-8 3-7 3-7 7-5 2-7-4-7 4-7-3-8-2-8-1-7-8-3-7 3-4 7-2 8 6 6 0 8 2 7-4 7-8 3 2 8M2346 438l-3-8 5-6 8 0 8-1 7-5 7-4 7-2 8-3 7-3 8 0 8-2 8-1 8 1 4 7 7 4 8 0 7-5 8 0 2 8 6 4 5 7 8 0-2 8-1 8 0 8 2 8-5 6-7 4-6 5-1 8 3 8-6 5 3 8-2 8-7 3-5 6-7-4-8 0-8 3-7-3-4-7-7-3-8 3-5 6 4 7-1 8-5 7 4 7 4 6 8 3 1 8 8 3 8-2 4 7-8 2M2261 341l4-6 4-8 2-7 7-4 5-7 7-1 7-5 3-7-3-8-1-8-3-7-2-8-8 0-7-3-8-3-2-8-5-6-7-4-6-5-4 7-8 0-8-1-8 0-6 6-4 7-6 5-4 7-7 3-8-2-6 6-4 7 6 5 3 8-5 7 0 8-8-4-7 4-8 1 3 8 7-3 8 0 8 1-1 8-3 7-8 1-6 5-8 2-4-7-4-7 5-6 8 0 7 2 7-5 5-6-6-6M2461 355l-6-6 1-8-2-7 1-8-8-2-8-2-7-3-5-7-7 4-4 7-4 6-2 8 4 7 8-2-6-5-3-7-7-2-6-6-7-2-8 0-8 0-8 3-7 3-5 6-5 7-4 7-3 7-5 6 2 8 6 5 8 2 7-4 8-1 8 1 8 0 7-2 8 2 5 6 0 8 1 8 1 8 8 1 8-1 0 8 4 7-2 8-5 6 0 8 8 1 7-5 7 4 2 7-1 8 1 8-3 7M2082 433l-1-8 6 5-8 1-6 6-6 5-7 4-8 3 0-8-6-5-6-5 1-8-3-7 7-5 7-3 7-4 8-1 7-1 7 5-4 7 8 1 5 6 6-4-3-7 2-8 4-7 6-5 1-8-2-8-4-7-8 2-7-1-8 0-8-3 0 8 7-4 5-6 3-7 6-6 4-7-2-8-7-4-2-8-2-7 8-3 7-4 8-1 7-2 7-4 8-2 3-7 0-8 2-8-2-8-6 5-8 3M2398 453l-5 6-6 6-4 7-7 4-8 2-5 6-8 0-8 1-8-2-8-2-7-4-8 0-8-2-7-4-7-2-8-3-8 0-7-4 1-8-3-7-5-6-8 2-7 3-7 5-8 1-2 8 1 8 2 7-7-4-6-4-6-6-8-1-8 1 4 7 7 4 8-2 7-3 6-6 5 5 0 8 1 8 8 0 3 7 5 6 8 1 8-1 8-1 5 6 4 7 2 8-2 8-8 1-7-3-8-2-8 1M2132 515l-1-8-5-6-7-3-4-7-6-5-5-6-8-3-8-1-8-1-1-7-8-1-7 5-7 3-8-1-8 2-8 2-7 3-8-2-8-1-5-6-3-7 0-8 0-8-1-8 4-7 8-1 8 0 8 0 5 6 6 6 6 5-6 6-5 6-3 7 7 4 6 6 5 6 7 4 3 7 4 7 8-1 7-5 5-6 4-7 4-7-2-7-8-4-3 7-3 8-8 0-6-5-7 4-5 6-8 0-8 3M2054 433l5-6-2-8 4-7-2-8-1-7 6-6 0-8-5-6-8 0-8 0-7-4-3-8 8 0 3-7 5-6 5-7 6-5 5-6 6-5 8 3 1 8 6 5 8-2 7-2 8 0 3-8-7-4-8 0-8 1-8 0-8 2-7 2-8-3-8-1-3 7-7 4 2 7 5 6 5 7 3 7 3 8 6 4 8 0 6 6 8 0 2 8 8-1 7-2 7-4 6 5 8 2 8-1 5-6 8-2 7-4M2429 310l-6 6-7-5-8 1-7-3-7 5-4 6-3 8-3 7-6 6-6 5 5 7-4 7-3 7 1 8 6 6 7-3 8-2 7 4 6 4 8 2 7 4-4-7-3-7-5-6-2-8 6-6 3-7-4-7 0-8 4-7 4-7 6-6 8 2-3 8-5 6 2 8-4 7 6 6 0 8-4 7 8 2 8 3 7 2 7-4-6-4-1-8 6-5-4-7-8-1-7 4-8 4-4-7-4-7 6-4-8-2M2447 443l7-4 5 6 6 4 8 2 8-1 0 8 5 6 5 6 2 8-4 7-3 7-6 5-8-1-8-1-3 7 0 8 2 8-5 6-5 6-7 2-8-2-4 7-2 7 4 8 6-5-4-7-8 1-5 5-8 2-8-3-2-7-2-8-3-8-5 7-6 4-6 6-5 6-8 3-5-5-8-1-8 1-8 3 2 7-4 7-2 8 8 3 7 4 7 3 6 5 7-4 0-8 0-8 4-7-2-8-2-7M2055 526l0-8 7-4 5 6 7 4 1 8 3 7 4 7 7 4 5 7 7-2 2-8-3-7-8-2-2 8-2 7 0 8 6 6 3 7-5 6 1 8-4 6 0 8-5 6-8 1-5 6 2 8 5 6 8 2 4 7 7 4 6-6-1-8-1-8 3-7 0-8 2-7 0-8 8-2 1-8 0-8 3-7 8-3 8 0 7 2 0 8-2 8-2 8 3 8-4 7-4 7 6 5 6-4-5-5-5-7-3-7M2084 652l8 0 7-4 0-8-2-8 7-4 7-3 8-2 8-1 4 7-5 6-1 8-5 6-4 7-8 3-7-4-8-1-3-7-5-6 2-8 5-6 4-7 7-3 4-7 0-8 6-5 4-7 6-6 0-8-3-8-5-5-8-2-6-5-8-1-7 4-5 6-2 8-8 0-6 5-6 6-8 1-3-7 1-8 0-8-6-6-7-1-2-8 3-7-4-7 5-7 8 1 8 2 8 1 7-2 8-3 7 3M2178 375l-5-6-7-4-8-2-5 6-1 8-4 7-7 4-8 2-7-3-7 6-5 6-2 7-1 8-7-3-5-7-7 3-8 3-6-6 5-6 7-2 8 2 8-3 3-7 4-7 5-7 7 3-2 8-8 3-5 6-3 7 2 8-1 8 4 7 8-1 5-6 3-7 8-4 7 3 8 1 5-6-3-7 5-7 3-7 7-5 6-5 4-7 7-3 7-5 8-1-1-8 1-8 6 6 5 6 6 6 8-2M2110 302l5-6-4-7-2-8-7 2-2 8-2 7-8-2-5 7-5 5-3 8-6 5-8 1-4 7-8-2 1-8 7-3 7-5 8 2 7-3 7-4 6-5 5-6 5 7 6 5 3 8 6 5 3 7-7-2-7-3-8 0-8-1-6-6 2-8-2-7-7-5-7-2 1 8 5 7 0 8 0 8-2 7-3 8 2 8-6 5 0 8-6 5-5 6-4-6-3-7-2-8-2-8 8-2 6-5 8-1 5-6M2150 638l-7-4-7-4-1-8 1-8 2-7 6-5-2-8-8-2-7-3 5-6 3-8 2-7-1-8-6-5-6 6-7 3-8 2-7 4-6 4-8 2-7 5-1 7 7 4 8 0 4 7 8 1 8-1 8 3 6 4 5 7 1 8-3 7-4 7-5 6-7-3-7-4-5-6-7-3-4-7 3-7 4-7 6-5 3-8-1-8 1-8 8-1 7-5 5 7 0 8 0 8 4 6-6 6-7 3-8-1-3-7M2105 598l5-6-2-8-5-6 1-8-3-8 7-4 1-8 8-3 7 4 8 1 7-5 4-7-2-8 7-4 5-6 0-8 3-7-1-8-8 1-8 0-7 4-7-4 2-8 4-6 3-8 7-3 8-2-1-8-3-8-7-4-7-3-4 7-7-4-7-3-7-4-8 0-5-7-7-4-8 0 0 8-7 4-1 8-8 3-3-8-5-6-8-1-2-7-5-6-3-8-3 8 5 6 2 8-6 6-2 7-7 3M2346 319l-7-3-7-5 5-7-5-6-1-8 1-8-4-7-8 0-6 5-8 3-7 3-7 4 4 7 5 6 7-3 7-3 7-4 8-1 5-6 2-8-1-8 7-4 2 8-1 7-6 6-8 0-4-7 0-8 5-6 8-1 6-5 7 4 4 7 8 0-1 8-2 8-4 7 4 6 8 1 8 0 1 8 5 7 8-2 4 7 8-3 5 6 7-4-1 8-5 7-8 3-6 4-2 8-5 6 6 7 7 2M2137 387l-8-1-5 5-8-1 0-8 8 3 7 3 7 4 8 2 4 7-3 7-8 3-6 5-4 7-6-6-3-7 5-7 3-7-5-6-1-8 3-7-5-6-8 0-7 2-8-3-8-2-8 0-2 8 4 6 5 7 5 6 6 4 8 2 8 1 4-7 8-1 4 7 7 5 8-2 6-5 7-4 0-8 1-8 1-8 4-7 8-2 7-4 3-7 7 3 4 7 5 7 3 7 8-3 3-7 1-8 0-8M2113 598l7-4 6-5 8-3 2-8 0-8 7-5 6-5 7-3-6-6-2-7-8-2-2-8-8 1-5 7 3 7 1 8-7 5-8 0-7-2-7-4-8-3-8 2-6 5-8-1-1-8-1-8 3-7-2-8-3-7-4-8-1-7 3-8 7-4 8-1 5-6-3-7-7-4-5-7 0-8 4-7 8 0 4 7 3 7 5 6-5 7-5-6 0-8-6-5-8-3-7 4-7 4 3 8-4 7-7 4-5 7M2275 567l-8 3-6 5 0 8-2 7-1 8 8 2 7-2 7-5 8-1 8-1 6 5 4 7 5 6 8-3 7 4 8-1 8 2 5 7 7 2 7-3 8-3 7-4 8-2 6 5 8-3-1 8-7 3-2 8-4 6-8 2-8 1-7 4-2-8 0-8-5-6-8 0-2-8-5-6-5-6 2-8-3-7-2-8 1-8-4-7-2-8-8 3-4 7-7-4-7 3-8 3-8 2-5-6-6-5-4-7 0-8M2423 487l-6 5-8 2-6-4-6 5-7 5-7-5-2-7-8 1-7-4 0-8-8-3-7-2-7 5-6 5-7-3-7-3-8-2-7-3-8 1-8 1-3 8 5 6-2 8-8 0 4-6 2-8 4-7 2-8 8-2 6-5-6-5-6-5-7 4-8-1-6-6-7-3-6-6-3-7-6-4-7-5 2-8 6-6-6-5-7 3-6 6 0 8-8-1-7 4-7 4-6 6 2 8 7 3 8 0 3-7-5-6M2011 483l-2-7-1-8 4-7-5-7-8-3 6-5 2-8 5-6 8-1 7 3 1 8 1 8-4 8-8-1-7 2-6-6-5-5-8-2 7-4 7-4 5-6 4-7 7-5 7-3 7 4 8 3 1 7-3 8-4 7 6 5 2 8 6-6 7-2 5 6 8-2 7 3 7 4 6 5 4 7 8 0 7-3 8-2 8-1 1-8 5-6 8 1 7 4 8 0 8-1 7-4 3-8-6-5-3-8-1-7-4-8M2140 649l3 7-7 3-4 7-8 1-5 6-8 4 0-8 5-7 8 1 4-6 7 4 5 6 0 8 8 2 8 2 7-3 8-3 7-2 7 3 5 7 6 5 8 2 7 0 6-6 1-8-3-7-8-2-7-3-1-8 7-5 1-8-2-7-6-5-6-6 7-5-2-8-4-6 5-6-7-4 6-6 0-8-6-6 1-8 3-7 0-8-6 5-5 7 0 8 4 6 7 4 5-7-3-7-7-4-7 2-7 4M2355 602l8 2 3-8 3-7 7-4 5-6 5-6-1-8-7-4-8-1 3 8 3 7 4 7 4 7-1 8 0 8-7-3-6 5-8-1-6 6-2 8-6 5-8-1-8 1-7-4-4 8-5 5 4 7 8 4 7 1 8-1 8 2 1 8 1 8-8 2-1 8-1 8 5-6-1-8-7-3-8-3-8-2-7-3-8-2-7-3-7-3-6-6 8 0 6-5 7-3-1-8 0-8 8-2 1 8-3 7 0 8M2403 641l-7-4-8-3-5 6-8-2-5-7-6-4-8 0-8 3-7 3-4 7-6 6-1 8-5 6-7-4-1-8 1-8 6-5 8-3 7-4 8 1 1 8 1 8-1 8-5 6-8-2-4-7-5-6-6-5-8 0-8 0-8-3-8-2 2-7 3-8 5-6 4-7-1-8 1-7 3-8 6-6 7 2 7-3 8-1 1 8-7 5-8-1-3-7-6-5-8 0-5-7-4-7-2-7-5-7-3-7-7 2M2425 549l-5 6 1 8 4 7 5 6 7 4 1 8 6 6 2-8-4-7-6-5-8 3-8-1-1-8 7 3 8-3 8-1 6-5 8 1-3 8-8 1 0-8 3-8-1-8 4-6 6-6 8 0 6-6 7 3 0-8-5-6-6-5-7-5-7-4-8 1-6-6-2-7 5-6 4-7 8 0 6-4 8-1-5-6-7-3-8-3-7-3-8-1-7-1-8-3-8 1-6 5-8 1-7-4-7-3-7-5-7-4M2410 598l7-2-5 5-5 7 1 8-2 7-8 2-7 3-2 7-8 2-8 3-3-7-8-2-7 4-7 4-5-6-1-8 4-7 5-6-6-7 3-7 7-4 6-5 8 0 7 4 6-6 5-6 6-5 0-8-3-7-6-5-5-7-5-6-4-7-5-6-6-5-8 3-7-3-7 3-8-1-7-4 2 8 1 8 0 8-4 6-1 8-3 8-2 8-6 4-7-5-2-7 2-8 3-7-2-8 5-6 8-3M2385 352l-5 7-7 3-6-5-7 4-6 4-5 7-8 0-7 4-8-1 0-8-4-7-3-8 8-1 7-3 8-2 4-7-1-8 8 1 7 5 8 0 7-2 6-6 3-7-5-6-8 0-6-5-8 1-5-6 4-7 2-8-3-7-4-7 7 4 7 2 0 8-2 8-3 7-4 7-5 7-6 5-8 1-8-1-8 0-7 2-4 7-8 0-7 2-7 5-8 1-7-5-4-6-2-8-6-6 5-7 6-5M2448 340l-8 2-7 5-7 4-6 4-8-2-3 8 4 6 6 6 8 0 6-5 1-8 8-1 8 0 5 6-3 8-4 7 5 6-6 5-7-4-3-7-8 1-8-1-7-4-7-4-1-8 7-4 7-4 5-7 8 0 7-4 6-5 7-2-7 2-8 1-8 2-6-6 7-4 7 3 8 2 6-6-8-3-6-4-8 3-7 3-4 7-6 6-8 2-6 4-8 3 1-8 2-7-1-8-8-3-4-7 6-4M2461 574l7 3 4 8-4 7-7 2-7 4-7-2-8-2-5-6-8-2 6-5 6-6 5-6 5-6-3-8-4-7 6-5 6-5 8-1-5-7-7-2-8-2-7-4-8 1-8-3-8 0-1-8-3-7 3-8 6-5 7-4 3-7-7-3-5-7-6-5-2-8 5-6 5-6 7-4 8-1 7-5-2-8-1-7-2-8-2-8-8 3-8-1-8-1-8 2-7-4-8 2-7-3 5-6 8-1 2 8 7 4M2429 542l6-5 5 6-5 6-8 2 4 7 0 8-7 3-7-4-7-3 3-7 5-6 6-5 3-8 1-8-2-7 1-8-4-7 2-8 7-3-5-6-3-7-1-8-5-6-6-6-4-7 3-7 3-8 8-2 8 1 8-2 5-6-4-7-1-8 5-7 6-5-1-8 6-5 6-5-4-7 3-7-6-6-7-2-7-4-6-6 2-7-6-5-8 1 3 7-2 8-8 0-8 1-2 8 2 7-5 7-5-7M2071 532l-8 1-6-4-8 0-6 6-4 6-6 6-2 8 2 7 4 7 7 4-2 8 5-7 7 4 7-3 1-8 4-7 3-8 6-4 8 2-3 7-7 4-4 7-3 7 2 8-2 7-6 7-4 6-8-2-6-6 4-7 8-3 7-4 2-8 7-4 7-4 7 2 4 7 2 8-6 5-3 7-1 8-7 3 3 8 8 0 7-4 7 3 8 1 0 8 0 8-3 8 8 2 8-1 6-4-5-7-7 4M2310 696l-8 0-7 3-7-4-3-7 2-8-3-7-3-8-8 2-8 1-8 2-6 5-7 4-8 0-7-2-6 5-8 1-7-5-7 4-7 4 4 7-1 8 0 8 8-1 4-7-4-7-8 3-7-2-2-8-3-7-3-8-7 3 1 8-3 8-7 3-7-4-2-8-8-3-2-8 4-7 0-8 3-7 0-8-5-6-3-8 4-6 8 2 8 1 7 4 8-3 0-8 8-1 8 2 7-4 7-4 1-8M2159 580l1 8 0 8-8 2 1 8 5 6 8-1 7-3 8 0 3 8 3 7-3 7-2 8 5 6 1 7 1 8 7 3 3 8-7 3-8 1-2-7-4-7-6-6-7-4-4-7-5-6-3-7-4-7-5-6-3-8-8 2-7-5-6 5-8 2-8-2-7-3-5 7-6 4-5-7 0-8 4-7-2-8-8-2-6-6-5-5-8 0-5-7-7-3-7 2-7 4 3 7-4 7-8 0 6 4 7-4 8 3M2096 665l8 1 8-1 5-6 3-7-3-8-7-2-4 7 7 3 2 8-6-5-4-7-2-8-1-8 3-7 6-6 3-8 4-6 2-8 0-8-6-5-5-7-5-6-7-3-8-1-6 5-3 8-8 2-6 5-7-2-8 2 7 3-3 8-6 5-3 7 3 8 7 2 7 4 8-2 6 6 4-7 1-8-2-8-6-5-7-3-8 0-8 2 6 5 8 0 7-5 8-2 7-2 7 4 5 7-2 7 6 6M2169 319l-4 7 2 8 4 7-4 6-3 8 1 8 0 8 3 7 4 7-7 4-5 6 4 7 8-2 7 3 3 8 8 2 8 2 5 6 8-1 5-6-3-7-3-7 3-7 5-7 3-7 8-1 8-3 7-2 6-6 8-3-2-8 8 0 4-7 7-3 8 0 1 8 3 7 7 3 8 2 8-1 8-1 7-4 8 2 4-7 7 4 6 6 0 8-2 7-8 2-4 6 0 8 2 8 5 7 7 2 8 2M2181 363l-2 8-4 7 0 7-1 8-2 8 2 8 1 8 7 3-1 8-1 8-2 8 4 6 8 1 2-8 0-8 5-6 5-6 0-8-3-7 1-8-5-6-2-8-1-8 2-8 8-3 3-7-7-2-2-8-4-7-8 0-3-7 5-6 6 6-1 8 4 7 6 5 4 7-7 5 0 8-2 8 5 6 7 3 7 4 3 8-1 8-7 4-7-4-7-3-8-2-1-8-2-8 5-7 6-4 8 0 8 0"/></defs><use href="#mc1" stroke-width="1.6"/><use href="#mc1" stroke-linecap="round" stroke-width="6.4" stroke-dasharray="0 9.2"/></g><g transform="scale(0.25)" fill="none" stroke="#2210ac"><defs><path id="mc1b" d="M2472 486l5-6 4 7 2 7-1 8 2 8 3 8 2 8 1 7 6 6 3 7 1 8 3 8 7 4 8-1 5-6 7-4 6-6 8 0 6-5 8-1M2079 313l-8-3-3-7-2-8 1-7 7-5 7-4 4-7 4-7 7-3 4-7 6-6 3-7 0-8-3-7-8-2-8-2-7-3-5 6-4 7-6 5M2130 684l-7 4-3 8-6 5-8 1-8 0-7 4-6-4-8-2-7-4-8 4-4 6-6 6 2 8-1 8-8 1-3 7 0 8-6 6-3 8-7 4M2219 711l7 3 2-7 3-8 7-2 6-6 8 3 6-5 8 0 8 0 8 0 8-1 7-3 8-3 5-6 8-1 5-5 8-1 6-5 1-8 6-6M2445 372l7-4 6 6 8 1 6 5 6 6-3 7 5 7 7 3 8 0 6-5-1-8-2-8-3-7-6-5-6-6-7 3-5-6-1-8 1-8 6-6M2019 409l-8 2-7 4-4 7-3 7-7 3-7 5-7-4-6-5 3-7 0-8-6-6-8-2-2 7-7 5-7 1-8 1-8-1-6-5-8 0-8-3M2096 298l-1-8 6-5 7-3 2-8 5-7 3-7 2-8-5-7-5-5-6-6-6-5-5-6 6-6 4-7-2-8-3-7 3-8 2-7 7-5 7-4M2200 251l-3-7 4-7 5-6 7-4 7 2 1-7 8-4 3 8 5 5 8 2 8-1 8 1 8 0 4-7-3-8-8-1-7 3-6 6 2 7-2 8M2417 330l7-3-3-7 3-8 8-1 7-4-1-8-8 0-5-7-6-6-2-7-4-7-8 0-8 3-8 1-6 5-8 2-6 5-8-2-4 7-6 4M2008 466l-6-5-1-8 0-8 0-8-4-6 0-8-2-8-1-8-2-8-3-7-7-4 6-6 5-6 1-8-3-8-2-8-5-6-2-8-3-7-2-8M2453 571l7 5 5 6 2 8-4 6-3 8-7 3-8 2-8 0-3 8-2 7 5 6 8 2 8 1 8-2 3-7 8-3 7-3 7 4 6 5 6-6M2057 337l-2-8 6-5 4-7-8-3-7-3-7 2-5 6 0 8 5 7-3 7 3 8 8-2 1 8 4 7 7 3 2 8-1 8 7 5-1 8-5 5M2220 711l7 2 8 3 4-6 7-5 8 0 6 5 8 1 3 8 3 7 5 6 8 3 6 5 3 8 3 7 6 5 0 8-2 8-6 5-7 4-7 4M2166 700l1 8 3 7 7-4 5-6 8 0 8 2 6-4 8-1 8-2 6 5 7 4 8 1 7 2 8 2 6 6 7 3 1 8 3 7 7 3 8 1"/></defs><use href="#mc1b" stroke-width="1.6"/><use href="#mc1b" stroke-linecap="round" stroke-width="6.0" stroke-dasharray="0 9.2"/></g><g transform="scale(0.25)" fill="none" stroke="#2210ac"><defs><path id="mcb" d="M2045 536l9 14 9 14 11 12 15 8 8 14 8 15 14 10 9 13M2051 527l10 14 13 11 9 14 14 11 11 13 11 13 10 13 12 12M2056 511l13 14 9 17 16 12 13 14 14 13 10 17 16 11 10 17M2072 508l14 11 8 15 12 11 11 13 13 12 10 14 11 12 12 12M2076 494l15 12 10 16 12 15 16 11 10 17 14 12 13 14 12 15M2090 488l12 13 12 13 13 12 11 14 12 12 15 11 9 15 9 16M2098 471l11 16 14 14 15 12 9 19 15 12 12 16 12 15 14 15M2118 470l10 14 10 13 11 11 9 14 11 11 13 11 11 12 12 11M2120 458l15 11 9 17 13 12 12 14 12 13 11 15 14 12 14 12M2130 449l15 11 13 13 6 19 15 11 13 13 13 12 11 15 12 14M2143 439l13 12 11 14 10 15 14 12 12 14 14 11 9 16 11 15M2155 430l9 15 13 12 15 11 11 13 11 14 11 14 13 12 10 15M2166 420l7 18 15 10 13 12 7 17 13 12 15 10 10 14 10 15M2175 411l11 14 10 15 13 12 14 12 11 14 10 14 11 14 14 11M2185 404l12 13 12 12 11 14 13 11 12 13 9 15 10 14 16 9M2195 391l11 15 12 13 11 15 15 10 10 15 13 14 12 13 8 17M2206 384l13 12 9 15 11 15 15 9 9 16 15 10 10 15 11 13M2216 379l12 11 12 13 10 13 14 10 7 17 13 11 16 8 10 14M2223 364l14 13 12 14 14 12 9 17 14 12 15 11 9 16 14 12M2236 361l14 10 11 12 11 14 11 13 11 12 12 12 11 13 12 12M2244 350l11 14 16 9 12 13 13 11 11 14 11 14 12 13 9 15M2255 336l16 11 9 16 14 12 12 14 12 13 12 14 10 16 14 11M2273 328l10 13 10 14 12 12 10 14 11 12 13 11 11 13 12 12M2274 311l10 17 15 14 13 15 14 14 10 17 18 11 12 16 13 14M2287 303l11 15 13 15 15 12 11 15 14 14 9 18 13 13 15 12M2298 298l15 11 8 18 12 13 15 11 10 15 15 11 10 15 12 14"/></defs><use href="#mcb" stroke-width="1.4"/><use href="#mcb" stroke-linecap="round" stroke-width="5.6" stroke-dasharray="0 11.2"/></g><g transform="scale(0.25)" fill="none" stroke="#a81c1c"><defs><path id="mcr" d="M2026 533l19 19 19 19 18 19 17 21 17 20 18 20M2039 524l17 20 19 18 16 20 17 19 18 19 18 19M2047 514l19 18 17 21 20 18 17 21 16 22 20 18M2063 510l18 16 16 19 17 16 15 19 16 18 16 18M2074 501l18 16 14 20 16 18 16 17 18 16 14 19M2083 486l15 21 17 19 16 20 19 17 17 19 18 19M2089 474l17 21 20 19 18 21 17 20 18 21 18 20M2105 470l15 19 17 18 18 18 16 19 17 17 16 19M2115 464l19 15 15 19 14 19 19 16 14 19 15 19M2125 453l16 18 17 17 16 19 17 19 15 19 20 15M2144 448l14 16 12 18 14 16 18 13 11 19 15 16M2150 434l14 20 14 18 17 16 16 17 17 17 14 19M2152 420l18 19 18 20 20 17 16 23 19 18 17 20M2172 421l16 15 14 17 14 17 14 16 15 16 16 15M2171 399l18 20 19 20 19 21 19 20 19 20 18 21M2188 395l15 20 19 16 16 19 16 19 16 19 17 17M2194 382l17 20 19 19 17 21 19 18 17 22 18 20M2215 383l15 16 13 17 16 15 15 15 13 18 14 17M2215 363l19 18 17 21 17 20 17 21 19 19 17 21M2229 356l17 19 15 20 18 18 16 19 16 20 18 18M2245 354l15 16 15 17 14 17 15 17 15 16 15 17M2247 337l19 19 17 19 17 19 18 19 16 20 17 19M2257 327l18 19 17 20 18 19 16 20 20 17 16 21M2272 322l16 18 17 17 17 17 14 20 16 18 18 16M2278 308l19 18 15 22 19 18 18 19 16 21 19 18M2287 296l19 20 16 22 19 19 17 21 20 19 17 21"/></defs><use href="#mcr" stroke-width="8.4"/><use href="#mcr" stroke-linecap="round" stroke-width="10.4" stroke-dasharray="0 9.6"/></g>
<text transform="translate(73.52,20.7) scale(1.12,1)" font-family="Liberation Sans, sans-serif" font-size="20.18" font-weight="normal" fill="#000" stroke="#000" stroke-width="0.22" >ε</text><text transform="translate(83.44,24.3) scale(1.02,1)" font-family="Liberation Sans, sans-serif" font-size="13" font-weight="normal" fill="#000" stroke="#000" stroke-width="0.22" >PLD-RBD</text><text transform="translate(143.15,24.82) scale(1.22,1)" font-family="Liberation Sans, sans-serif" font-size="17.19" font-weight="normal" fill="#000" stroke="#000" stroke-width="0.22" >=</text><text transform="translate(161.57,24.44) scale(1.15,1)" font-family="Liberation Sans, sans-serif" font-size="15.95" font-weight="normal" fill="#000" stroke="#000" stroke-width="0.22" >0.2 kT</text><text transform="translate(75.12,39.8) scale(1.15,1)" font-family="Liberation Sans, sans-serif" font-size="19.82" font-weight="normal" fill="#000" stroke="#000" stroke-width="0.22" >ε</text><text transform="translate(84.65,43.8) scale(0.98,1)" font-family="Liberation Sans, sans-serif" font-size="13.48" font-weight="normal" fill="#000" stroke="#000" stroke-width="0.22" >PLD-PLD</text><text transform="translate(143.15,44.41) scale(1.32,1)" font-family="Liberation Sans, sans-serif" font-size="15.94" font-weight="normal" fill="#000" stroke="#000" stroke-width="0.22" >=</text><text transform="translate(161.57,44.64) scale(1.12,1)" font-family="Liberation Sans, sans-serif" font-size="16.35" font-weight="normal" fill="#000" stroke="#000" stroke-width="0.22" >0.4 kT</text>
<text transform="translate(280.32,21.2) scale(1.12,1)" font-family="Liberation Sans, sans-serif" font-size="20.18" font-weight="normal" fill="#000" stroke="#000" stroke-width="0.22" >ε</text><text transform="translate(290.24,24.8) scale(1.02,1)" font-family="Liberation Sans, sans-serif" font-size="13" font-weight="normal" fill="#000" stroke="#000" stroke-width="0.22" >PLD-RBD</text><text transform="translate(349.95,25.32) scale(1.22,1)" font-family="Liberation Sans, sans-serif" font-size="17.19" font-weight="normal" fill="#000" stroke="#000" stroke-width="0.22" >=</text><text transform="translate(368.37,24.94) scale(1.15,1)" font-family="Liberation Sans, sans-serif" font-size="15.95" font-weight="normal" fill="#000" stroke="#000" stroke-width="0.22" >0.4 kT</text><text transform="translate(281.92,40.3) scale(1.15,1)" font-family="Liberation Sans, sans-serif" font-size="19.82" font-weight="normal" fill="#000" stroke="#000" stroke-width="0.22" >ε</text><text transform="translate(291.45,44.3) scale(0.98,1)" font-family="Liberation Sans, sans-serif" font-size="13.48" font-weight="normal" fill="#000" stroke="#000" stroke-width="0.22" >PLD-PLD</text><text transform="translate(349.95,44.91) scale(1.32,1)" font-family="Liberation Sans, sans-serif" font-size="15.94" font-weight="normal" fill="#000" stroke="#000" stroke-width="0.22" >=</text><text transform="translate(368.37,45.14) scale(1.12,1)" font-family="Liberation Sans, sans-serif" font-size="16.35" font-weight="normal" fill="#000" stroke="#000" stroke-width="0.22" >0.4 kT</text>
<text transform="translate(487.72,21) scale(1.12,1)" font-family="Liberation Sans, sans-serif" font-size="20.18" font-weight="normal" fill="#000" stroke="#000" stroke-width="0.22" >ε</text><text transform="translate(497.64,24.6) scale(1.02,1)" font-family="Liberation Sans, sans-serif" font-size="13" font-weight="normal" fill="#000" stroke="#000" stroke-width="0.22" >PLD-RBD</text><text transform="translate(557.35,25.12) scale(1.22,1)" font-family="Liberation Sans, sans-serif" font-size="17.19" font-weight="normal" fill="#000" stroke="#000" stroke-width="0.22" >=</text><text transform="translate(575.77,24.74) scale(1.15,1)" font-family="Liberation Sans, sans-serif" font-size="15.95" font-weight="normal" fill="#000" stroke="#000" stroke-width="0.22" >0.2 kT</text><text transform="translate(489.32,40.1) scale(1.15,1)" font-family="Liberation Sans, sans-serif" font-size="19.82" font-weight="normal" fill="#000" stroke="#000" stroke-width="0.22" >ε</text><text transform="translate(498.85,44.1) scale(0.98,1)" font-family="Liberation Sans, sans-serif" font-size="13.48" font-weight="normal" fill="#000" stroke="#000" stroke-width="0.22" >PLD-PLD</text><text transform="translate(557.35,44.71) scale(1.32,1)" font-family="Liberation Sans, sans-serif" font-size="15.94" font-weight="normal" fill="#000" stroke="#000" stroke-width="0.22" >=</text><text transform="translate(575.77,44.94) scale(1.12,1)" font-family="Liberation Sans, sans-serif" font-size="16.35" font-weight="normal" fill="#000" stroke="#000" stroke-width="0.22" >0.6 kT</text>
<text transform="translate(24.81,106.79) scale(1.11,1)" font-family="Liberation Sans, sans-serif" font-size="10.68" font-weight="normal" fill="#000" stroke="#000" stroke-width="0.15" >Core-Shell</text><text transform="translate(21.07,120.09) scale(1.06,1)" font-family="Liberation Sans, sans-serif" font-size="11.49" font-weight="normal" fill="#000" stroke="#000" stroke-width="0.15" >(Disordered</text><text transform="translate(37.48,133.27) scale(1.16,1)" font-family="Liberation Sans, sans-serif" font-size="10.64" font-weight="normal" fill="#000" stroke="#000" stroke-width="0.15" >Core)</text><text transform="translate(214.82,108.4) scale(1.06,1)" font-family="Liberation Sans, sans-serif" font-size="10.96" font-weight="normal" fill="#000" stroke="#000" stroke-width="0.15" >Single-Phase</text><text transform="translate(224.5,121.62) scale(1.05,1)" font-family="Liberation Sans, sans-serif" font-size="10.85" font-weight="normal" fill="#000" stroke="#000" stroke-width="0.15" >Assembly</text><text transform="translate(435.51,102.1) scale(1.19,1)" font-family="Liberation Sans, sans-serif" font-size="9.86" font-weight="normal" fill="#000" stroke="#000" stroke-width="0.15" >Core-Shell</text><text transform="translate(439.28,115.15) scale(1.07,1)" font-family="Liberation Sans, sans-serif" font-size="11.17" font-weight="normal" fill="#000" stroke="#000" stroke-width="0.15" >(Ordered</text><text transform="translate(448.41,128.64) scale(1.21,1)" font-family="Liberation Sans, sans-serif" font-size="9.79" font-weight="normal" fill="#000" stroke="#000" stroke-width="0.15" >Core)</text>
<path d="M50.7,304.1 51.1,304 51.6,304 52,303.9 52.5,303.9 52.9,303.8 53.3,303.8 53.8,303.7 54.2,303.6 54.6,303.5 55.1,303.4 55.5,303.3 56,303.2 56.4,303.1 56.8,302.9 57.3,302.8 57.7,302.6 58.1,302.4 58.6,302.2 59,301.9 59.5,301.7 59.9,301.4 60.3,301 60.8,300.7 61.2,300.3 61.6,299.9 62.1,299.5 62.5,299 63,298.4 63.4,297.9 63.8,297.3 64.3,296.6 64.7,295.9 65.1,295.1 65.6,294.3 66,293.4 66.5,292.5 66.9,291.5 67.3,290.5 67.8,289.3 68.2,288.2 68.7,286.9 69.1,285.6 69.5,284.2 70,282.7 70.4,281.2 70.8,279.6 71.3,277.9 71.7,276.2 72.2,274.4 72.6,272.5 73,270.5 73.5,268.5 73.9,266.4 74.3,264.3 74.8,262.1 75.2,259.8 75.7,257.5 76.1,255.2 76.5,252.8 77,250.3 77.4,247.9 77.8,245.4 78.3,242.9 78.7,240.4 79.2,237.8 79.6,235.3 80,232.8 80.5,230.4 80.9,227.9 81.3,225.5 81.8,223.1 82.2,220.8 82.7,218.6 83.1,216.4 83.5,214.3 84,212.3 84.4,210.4 84.9,208.5 85.3,206.8 85.7,205.3 86.2,203.8 86.6,202.5 87,201.3 87.5,200.3 87.9,199.4 88.4,198.6 88.8,198 89.2,197.6 89.7,197.3 90.1,197.2 90.5,197.3 91,197.7 91.4,198.5 91.9,199.6 92.3,201 92.7,202.7 93.2,204.7 93.6,207 94,209.5 94.5,212.2 94.9,215.1 95.4,218.3 95.8,221.5 96.2,224.9 96.7,228.4 97.1,232 97.6,235.6 98,239.2 98.4,242.9 98.9,246.5 99.3,250.1 99.7,253.6 100.2,257 100.6,260.4 101.1,263.6 101.5,266.7 101.9,269.7 102.4,272.6 102.8,275.3 103.2,277.8 103.7,280.2 104.1,282.5 104.6,284.6 105,286.6 105.4,288.4 105.9,290.1 106.3,291.6 106.7,293 107.2,294.3 107.6,295.5 108.1,296.5 108.5,297.5 108.9,298.3 109.4,299.1 109.8,299.8 110.2,300.4 110.7,300.9 111.1,301.4 111.6,301.8 112,302.1" fill="none" stroke="#d41818" stroke-width="3.3" stroke-linejoin="round" stroke-linecap="round"/>
<path d="M50.7,304.3 51.9,304.3 53,304.3 54.2,304.3 55.4,304.3 56.6,304.3 57.7,304.3 58.9,304.3 60.1,304.3 61.3,304.3 62.4,304.3 63.6,304.3 64.8,304.3 65.9,304.3 67.1,304.3 68.3,304.3 69.5,304.3 70.6,304.3 71.8,304.3 73,304.3 74.2,304.3 75.3,304.3 76.5,304.3 77.7,304.3 78.8,304.3 80,304.3 81.2,304.3 82.4,304.3 83.5,304.3 84.7,304.3 85.9,304.3 87.1,304.3 88.2,304.3 89.4,304.3 90.6,304.3 91.8,304.3 92.9,304.3 94.1,304.3 95.3,304.3 96.4,304.3 97.6,304.3 98.8,304.3 100,304.3 101.1,304.3 102.3,304.3 103.5,304.3 104.7,304.3 105.8,304.3 107,304.3 108.2,304.3 109.3,304.3 110.5,304.3 111.7,304.3 112.9,304.3 114,304.3 115.2,304.3 116.4,304.3 117.6,304.3 118.7,304.3 119.9,304.3 121.1,304.3 122.2,304.3 123.4,304.3 124.6,304.3 125.8,304.3 126.9,304.2 128.1,304.2 129.3,304.2 130.5,304.1 131.6,304.1 132.8,304 134,303.9 135.1,303.7 136.3,303.5 137.5,303.3 138.7,303 139.8,302.6 141,302.2 142.2,301.6 143.4,300.9 144.5,300 145.7,298.9 146.9,297.7 148,296.2 149.2,294.5 150.4,292.5 151.6,290.2 152.7,287.6 153.9,284.7 155.1,281.4 156.3,277.8 157.4,273.8 158.6,269.6 159.8,265.1 160.9,260.3 162.1,255.3 163.3,250.2 164.5,245.1 165.6,239.9 166.8,234.9 168,230.1 169.2,225.5 170.3,221.4 171.5,217.7 172.7,214.5 173.9,212 175,210.1 176.2,209 177.4,208.6 178.5,209.3 179.7,211.6 180.9,215.2 182.1,220.1 183.2,226 184.4,232.7 185.6,239.8 186.8,247.2 187.9,254.6 189.1,261.7 190.3,268.3 191.4,274.4 192.6,279.9 193.8,284.7 195,288.8 196.1,292.3 197.3,295.1 198.5,297.4 199.7,299.2 200.8,300.6 202,301.6 203.2,302.4 204.3,303 205.5,303.4 206.7,303.7 207.9,303.9 209,304 210.2,304.1 211.4,304.2 212.6,304.2 213.7,304.3 214.9,304.3" fill="none" stroke="#2b1cf0" stroke-width="3.3" stroke-linejoin="round" stroke-linecap="round"/>
<rect x="50.7" y="190.9" width="164.2" height="113.79999999999998" fill="none" stroke="#000" stroke-width="2.7"/>
<text transform="translate(23.3,202.43) scale(1.07,1)" font-family="Liberation Serif, serif" font-size="18.68" font-weight="normal" fill="#000" stroke="#000" stroke-width="0.22" >0.2</text>
<text transform="translate(22.73,255.13) scale(1.02,1)" font-family="Liberation Serif, serif" font-size="18.68" font-weight="normal" fill="#000" stroke="#000" stroke-width="0.22" >0.1</text>
<text transform="translate(35.62,308.2) scale(1.1,1)" font-family="Liberation Serif, serif" font-size="20" font-weight="normal" fill="#000" stroke="#000" stroke-width="0.22" >0</text>
<text transform="translate(39.35,322.43) scale(1.14,1)" font-family="Liberation Serif, serif" font-size="18.53" font-weight="normal" fill="#000" stroke="#000" stroke-width="0.22" >20</text>
<text transform="translate(86.98,322.43) scale(1.13,1)" font-family="Liberation Serif, serif" font-size="18.53" font-weight="normal" fill="#000" stroke="#000" stroke-width="0.22" >40</text>
<text transform="translate(134.37,322.43) scale(1.11,1)" font-family="Liberation Serif, serif" font-size="18.53" font-weight="normal" fill="#000" stroke="#000" stroke-width="0.22" >60</text>
<text transform="translate(182.07,322.43) scale(1.11,1)" font-family="Liberation Serif, serif" font-size="18.53" font-weight="normal" fill="#000" stroke="#000" stroke-width="0.22" >80</text>
<text transform="translate(105.81,337.28) scale(1.11,1)" font-family="Liberation Serif, serif" font-size="17.7" font-weight="normal" fill="#000" stroke="#000" stroke-width="0.22" >Rg, A</text>
<text transform="translate(52.56,222.6) scale(0.99,1)" font-family="Liberation Sans, sans-serif" font-size="13.04" font-weight="normal" fill="#000" stroke="#000" stroke-width="0.22" >PLD</text>
<text transform="translate(139.61,220.8) scale(1.06,1)" font-family="Liberation Sans, sans-serif" font-size="12.86" font-weight="normal" fill="#000" stroke="#000" stroke-width="0.15" >RBD</text>
<text transform="translate(15.68,269.62) rotate(-90) scale(1.03,1)" font-family="Liberation Serif, serif" font-size="20.11" font-weight="normal" fill="#000" stroke="#000" stroke-width="0.22" >P(Rg)</text>
<path d="M274.5,304.5 275.5,304.4 276.5,304.4 277.5,304.3 278.5,304.2 279.5,304.1 280.5,304 281.5,303.9 282.5,303.8 283.5,303.7 284.5,303.6 285.5,303.5 286.5,303.4 287.5,303.2 288.5,303 289.5,302.8 290.5,302.4 291.5,301.9 292.5,301.4 293.5,300.8 294.5,300.2 295.5,299.6 296.5,298.9 297.5,298.3 298.5,297.6 299.5,297 300.5,296.3 301.5,295.6 302.5,294.9 303.5,294.1 304.5,293.3 305.5,292.4 306.5,291.5 307.5,290.4 308.5,289.3 309.5,288.2 310.5,287 311.5,285.8 312.5,284.5 313.5,283.2 314.5,281.7 315.5,280.1 316.5,278.5 317.5,276.7 318.5,275 319.5,273.1 320.5,271.3 321.5,269.4 322.5,267.5 323.5,265.5 324.5,263.6 325.5,261.6 326.5,259.6 327.5,257.6 328.5,255.7 329.5,253.7 330.5,251.8 331.5,249.9 332.5,248.1 333.5,246.4 334.5,244.7 335.5,243.1 336.5,241.7 337.5,240.3 338.5,239.1 339.5,237.9 340.5,236.8 341.5,235.8 342.5,234.9 343.5,234.1 344.5,233.5 345.5,233 346.5,232.6 347.5,232.3 348.5,232.1 349.5,232 350.5,232 351.5,232.2 352.5,232.4 353.5,232.7 354.5,233 355.5,233.3 356.5,233.7 357.5,234.1 358.5,234.5 359.5,234.9 360.5,235.4 361.5,235.9 362.5,236.5 363.5,237 364.5,237.6 365.5,238.1 366.5,238.7 367.5,239.2 368.5,239.7 369.5,240.2 370.5,240.6 371.5,241 372.5,241.4 373.5,241.8 374.5,242.3 375.5,242.7 376.5,243.1 377.5,243.5 378.5,243.9 379.5,244.4 380.5,244.9 381.5,245.4 382.5,246 383.5,246.5 384.5,247.1 385.5,247.7 386.5,248.4 387.5,249.1 388.5,249.9 389.5,250.8 390.5,251.8 391.5,252.9 392.5,254.1 393.5,255.3 394.5,256.5 395.5,257.8 396.5,259.1 397.5,260.4 398.5,261.8 399.5,263.2 400.5,264.6 401.5,266.1 402.5,267.6 403.5,269.1 404.5,270.6 405.5,272 406.5,273.5 407.5,275 408.5,276.5 409.5,277.9 410.5,279.3 411.5,280.6 412.5,281.8 413.5,282.9 414.5,284 415.5,285 416.5,286.1 417.5,287.1 418.5,288 419.5,289 420.5,290 421.5,291 422.5,292 423.5,292.9 424.5,293.8 425.5,294.7 426.5,295.5 427.5,296.3 428.5,297 429.5,297.7 430.5,298.4 431.5,299.1 432.5,299.8 433.5,300.4 434.5,301.1 435.5,301.8 436.5,302.4 437.5,302.9 438.5,303.3" fill="none" stroke="#d41818" stroke-width="3.3" stroke-linejoin="round" stroke-linecap="round"/>
<path d="M274.5,304.8 275.5,304.8 276.5,304.8 277.5,304.8 278.5,304.7 279.5,304.7 280.5,304.7 281.5,304.7 282.5,304.7 283.5,304.7 284.5,304.7 285.5,304.7 286.5,304.6 287.5,304.6 288.5,304.6 289.5,304.6 290.5,304.6 291.5,304.6 292.5,304.6 293.5,304.6 294.5,304.5 295.5,304.5 296.5,304.5 297.5,304.5 298.5,304.5 299.5,304.5 300.5,304.4 301.5,304.4 302.5,304.3 303.5,304.2 304.5,304 305.5,303.7 306.5,303.4 307.5,302.9 308.5,302.4 309.5,301.9 310.5,301.3 311.5,300.7 312.5,300 313.5,299.2 314.5,298.2 315.5,297.2 316.5,296 317.5,294.8 318.5,293.5 319.5,292.2 320.5,290.8 321.5,289.5 322.5,288 323.5,286.6 324.5,285.1 325.5,283.5 326.5,281.9 327.5,280.3 328.5,278.7 329.5,277 330.5,275.2 331.5,273.4 332.5,271.5 333.5,269.6 334.5,267.7 335.5,265.7 336.5,263.7 337.5,261.8 338.5,259.8 339.5,257.8 340.5,255.8 341.5,253.8 342.5,251.8 343.5,249.8 344.5,247.9 345.5,246.1 346.5,244.3 347.5,242.5 348.5,240.9 349.5,239.3 350.5,237.7 351.5,236.2 352.5,234.8 353.5,233.6 354.5,232.4 355.5,231.4 356.5,230.5 357.5,229.7 358.5,229 359.5,228.4 360.5,228 361.5,227.6 362.5,227.4 363.5,227.2 364.5,227.2 365.5,227.2 366.5,227.4 367.5,227.6 368.5,227.8 369.5,228.1 370.5,228.5 371.5,228.8 372.5,229.2 373.5,229.5 374.5,229.9 375.5,230.4 376.5,230.8 377.5,231.3 378.5,231.8 379.5,232.3 380.5,232.8 381.5,233.3 382.5,233.8 383.5,234.3 384.5,234.8 385.5,235.4 386.5,236 387.5,236.6 388.5,237.3 389.5,238 390.5,238.7 391.5,239.4 392.5,240.1 393.5,240.9 394.5,241.8 395.5,242.8 396.5,243.9 397.5,245.1 398.5,246.4 399.5,247.8 400.5,249.2 401.5,250.6 402.5,252 403.5,253.5 404.5,254.9 405.5,256.3 406.5,257.8 407.5,259.2 408.5,260.6 409.5,262.1 410.5,263.5 411.5,265 412.5,266.4 413.5,267.9 414.5,269.4 415.5,270.9 416.5,272.4 417.5,273.9 418.5,275.4 419.5,276.9 420.5,278.4 421.5,279.9 422.5,281.3 423.5,282.7 424.5,284 425.5,285.2 426.5,286.4 427.5,287.4 428.5,288.3 429.5,289.2 430.5,290.1 431.5,291 432.5,291.8 433.5,292.6 434.5,293.5 435.5,294.3 436.5,295 437.5,295.7 438.5,296.2" fill="none" stroke="#2b1cf0" stroke-width="3.3" stroke-linejoin="round" stroke-linecap="round"/>
<rect x="274.5" y="191.5" width="165.2" height="114.30000000000001" fill="none" stroke="#000" stroke-width="2.7"/>
<text transform="translate(236.09,220.65) scale(1.15,1)" font-family="Liberation Serif, serif" font-size="17.65" font-weight="normal" fill="#000" stroke="#000" stroke-width="0.22" >0.08</text>
<text transform="translate(235.56,265.93) scale(1.14,1)" font-family="Liberation Serif, serif" font-size="18.53" font-weight="normal" fill="#000" stroke="#000" stroke-width="0.22" >0.04</text>
<text transform="translate(259.62,308.38) scale(1.35,1)" font-family="Liberation Serif, serif" font-size="16.18" font-weight="normal" fill="#000" stroke="#000" stroke-width="0.22" >0</text>
<text transform="translate(265.77,322.64) scale(1.18,1)" font-family="Liberation Serif, serif" font-size="18.24" font-weight="normal" fill="#000" stroke="#000" stroke-width="0.22" >40</text>
<text transform="translate(318.05,322.64) scale(1.16,1)" font-family="Liberation Serif, serif" font-size="18.24" font-weight="normal" fill="#000" stroke="#000" stroke-width="0.22" >60</text>
<text transform="translate(374.18,322.64) scale(1.12,1)" font-family="Liberation Serif, serif" font-size="18.24" font-weight="normal" fill="#000" stroke="#000" stroke-width="0.22" >80</text>
<text transform="translate(430.76,322.64) scale(1.12,1)" font-family="Liberation Serif, serif" font-size="18.24" font-weight="normal" fill="#000" stroke="#000" stroke-width="0.22" >100</text>
<text transform="translate(330.92,336.56) scale(1.09,1)" font-family="Liberation Serif, serif" font-size="17.82" font-weight="normal" fill="#000" stroke="#000" stroke-width="0.22" >Rg, A</text>
<text transform="translate(298.32,251.9)" font-family="Liberation Sans, sans-serif" font-size="13.48" font-weight="normal" fill="#000" stroke="#000" stroke-width="0.22" >PLD</text>
<text transform="translate(393.43,240.7) scale(1.05,1)" font-family="Liberation Sans, sans-serif" font-size="12.71" font-weight="normal" fill="#000" stroke="#000" stroke-width="0.15" >RBD</text>
<text transform="translate(238.3,267.99) rotate(-90) scale(1.07,1)" font-family="Liberation Serif, serif" font-size="18.56" font-weight="normal" fill="#000" stroke="#000" stroke-width="0.22" >P(Rg)</text>
<path d="M489,308 490,308 490.9,308 491.9,308 492.9,308 493.8,308 494.8,308 495.8,308 496.7,308 497.7,308 498.6,308 499.6,308 500.6,308 501.5,307.9 502.5,307.9 503.5,307.9 504.4,307.9 505.4,307.9 506.4,307.8 507.3,307.8 508.3,307.7 509.2,307.7 510.2,307.6 511.2,307.5 512.1,307.4 513.1,307.3 514.1,307.1 515,306.9 516,306.7 517,306.5 517.9,306.2 518.9,305.9 519.9,305.5 520.8,305.1 521.8,304.6 522.8,304.1 523.7,303.5 524.7,302.8 525.6,302 526.6,301.1 527.6,300.1 528.5,299.1 529.5,297.9 530.5,296.6 531.4,295.2 532.4,293.7 533.4,292 534.3,290.2 535.3,288.4 536.2,286.4 537.2,284.3 538.2,282 539.1,279.7 540.1,277.3 541.1,274.9 542,272.3 543,269.8 544,267.1 544.9,264.5 545.9,261.9 546.9,259.4 547.8,256.8 548.8,254.4 549.8,252.1 550.7,249.9 551.7,247.8 552.6,245.9 553.6,244.2 554.6,242.7 555.5,241.4 556.5,240.3 557.5,239.6 558.4,239 559.4,238.7 560.4,238.7 561.3,238.9 562.3,239.1 563.2,239.5 564.2,240.1 565.2,240.8 566.1,241.6 567.1,242.5 568.1,243.5 569,244.7 570,245.9 571,247.3 571.9,248.7 572.9,250.3 573.9,251.9 574.8,253.5 575.8,255.3 576.8,257 577.7,258.8 578.7,260.7 579.6,262.5 580.6,264.4 581.6,266.3 582.5,268.2 583.5,270.1 584.5,271.9 585.4,273.8 586.4,275.6 587.4,277.3 588.3,279.1 589.3,280.8 590.2,282.4 591.2,284 592.2,285.5 593.1,287 594.1,288.5 595.1,289.8 596,291.1 597,292.4 598,293.5 598.9,294.7 599.9,295.7 600.9,296.7 601.8,297.6 602.8,298.5 603.8,299.3 604.7,300.1 605.7,300.8 606.6,301.5 607.6,302.1 608.6,302.7 609.5,303.2 610.5,303.7 611.5,304.1 612.4,304.5 613.4,304.9 614.4,305.2 615.3,305.5 616.3,305.8 617.2,306 618.2,306.2 619.2,306.5 620.1,306.6 621.1,306.8 622.1,306.9 623,307.1 624,307.2" fill="none" stroke="#d41818" stroke-width="3.3" stroke-linejoin="round" stroke-linecap="round"/>
<path d="M489,308 490.2,308 491.4,308 492.5,308 493.7,308 494.9,308 496.1,308 497.2,308 498.4,308 499.6,308 500.8,308 501.9,308 503.1,308 504.3,308 505.5,308 506.6,308 507.8,308 509,308 510.2,308 511.4,308 512.5,308 513.7,308 514.9,308 516.1,308 517.2,308 518.4,308 519.6,308 520.8,308 521.9,308 523.1,308 524.3,308 525.5,308 526.6,308 527.8,308 529,308 530.2,308 531.4,308 532.5,308 533.7,308 534.9,308 536.1,308 537.2,308 538.4,308 539.6,308 540.8,308 541.9,308 543.1,308 544.3,308 545.5,308 546.6,308 547.8,308 549,308 550.2,308 551.4,308 552.5,308 553.7,308 554.9,308 556.1,308 557.2,308 558.4,308 559.6,308 560.8,308 561.9,308 563.1,308 564.3,308 565.5,308 566.6,308 567.8,308 569,308 570.2,308 571.4,307.9 572.5,307.9 573.7,307.9 574.9,307.9 576.1,307.8 577.2,307.8 578.4,307.7 579.6,307.6 580.8,307.5 581.9,307.4 583.1,307.2 584.3,307 585.5,306.7 586.6,306.4 587.8,306 589,305.6 590.2,305 591.3,304.3 592.5,303.6 593.7,302.6 594.9,301.6 596.1,300.3 597.2,298.9 598.4,297.2 599.6,295.3 600.8,293.2 601.9,290.9 603.1,288.2 604.3,285.3 605.5,282.1 606.6,278.7 607.8,274.9 609,271 610.2,266.7 611.3,262.3 612.5,257.6 613.7,252.8 614.9,247.9 616.1,242.9 617.2,238 618.4,233 619.6,228.2 620.8,223.6 621.9,219.2 623.1,215.1 624.3,211.4 625.5,208.1 626.6,205.3 627.8,203 629,201.3 630.2,200.2 631.3,199.7 632.5,200.2 633.7,202.3 634.9,206.2 636.1,211.7 637.2,218.3 638.4,226 639.6,234.2 640.8,242.7 641.9,251.3 643.1,259.5 644.3,267.3 645.5,274.4 646.6,280.7 647.8,286.2 649,290.9 650.2,294.8 651.3,298 652.5,300.5 653.7,302.5" fill="none" stroke="#2b1cf0" stroke-width="3.3" stroke-linejoin="round" stroke-linecap="round"/>
<rect x="489" y="194.6" width="164.70000000000005" height="113.79999999999998" fill="none" stroke="#000" stroke-width="2.7"/>
<text transform="translate(463.17,199.54) scale(1.16,1)" font-family="Liberation Serif, serif" font-size="17.94" font-weight="normal" fill="#000" stroke="#000" stroke-width="0.22" >0.2</text>
<text transform="translate(461.05,252.23) scale(1.02,1)" font-family="Liberation Serif, serif" font-size="18.53" font-weight="normal" fill="#000" stroke="#000" stroke-width="0.22" >0.1</text>
<text transform="translate(478.02,304.86) scale(1.31,1)" font-family="Liberation Serif, serif" font-size="16.76" font-weight="normal" fill="#000" stroke="#000" stroke-width="0.22" >0</text>
<text transform="translate(477.56,324.85) scale(1.17,1)" font-family="Liberation Serif, serif" font-size="17.5" font-weight="normal" fill="#000" stroke="#000" stroke-width="0.22" >10</text>
<text transform="translate(530.53,324.85) scale(1.22,1)" font-family="Liberation Serif, serif" font-size="17.5" font-weight="normal" fill="#000" stroke="#000" stroke-width="0.22" >30</text>
<text transform="translate(585.7,324.85) scale(1.24,1)" font-family="Liberation Serif, serif" font-size="17.5" font-weight="normal" fill="#000" stroke="#000" stroke-width="0.22" >50</text>
<text transform="translate(642.95,324.85) scale(1.1,1)" font-family="Liberation Serif, serif" font-size="17.5" font-weight="normal" fill="#000" stroke="#000" stroke-width="0.22" >70</text>
<text transform="translate(537.41,338.86) scale(1.11,1)" font-family="Liberation Serif, serif" font-size="17.82" font-weight="normal" fill="#000" stroke="#000" stroke-width="0.22" >Rg, A</text>
<text transform="translate(514.58,272.5) scale(0.98,1)" font-family="Liberation Sans, sans-serif" font-size="13.04" font-weight="normal" fill="#000" stroke="#000" stroke-width="0.22" >PLD</text>
<text transform="translate(589.33,233.1) scale(1.05,1)" font-family="Liberation Sans, sans-serif" font-size="12.71" font-weight="normal" fill="#000" stroke="#000" stroke-width="0.15" >RBD</text>
<text transform="translate(458.89,272.61) rotate(-90) scale(1.06,1)" font-family="Liberation Serif, serif" font-size="19.11" font-weight="normal" fill="#000" stroke="#000" stroke-width="0.22" >P(Rg)</text>
<ellipse cx="208.7" cy="410" rx="65" ry="45.5" fill="#f2d6d4" stroke="#cfcfcf" stroke-width="1.5"/><ellipse cx="214.8" cy="567.2" rx="57.2" ry="57" fill="#e0defa"/><ellipse cx="472" cy="414" rx="56.7" ry="54.5" fill="#e2f8d8" stroke="#cfcfcf" stroke-width="1.5"/><ellipse cx="472" cy="569" rx="56.3" ry="61" fill="#e0defa"/><g transform="scale(0.25)"><path d="M775 1518l-5 8 1 10 7 6 8 6 8 4 3-10 5-8 7-7 5-8 0-10-9-2-9-4-2-9-10-1-7 7-6 7-9 4-9 3-5 8-5 8-7 7-10 2-2 9 0 10 9 3 10-1 9-4 5-8 8-4 7-7 7-7 5-8 6-7 10 1 9-4M737 1527l-9-1-10-1-8-5-4-8 6-8 9 2 9 3 4 9 9 0 10 1 9-3 8-5 0-10-3-9-3-9-8 6-1 10-4 8-5 9-8 5-7-6-8-5-8-6 1 10 10 2 9 2 9-3 10 0 8 5 9 5 8 5 9 1 9 3 8-6 8-4M803 1540l-10 1-9-2-9-3-9 3-9-3-8-6-8-6-4-8-1-10 2-9 1-10 9 0 9 3 4 9-5 8 2 10 1 9 1 10 5 8 8 5 9-3 10 0 9-1 10 1-8 6-9-1-10-3-6-7-6-7-7-7-9-4-9-3-9 0-9 4-6 7" fill="none" stroke="#6e6e6e" stroke-width="4.0" stroke-linejoin="round" stroke-opacity="1"/></g><g transform="scale(0.25)"><path d="M884 1718l0 10 6 7 9 4 9 0 10-2 9-3 6-7-8-5-9 1-10 0-8-5-10 2-8 5-9-3-9 2-10 3-9-3 9-4 8 5 7 7-1 10 0 9-5 9 0 9 6 7 9-3 9 4 7 7 8 4 9 2 10-1 6-7 3-10 0-9 5-9 6-7-1-9 4-9-7-6-10 1M861 1743l10-2 7 6 3 9 1 10 5 8 9 3 6 8 5 8 2 10 6-8 6-7 0-10-2-9-2-10 4-8 1-9-4-9-2-9 1-10-9 2-8 6-9 1-10 2-9 1-9-3-7-7-5 9 3 9 2 9-1 10 1 9 4 9 1 9-2 9-7 7 9 4 9-1 4 9 9-5 5-8M857 1727l-5-8-4 8 2 10 6 7 6 8 8 5 4 9 4 8 2 10 0 9 1 10 9-3 10 1 6-8 9-3 7-6 8-5 8-6 7-5 10-2 7 6-2-10-9-3-6-7-4-9 4-9-8-6-9 0-9-3-2-9-9 1-7 6-1 9 1 10 0 10 1 9 0 10 6 7 7 6 8 6M943 1793l-7-6-4-9-10 0-9 4-9 2-7-6-10-2-9-1-10-2-8 5-10 2-8-5-9-2-9 4 6 8 9 2 6-8 10-2 9 2 9 3 9 4 8 5 9 4 8 6 3-9 3-10 1-9 5-8 6-8 6-7 5-8 10-1 9 1-2 9 9 5-5 8-8 6-9 3-10-1-1 10" fill="none" stroke="#6e6e6e" stroke-width="4.0" stroke-linejoin="round" stroke-opacity="1"/></g><g transform="scale(0.25)"><path d="M956 1676l-6-7-6-8-9-4 6-7 9-4 9-2 9 4 6 7 5 8 8 5 9 4 10 0 7 7 4 8-9 2-7-6-6-8-7-7-7-6-8-6-9-2-9-3-10 1-9 0 3 9 8 4-1 9 9 4 7 7 8-5M974 1692l5-8 7-7 10-1 3 9 8 5 6-8 0-10 4-8 9-3-5 8-5 8-6 8-10 1-8 4-9-4-2-10 3-9-1-10-1-9 0-10-2-9-5-8-6 7-10-1 1 9 9 5 1 9 1 10 2 9-2 10" fill="none" stroke="#6e6e6e" stroke-width="4.0" stroke-linejoin="round" stroke-opacity="1"/></g><g transform="scale(0.25)"><path d="M659 1571l9-5 3-10-3-10-2-10-10 3-9 4-8 7-10 3-11 1-10 0-5 9 1 10 5 10 3 10 6 8 3 10 4 9 4 10 7 8 2 10 3 10 4 10 6 8 3 10 2 10 1 11-1 10-9 6-7 7-9-6-4-10-1-10 3-10 3-10 0-11-4-9-1-11 1-10 4-9 2-11 2-10 3-10 3-10 7-8 7-7M657 1654l5-9-1-10-2-10-4-10-7-8-7-7-2-11-5-9-2-10-7-7-9-6-8-7-7 8 0 11 3 10 4 9 6 9 2 10 4 10 7 7 10 3 11-1 10 1 10 2 10 4 10 3 9 4 9 5 9 5 9 6-7 9-10 1-10 3-8 7-8 6-8 7-7 7-9 6-10 4-10 1-10 2-10 3-10 4-7-8-2-10M698 1691l7-8 4-9 9-6-3-10 0-10-4-10-4-9-8-7-9-6-6-8-10-3-10-4-9-5-10-3-10 3-10 3-9 5-9 4-10 4-10-3-10-1 2 10 8 6 8 8 2 10-1 10-2 10-7 7 9 5 10 2 10-2 10-3 7-8 8-7 8-6 3-10-2-11 0-10 3-10 10-5 8 7 6 8 10 5 9-4 10-3M629 1690l-10 4-10 1-10-1-3-10-6-9 1-10-1-10-2-11 5-8 6-9 9-6 7-7 4-10-1-10-4-10 5-9 2-10 5-9 1-11 6-9 9 5 10 4 9 4 10 1 10 3 11 1 5 9 8 6 0 10-7 8-7 8-6 8-8 7-10 3-10 1-10 4-10-2-10-3-7-8-5-9-10-5-10 1-8-6 9-4 10-4" fill="none" stroke="#6a6ae0" stroke-width="4.4" stroke-linejoin="round" stroke-opacity="1"/></g><g transform="scale(0.25)"><path d="M841 1523l10-3 5-9 8-6 9-6 8-6 7-8 5 10 0 10 1 10 4 10 5 9 7 8 7 7 9 5 8 8 8 6-7 8-10-2-10-3-10 4-10 2-5 9-6 9-9-5-6-8-7-9-10-1-10-3-9-5-10-1-8-7-9-3-10 4-5 9-5 9 9 6 10-1 10-2 9-6 11-2M914 1554l9 6 7 7-9 6-10 0-10 3-11-1-10 3-10 1-10 1-9 6-10 2-8 7-6-8-6-8-2-10-5-9-8-7-8-7-7-8-4-9-3-10-3-10 1-11 11 1 9-5 9-5 9 4 10 4 5 9 7 8 9 5 7 8 10-3 10-5 9 5 9 4 9 6 10 3 10 2 10 2M834 1495l0 10-6 9-3 10 4 9 8 7 6 8 9 7 8 7 10-3 9-5 10-1 10-3 9-6 10-2 10 1 10 0 10-3-4 9-9 5-9 5-10-2-10-3-11 0-8 6-8 7-7 7-6 9-8 6-5 9 10-3 3-10 3-10-4-10-8-7-9-4-10-4-10 0-10-4-9 5-10 4M823 1546l8 5 9 6 7 8 9 4 9 5 7 8 8 7 7-7 7-8 5-9-2-10 3-10 8-7 6-9 6-8 2-10-1-10-3-10-11 0-9 5-10 1-11 0-10 2-9-4-10-4-5-10-6 8-10-3-10-2-2 10 4 10-1 10-3 10-6 8-8 7-4 10-3 10 7 8 9 5 7 7" fill="none" stroke="#6a6ae0" stroke-width="4.4" stroke-linejoin="round" stroke-opacity="1"/></g><g transform="scale(0.25)"><path d="M1036 1645l-10 1-11-2-9-4-10-3-10 2-11-1-10 2-10-1-10-2-11 0 1-10 4-10 5-9 1-10 3-10 4-10 6-8 9-5 7-9 4-9 7-8 0-10 3-10 0-11 10 2 8 6 8 7 9 5 8 7 9 6 9 4 10 4 2 10-1 11-3 10-4 9-7 8-9 6-6 8-8 7-8 7-10 0-10 1-10-3-10 0M998 1689l-11 2-9 5-9 5-7-7 1-11 2-10-7-8-4-10-6-8 1-10 5-9 8-7 0-10 6-9 7-8 1-10 3-10 8-7 2-10 6-9 4-9 3-10 2-10-2-10-1-11 10 3 3 10-2 10-1 10-5 9-1 11-4 9 1 11 3 10 0 10 4 10 1 10 6 8 9 6 7 8 2 10 5 9 0 10-1 11-9 5M999 1693l-10-4-9-5-9-5-6-8-4-10-9-6-10-1-10 2 9 5 9-5 10 3 10 0 10 4 10 2 10 1 9-6 10-2 10-3 10 4 10 1 8 6 4 10 9 6 5-9-4-9-8-7-8-7-5-9 0-11-1-10 3-10 5-9 5-9 1-10 2-11 10 0 10-4 2 10-5 9-10 4-10-3-7-8 1-11 0-10 7-8M1037 1673l-9-5-7-8-9-5-10 1-8 7-5 9 0 10 0 11-6 8-5 9 10-1 8-7 7-8 7-7 8-7 9-5 7-7 7-8 9-5 8-7 7-7 8-7 9-5-4-10-2-10-2-10-7-8-5-9-8-7 4-10 5-9 4-9 6-8 3 10-6 8-7 7-9 5-11 1-10 1-8 6-8 7 1 10 6 9-1 11-1 10" fill="none" stroke="#6a6ae0" stroke-width="4.4" stroke-linejoin="round" stroke-opacity="1"/></g><g transform="scale(0.25)"><path d="M760 1727l4-9 4-10 4-9 7-9 10 3 10 0 11 1 10 1 10-2 10-4 6 8 9 5 11 0 10-1 10 3 10 2 10 4-2 11 2 10 7 7 10 4 5 9-7 8 0 10-9 5-11 1-10 2-9 5-7 8-5 9-11 1-9-3-11-3-9-5-7-7-2-10 4-10-4-10-1-10 2-10 3-10-4-9-6-9-8-7-7-7M796 1776l-10 2-9 6-10 3-10 3 0-11-1-10 0-11-1-10-2-10 5-10 7-7 8-6 4-10 1-10 10-1 11 1 9-6 8 7 10 2 10-3 10 1 10-2 11-1 1 11-2 10 4 10 6 8 8 7 7 7 6 9 3 10 0 10-2 10-11 3-10-2-9 4-8 7-10 0-9-5-5-9-4-10-4-9-4-10-7-8-7-7M737 1761l2-10 1-10 9-6 10 3 5 9 10 4 10-1 10 3 10-2 11 0 8-5 11-2 10-1 10-4 7 8 7 7 9 5 11 0 9 6 10 1 8 7-1-10 0-11-4-9-2-10 4-10 4-9-9-6-10 2-10 3-7 8-3 10-7 7-5 9-4 10-8 6-9 5-9 6-10 2-11 0-10 0-10-2-8-6-3-10-10-4M760 1779l-10 0-8 6 7 7 10 2 10-4 6-8 6-9 5-9 10-4 10-1 8 6 8 7 5 9 3 10 5 9 8-5 10 5 4-10 7-8 6-8 9-5 7-8 10-3 10-4 9-4 9-6 9-4-6-8-10-5-10-2-10-1-8-6-4-10-2-10-11-1-10 0-10-4-9-5-9 5-11 0-8 6-8 7-8 6-7 8-8 6" fill="none" stroke="#6a6ae0" stroke-width="4.4" stroke-linejoin="round" stroke-opacity="1"/></g><g transform="scale(0.25)"><path d="M701 1564l6 10 0 10-7 10 0 10 4 11 3 10-4 10-6 10 3 10 8 10 0 10-8 10-2 11 8 10 3 10-6 10-5 10M733 1564l0 10-7 10-1 11 6 10 3 10-5 11-5 10 5 10 4 10-1 10-6 11-2 10 6 10 5 11-5 10-7 10M747 1552l5 10 5 11-4 10-6 10 5 11 3 10 0 10-6 11-1 10 7 11 2 10-6 10-5 11 4 10 6 10-2 11-7 10M776 1540l1 10 5 10 1 10-6 10-3 10 6 10 5 10-4 10-5 10 2 10 5 10-1 10-6 10-2 10 6 10 4 10-3 10-5 10M813 1532l-1 10-6 10-3 10 6 10 4 10-4 10-5 10 0 10 8 10 1 10-5 10-5 10 6 10 3 10-1 10-7 10 2 10 5 10M833 1568l3 10 6 10-2 10-6 10-1 11 9 10 1 10-6 10-3 10 3 10 6 10-2 10-7 10 2 10 5 11 3 10-8 10-2 10 5 10M860 1532l1 10 6 11 1 10-8 10-2 11 8 10 3 10-6 11-5 10 5 11 4 10-1 10-6 11 1 10 2 10 6 11-5 10M893 1540l3 10 6 11-2 11-5 10-4 10 8 11 3 11-7 10-1 10 3 11 3 11-1 10-5 10 0 11 5 11 3 10M926 1532l0 10-4 11-3 11 4 10 4 10-2 11-6 11 2 10 5 10 1 11-6 11-5 10 9 10 2 11-5 11-4 10M947 1460l6 10 3 11-2 11-8 10 4 10 5 11 1 11-7 10-1 10 4 11 5 11-3 10-5 10 1 11 7 11 0 10" fill="none" stroke="#d85454" stroke-width="7.6" stroke-linejoin="round" stroke-opacity="1"/></g><g transform="scale(0.25)"><path d="M871 2394l-11 0 7 3-12 3 3 4 3 2-13 8 4-1-4-1 6 2-8 5 6 8-7 4 8-2-8 8 4-2-2 7 6-2 0 9 6-7-6 8 8-1-6 6 6 2-5 6 4-5 7-2 0-4-1 2-4-1 3 4 1-9 2 2 9 6-8-10 6 1-15-1-1 1 5-10-6-5 6 6-7 2-6-7-4 2-5-4 0 2-7-5-4 6 3 2-10-1-1 4-9 0 1-3 3 9-17-4 4 5-10 0 2-1 0 3-5 2-1 8-4-2 0 7 0 1 2 2-3 9-4-3 5 0-6 1-1 5 8 3 8-1-5 2-1-7 1 6 4-1-1 0 3-2-2-4 5 6 2-5 7-3-7-11 0 9-2-9 2-1-3-1 5-10-13 3 9-5-8-7 4 1-2 0-5-11 1 6-7-12 8 0-8 6-7-7 3-2-6-3-3 4-9-3 5-2-3 0 0-7-2 9-5-3 1 8 1-2-13 2 5-8 0 7-8-1 3-1 1 3 1-5-4 1 5 0 1 7-1-11 1 9 3-1 2 4-3-2 7-1-4 4-7-3 6-14 6 12-3-5 5-5-2 3-3-5 0-5 3 3 1-2 2-2-4-5-3 4 7-9-4 2-3-7-1-1 6-3-1 1-7-1-4-4 2 5-3-8-5-6 4 8 0-12-10 0 1 7 2-4-6-9-14 6 4 1 0 2-1-5 0 7-3 1-4-8 1 5 2 0-4-3 4 4-4 3 5-6-8 12-7-6 7 3-4 3 0 3 4-8 6 5-2 2-2-4 3 6 1-7 6-1-6 1 2 1 3-5-3 4 6-7 2 0-1 0 0-5 0-3 0-2-1-2 3-2-2-5 1 4-1-7-4-6 0 4 3-6-5-4 1-3-8-4 2-7-9 3 4-2-1 0 0-7-4 7 0-9-5 4-5-5-2 8-2-5-2 5 0-9-10 7 5-1 6 7-5 0 4-1-6-4 4 12-4-5 2 5 3 3-2 6 11-9-5-2 6 4 1-1 4 1 1 4 10-5 1-2 3-6 2 6 3-5 4 0 7-7-8 2 9-5 0 1 9-8 1 0 0-6-2 1-2-8 5-6-5-4 6-1-5-7 2-1-3-6-3-2 2 0-9-1 1 4-1-8-3-4-1 1-1 5-2-3-10 2-4-4 9 0-9 9 5-7 2 9-10-6-5-2 6 10 2 7 0-16-5 14 6-4 2 5-1-7 0 2-4 11 6-2 6-3-5 3 5-1 2 7 1-6 0-3 7 2 2-3 5 6-3-3 8-7-7 1 7-11-10 0 13 1-3-9-3-3-2 5 3-6-2-4 0-5 0-1 2-9-7 2-1-2-6 0 4-1-2-3-3-5-8 2-5-6 3-1 1 5-11-2 0-3-2-2-2-1-9 3 6-3-1 1 1 0-3 6 2-7-7 10-6-8 2 2 5 0-1 3-7-1 4 2 3-4-4 4 9-3-5-4 9 5-11-1 9 1-2-5-6-3 8 4 0-3 3-6-4-1 8 2-2-5-1 0 0-6 3-1 0 4 4-9-2 0-2-1 2-7 2-3-5 3 3-7 2-3-3 0 0-4 0 7 2-7-5-8 7 0-5 4-2-6-13-4 5 0 7 6-3 2-1-7-4-1-1 4 5-5-3 0 2-1-3 4-6-6 1 6 5 7 3-6 1 11-1-7-1 0 8-1 0 7-2 7 3-12 6 0 1 4 2 4 3-1 1-2 1-2 7 5 5-3 2-7 3 5 8-4-10-1 12-7M914 2130l-2-2-5 2-2 3-9-11 4-1 0-5 2 1-4 7-8 1 2-3 0 8 1-2-7-1 3 5-4 1-1 2 6 3-4 4 3 2 9 12 0-2 3 3 2 0 13-2-1 3 3 3 7 2 6-7 2-3 10 1 7-1 1-1-2-3 9-7 2 0 4-3 2-1 0-9 1-1 0-8-2 6 5-2 1-6 3 2 1-9-9 5-5 0 3-3-2 6 6-7-8 10 10-2 3 4-5 4 0-3 6 5-2 7 3-4 5 5 0 3 7 3 5 6-3 4 9-3-4 3 5-4 12 1-2 6 0 0 2-5-2 10 6 1 4-6 0 0-2 0 8 3-4 0 3-2-11-3 9 0 3-4-4 7 3-2-5 1-2 5-2 0 0 6-6 0-2-2-1 8-1 6 2-1-2 4-4 2 3 9-4-14 8 14-8 7 4-1-6 7 5-3 0 8 1 2 9 4 1 6-7 0 7-6 0 5 11 2-3 6-1-2 0 1 12 1-2-6 0 1-3 0 8-6 0 1-6-4-8 11 4-9 7-1-9 6-1-2-3-1-6 5 0-2 0 0-10-4 4 12-5 0-2 6 5 2-2 4-4 1-2 11 0 2 4 0-6 14 4 4 2 2 4 5 8 1 1 0 3 2 4 6 1 0 6 2 2 0 1-3 6 4 6-3-3-1 4 5 2-5-1-6-2 1 0-6 0 1-3 5-8-8-2 0 0-5-6 2-7 0-4-3 4-1-2 10-13 6 5 0-8 3-1 4-8 3 0 1-3 13 7-4-9 7-6 5 3 4 1 8 3-5 0 7 3 8-2-10 7 10 1-6-2 5 0-3 6 5-8-3 7-4-7-1 5 0-4-2-4-2 5-3-3-2-6 1-3-3 3-3-2 8-5-6-3-3-6 6-1-6-7 2 1 3-2 2-1-7-5 4 2 9-7-2-4 3 5 3 0 2-3 10-3 1-5 6 2-2 6 3 1 1 0-2-2 4 0 6 4 3 4 1-2-5 6 0 2 7-1-1 0 1 3 0-2 0 6-2-4 4 1-8-1 9 1 4 2-8-4-3 6 4-4-6-7 12-2-4 1-1-4 2-4 5 2 0-3 2-5-1M810 2152l4-3 4-10-5 1-2-5-1-9 7-7-10 3 1 1 3-6 1 1-3-5-6 0 1-3-5 0 1 1-8-3 4 2-4 4-1 0-4 6 2-5 11 8-5-3-1-2 1-1 7 11-1 1 2 0 10 6 5-6 1 8 0-2 5-8 14 1-1 2 10-7 2 5 3-8 4-3 3-5 2-6 0-2 2 1 0-6 4-5 0-3 2 2-4-4-2 7 0-6 2-4-6 5 5-1-8-1 2 3-1-4 2 2 3 6-3 6 7 1-11-3 2 8 4 6 2-4 8 7 0 1 2 9 1-5 9 8-5-5 6 10 7-4 0 6 4-5 1 8 7-4 0 2 3-7 4 8-4 1 0-8 0 6 5-7 5 4-8-4 1 2 8 4-4-1-4-3 3 6 0 3-3-10-7 5 10 2-2 3-4 0 5 3-4-5-4 6 0-1 2 11 5-1-1 9-1-4 3 7-1 5 3-2 4 3 1 0 1 0 6-3-2 10 4 1 2 5 2-3 8 1 1-1 1-1 9-5 0 0" fill="none" stroke="#585858" stroke-width="7.2" stroke-linejoin="round" stroke-opacity="1"/></g><g transform="scale(0.25)"><path d="M808 2227l-8-1-9-2-7-4-7-6-7-6-1 9-3 8-2 8-6 7 1 9 8 4 3 8 6 7 8 3 9 2 8 3 5 7-5 7 0 8 1 9 0 9 3 8 8 4 8 3 8 3 8 4 8 3 5 7 4 8 1 9 5 7 4-8 7-5 7-5 9-1 9-1 8-2 9-3 8 2 1-9 0-9 0-9 2-8 8-3 8-5 6 6 7 6-8 6-8 0-8-4-2-9-6-6-6-7-7-6-7-4-9 1-9-2-7-5-7-6-7-5M902 2329l-5-7-6-7-3-8 1-9-2-8-2-9-5-7-4-8-4-8-4-8-4-8-6-6-3-8-8-5-7-5-8 4-4 8-7 5-7 6-7 5-4 8 2 8 6 7 6 6 8 5 1 9-7 5-8 3-7 6-7 5-6 7-4 8-2 8-3 8 9 2 8 2 7-5 5-8 7-5 8-3 5-8 5-7 6-7 0-8 1-9 3-8 3-9 8-3 7-6 7-5 8-3 9-1 8-4 9-1 9 0 3 8-2 9-2 8-7 6-3 8M848 2244l4-8 5-7 2-8 6-7 1-9 5-7 5-8 7-4 4-8 6-6 5 7 8 5 2 8 7 6-3 9-8 2-6 6-9 0-9-3-8-3-7-6-8 3-9 2-8 3-9 1-3 8-3 9-7 5-4 8-6 6-8 4-7 5-8 4-9 0-6 7-8 4-7 5-7 5 6 7 9 1 8 3 6 6 8 4 9-3 8-1 9 1 4 8 6 6 6 7 7 6 7-5 5-7 6-6 5-8 8-2 9 0 9-2 8 4 8 1 7 6M788 2257l-8 1-9 1-9-1-8-4 7-5 7-6 4-8 6-6 5-7 9-2 8-3 6-7 7-5 4-8 1-8 5-8-3-8 9 0 9-2 8-2 5 8 4 8 0 8 3 9-2 8-5 7 3 9-2 8 3 8-2 9 2 8 0 9-4 8-4 8-5 7-7 5 0 9-7 5-7 6-8 4-8 3-9 0-9-1-7 4-9 1 8 3 6 7 8 0 8 4 6 7 5 7 7 5 8-4 6-6 8-5 8-3 9 2 8-2 7-5 6-7M914 2256l6-6 4-8 2-8 6-6 0-9 4-8-4-8-2-8-9-1-8-3-8-4-8-3-9-1-9 1-8-3-9 1-8-4-8-2-8 3-9-3-8 2-6 7-6 6-6 6-9 3-8-3-9 0-1 9 5 7 9 1 9-1 4-8 4-8-1-8-4-8 8-1 7 5 3 8 8 4 7 5 4 8 8 4 9-1 8-5 8-3 5-7 7-5 4-8-8-4-8-4-8-3-8-4-3-9-7 5-2 9-3 8 2 9 4 8 6 6 6 7M806 2289l1 8-1 9-3 8-7 5-9 2-8 2-9 3 3-8-1-9-3-8 1-9 2-9 6-6 0-9-5-7-4-8-8-3-2-8-4-8 6-7 8-1 9 1 5 8 4 8 4 7 3 9-1 8 0 9-6 6-6 6-1 9-4 8-7 6 0 8 8 3 8-2 8-5 7-5 4-8 6-7 5-7 3-8 2-8 5-8 2-9 2-8 4-8 7-5-1-9 2-9-4-7-2-9 2-8 6-7 7-6 2-8 4-8 8 3 2 8-1 9M901 2221l6 6 5 8-3 8-6 7-7 5-3 8-2 8 3 8-6 6-7-4-5-8 0-8 1-9 3-8-3-9 0-9-2-8 5-8 5-7 7-6 8-2 9-2 8-2 8-4-8-3-8 3-7 5-8 4-7 5-8 4-9 1-9 1-8-2-9 3-9-1-7 5-8 3-9 0-7-5-6-6-3-9-7-5 8-4 7-5 8-4 8 3 9-1 8-4 8 0 9 1 6 7 8 4 8 2 7 5 2 9 6 6 7 6 2 8 7 6 8-2M884 2215l7 5 9 2 8 2 5-8 2-8-5-8-6-6-4-8-8-3-7-5-7-6-7-5-6 6-6 6-8 5-8-2-9 2-9 0-8 4-8 1-9-1-5 7-2 8 4 8 6 7 7 5 7 5 7 6 6 6 4 8 1 9 4 7 6 7 9 0 8-3 9-1 9 1 7 4 3 9 1 8-1 9-3 9-8 3-6 6 1 9-2 9 3 8 1 9 4 7 6 6 6-7-5-6-9-2-8-4-4-7 2-9 6-6 4-8 3-8 8-4M865 2298l-6 6-6 7-1 8 1 9-3 9-2 8-4 8-5 7-7 6 9-2 8 0 9 1 7 5 8-4 4-8 6-7 6-6 7-5 9-2 6-6 9 1 7 4-1 9-9 1-7-5-8 3-5 8-7 5-6 7-8-3-8-3-9 2-8-3-6-7 4-8-1-9-1-8-3-8-7-6-3-9 6-6 5-8 4-7 2-9-3-8-7-6-4-8-2-8 0-9-2-9-8-3-9 0-8 0-8 4-8 4-9-2-9 0-9-1-8 2 1 9" fill="none" stroke="#dc5c5c" stroke-width="7.6" stroke-linejoin="round" stroke-opacity="1"/></g><g transform="scale(0.25)"><path d="M688 2207l3 3 3-1-1-4 1 1-1-3 1 0-2-2 1 3 4-5 1 0-2-2 2 5 0-13 4 1-3 4 3-7 3-1 3-1 1 3 5-8-2 1 5-1-1 2 7-3-4-1 4 3 7-4 3 1-1-1 6-6 4 6 1 1 1 1 3-3 7 4-2 0 2 3 2 0-1-3 3 3 0-2 0 3 3-3 1 3-1 0 0 1-1-6 2 2-2-1 3-5 0 3 3-6 1 1 4-3-1-4 2 1-1-2 2-2 4-1 0 5 2-6 3-1 2-3 3 2 0-3 3-1 0 1-1 4 6 0-1-4 1 1-4 2 6-3-4 0 3 4 0-6 0-2-3 3 2-5-1 0-1-1 2-1-1 0 5-2-4-5 2 0 0-1 3-5-2 0 3 2 1-6 9-2-1 1-1-3 3 4 4-3 2-2 1 3 2 0 2-4 4 1 1 4 2 0-1-3 1 1 4-1 1 3 0 3 1 1-1-2 0 0 3 2 2 2 2-3-2 0 1 3 4-1-1-3-1 1-2 1 5 2 1-6 2 2 2-2 1-2 2 3-3 1 8 1 1-4-1 2 6 4 0-8 1 5 4 0-1-2 5 1 1-1 0 2 4-3 1 4 1 0 1-2 4-1-1 0 0 2 0 1 4 1-1-2 1-3 0 5 0-5 3 1 1-4 0 1 3-5 1 2 3-3 2-3 1 5 3-8 2 2 3-3 2-1 8-5-3 3 3 0 6-3 0 0 5 6 0-4 4-1 2 3 1 2 3-4 4 5 3 2 1 2-2 4 5 0-2 0 3-2 1 5 0 1 2 1-1 1-1-1 2 1 0-2 0 0-1 3 7 0-2 0-1-1 4 4 0 0 0 2 2 2 3-2-2 2 2 2 3-2 4 4-4 6 4-1 1 4 2 0 1 5 1 0-1 4-1 3 2 5-1 3-2 0-1 7 1 5 1-2 0 1-2 3 0-1-4 5 3 4-3-1-2 1 3 0-1 2 0 1 2 4-3-3-1 1 5-1-3 6-1 0 5-1-1 2 4-2 2 5-3 0 4 0-4 1 2 4 5 0-4 4 2 1 3 3 0 2 0 3-1 5 2-2 1-2 0 6 2 1-2-1-2 5 5-2-2 2-1 1 3 1-3 3-2 0 3-2-3 0 2 2-2 1 3 1 1 1 0 2 1 3 2-4 4 4-2 0-3 3 4-3-2 6 1 0 3 6-1 2-2 0 2-3 0 5-2 8-3-2-1 3 3 3-1 0-3 2 2 4-6-1 2 4 0-2-5 2-2 2-1 3-5-7 1 5-4 2 4-1-7-1 0-1-1 1 0 1M968 2406l-4 6-4 0 3 1-2 0-6 2-4 2 1-3 0 4-5-2-1-2-5 6 1-1-2 1-4-1 2 0-1-3-5 4 1-3-7 1 2-2-6-2-2 0 3-1-4-1 0-4 0 2-5 2-1-4-2-2 3 7-3-6-1 2 4-1-6 1 0-3-3-1-1-1 1 5-8-7 0 3 2 0-1-3-5 3-3-2 2 2-2-4 0 7-1-4-7 1-1 0-6-3 3-1-4 5 1-6 0 0-7-1-1 2 0-1-2 0-2-1-2 0 2-3-2-1-2 1 1-4-3 4-2-4 3 1 1 2-4-2 0 0-2-2 0 3-2-2 1 6 3-2-4 2-3 0 3 4 0-4-2 0 0 2-1 4-5 2-4-4 5 4 0-1-5 3-3 0-2-1 1 2-6 2-3-1 2-2-6-1 1 4-3-7-3 0 2 3-4-6-5 0 1 1-2 1-3-1 3-6-3 4 0-7-1 0 1-2 0-1-3 1 1-6 0 2 0 1-3-2 2 0-1-2 4-1-1-5-4 2 1 1 2-2 1 6-5-3 4-2-4 3 1-2-3 0-1 1-2-3-2 3-1-6 1 1-2 0-2-1-1-1-4 0 1-4-3 2 1 2-1-3-3-2-1-1-5-2 6-3-7-1 1 2-4-3 5 0-5 1 1-4-1-1 1 2-2-1-1-3-1 0-1 0 2-3-4 4-2-2 0 0 0-1-3 0-1 0-3 2 1 1-1 1-1-1-1 0-5 2 0-4-3 1-1 2-6-2 4 2-5 0-2 2-2-3-3 4-1-4-1-2-9 1 2 0-5-1 0 1 0-2-5-1 0-2-2 1-4-6 1 2-2-5-2 0-1 0-3-3 0-1 2-3-2 1-3 0-3 0 6-5-4-3 0 4-1-4 0-2 3-2 1 0 0-1-4-1 3 1-2-4 1 0 0-1 0 1-3-1 1 0-1-4-1 0 2-2-1-4M1032 2305l-2 0-2 4 2 0-4 4 2-1-1 6-2 1 1-1-3 0-3 4 3 2-3-2 0 6-1 0 2 3-5-6 2 4-2 0-2 1 0 1-3 1 1 2-1-1-1 0-1 3 0 3 0-3-2 2 0 3-3-3 1 0 2 2-1 3 3-3-3 3-1 3-1-1-1 4 2-1 0 2-3 5 2 0 1 2-4-2-3 4 3 3-2 1-2 4 1 0-4 3-1 1-1 0-1 0-4 5 1 3-7 0-1-1 1 3-6-1-2 2-2 1 0 0-2 2-3-1-2 0 1 1-2 1-1 0-5 3 0-3 0 1-3-2 2 1-4-1 3-2-7 1 5 2-4 0 4 3-4-3" fill="none" stroke="#6464f4" stroke-width="7.6" stroke-linejoin="round" stroke-opacity="1"/></g><g transform="scale(0.25)"><path d="M1784 1776l-5 12-2 12 8-16 5-12 15-5 10 11 8 10 11 9-7 15-2 12 10 10 3-14 3-14 3-11 1-15 2-15 15-2 15-5 14-7 14-2 7-13-12-6 2-13 4-17 15-4 14-3 14-2 3-14-12-10-10-8-14 7-12-10-12-8-12-10 3-12 14-7 10-4 14-6 9 12 9 12 14-7 4-14 16-6 2-14 15-1 11-4 13-5 16-4-15 3-14 4-17 6-14-8-13-9 3-13 15-5M1813 1639l-14-4-16-2-5-12-13-6-7-14 10-14 6-12 10-12 7-12-5-14 7 16 4 14 5 14 7 12 16 0 13 0 15 2 3 14-8 17-8 9-11 10 3 14 7 13 5 13 10 13 5 14 10 12 3 15 4 14 17 3 14 3 15 0 9-13 8-13 10-11 4-12 8-9 13-14 12-10 11-14-3-12-13-1-18-2-15-3-9 10-9 11 4 13-9 11-13 1-16-2-15-3-14 0-8 9-10 13-11 9M2030 1687l-17 0-4 12 8 12 14 0 7 10 6 13 6 12-9-11 6-12-7-14 6-12 15-1-14 2-15-1-16 0-6-12-7-11-5-13 7-10 6-13 13 0 5-14-11-14-9-11 6-11 3-14 7-13-6 14-15-1-17-1-12-9-6-10-16 3-11 2-13-1-8 14-8 13 7 10 11-1 5 12 14-1 13-1 16-1 6-12-8-13-8-12-8-12-8-15-14-2-7-13-7-12 5 12 9 13-5 14-12 0M1818 1546l-14-7-13 4 3 12 13 8 13-7 12-7 13 7 13 6 14 6 15 7 12-5 13-8 14-9 12-7 13-9 12-7 11-8 0 14-1 15-13 7-10 9 3 14-14 8-13 9-16-5 0-15-1-13-1-15 0-14-2-14 0-18 1 12 14 6 11 7 14 7 10 8 10-9 14-6 10 5 13 6-14-8-13-8-12 4 2 14-1 13 1 15 0 12 1 13-1 14 0 15 0 13 4 11 2 16-13 10 1 13M1955 1726l-5 13-2 15-3 15-5 14-3 13-12 2-13 0-4 16-6 13 10 9 11 11 15-3-14 4-15 5-8-12-10-11-18 4-12 3 6-13 4-14-10-9-14 5-5 13-13 4-6-9-8-11-11-9-10-11-13-10 6-19 4-12-7-11-9-12-11-12-14 1-5 12 9 14 9 8 10 13-5 13-4 12-16 1 18-1 12 11-4 15 7-14 6-18-7-11-10-11-16 4-12 3-14 2 8 8 12 15 8 11M1763 1572l-14 12-13-4 13 3 4 14 12 4 16 2 12 4 15 0 4 11 12 5 14 7 5 16 4 13 4 12 5 14-9 10 1 11 4 11 5 14 3 14 6 12 16 1 4 16 15 3 14 0 10-10 11-14 8-10-3-13-13-5-12-4-17-3-13-2-12 10-10 12-9 11-12 12-12 12-14 8-9 11 6 14 13 5 16 3 9-11 14 5 4 14 14 3 8-10-3-11 8-8-4-14-3-10-6-11-4-16-12 0" fill="none" stroke="#4e7040" stroke-width="4.0" stroke-linejoin="round" stroke-opacity="1"/></g><g transform="scale(0.25)"><path d="M1798 1632l-3-14-6-17-3-16 15 2 14 4 14 2 14 5 10 6 5 14 1 12-9 10-11 10-11 13-8 8 4 15 14 2 5-10 10-9 0-12 0-15-5-12-6-11 8-10 11-10 8-13 12 3 11 4 8-7 12-11 13-9 14 7 14 3 14 5 3 13 2 14 1 13 5 14 3 14 0 11 3 13-12 8 3 13 4 15 0 15 3 13 8 13-8 13-12-4-12-4-15-4M1835 1623l10-8 1-16 0-12 2-12 1 18-4 15 0 13-16 6-11 4-1 10 0 17 1 16-1 12 13 5 13 7-3 14 0 13 11 6 13 8 11 9 12 11 10 6 12 8-4 13 0 16-12 7-13 6 14-7 14-6 13-8 11-9 11 6 11 9 12-5 15-6 1-17 16-5-14-8-11-4-13-11-11-9-10-10-1-14 9-5 12-6 10-6 1-18 2-14 1-14 2-14M1924 1714l-11-6-7-12-7-10-5-13 11-8-8-13-5-15-7-11-13-3-14 0-6-16 9-12 12 1 6-7-5-15-10-14-9 11-13-1 6 15 5 14 5 14 5 16 17 0 13 4 12 5 7-6 8-13 7-10 10-11 4-10 12-9 16 2-13-2-7 12-17-3-13-2-10 9 6 15 1 9 15 1 15 1 8-8-4-12-6-15-5-14-8 12-13-3-7 12 6 12 1 14M1931 1748l8 13 3 12 7 11 11 3 13-1 9-12 15 3 11-14 7-8 10-12-6-15-16-5-9-14-17-2-13 0-9 12-7 12-8 15-10 11-8 10 10 11-11 9-11-3-7-13-5-16-10-3-14-2-4-13-12 0-5-13-6-12-7-10-4-11 11-8 7-9 14 0 13 3 17 3 12 7 14 5 11 0 5-9 7-9 10-12 13 1 5 11 10 13 7 14 14 7 4 10M1926 1624l-2 15 12 10 14 5 8 7 13-4 13 10 10 6 10 10-3 16-1 11-12 8-14 1-7-12-12 3-5 14-2 17-4 14-3 15-4 14 9 7 13-3 15-5 2-10-12-9-10-10-14 3-2 13 12 10 11 5 12 7-12 6 0-12 11-6 13-4 12-7 14-5 3-13-13-6-12-11-12 7-12 4-12 7-11-12-12-4-9-7-15 6-14 4-11 1 1 14 12 7M1812 1614l-13-6-1-11 9-9 11-11 15 9 8-11 12-10-8 9-12-6 12 8 11 4 2 16-13 12-10 7-12 6-10 5-10 9-14 6 1 17-11 8 5 12 4 9-12 5-7 8 1 17 12 4 13 3 11 5 12 3-1 9 14 6 11 0 16 4 11 8 14 6 0 14 1 15 3 18-1-14-11-8-15-4-13-5-10-6-10 10-14 5-13-3-2-14 10-10 11-9 11-8M1996 1704l12-3 4-14 9-7 10-8-12 5-14 8-14 8-2 11 3 13 14 7 13 11-13-7 1-12-10-4-11-6-9-4 1-18 0-12-1-19 1-17 13-5 10-9 13-8 3 14-10 7-11 4 0 12 11 7 1 15 1 12-13 9-1 14-4 17 4 11 0 11 0 18 0 15-2-9-12-9-12-8 2-12 15-6 10 6 11 6 12-8 12-9-12 12 2-11 0-12 1-14M1978 1673l9-8 7-8 7-9 13-9 8-9-10 9 4 12 4 13 9 14 4 10 5 12-16-1-12-3-3-13-6-15 6-11 16 1 13 3-16-1-13-2-6 10-12-3-6 10 4 12 5 12 16 4 13 5 12 4 9-10-10-4-7 11-14-2-15-3-13-3-13-3-12 12 1 11 3 13 4 11-6 8-6 14 5 15 8 14-5-12 11-12 13 5-12-5-12-5-3-11 10-14" fill="none" stroke="#c8805a" stroke-width="7.2" stroke-linejoin="round" stroke-opacity="1"/></g><g transform="scale(0.25)"><path d="M1643 1689l-2-12 20 3 9-6 7 7 7-7 1-15 10 5 14-3 3 0 15-2 0-2 10 0 5-1 14-8 7-7 0-5 10 2 7-6 14-11 5 3 9-4M1662 1725l5 2 1 0 15-8 7 2 4-9 11 5 10 0 11-3 2-7 15-3 0 3 5 7 17-14 0-5 11-4 11 7 0-9 16-8 8 2-7-2 14 1 13-10 8 8 9-8M1745 1471l17 7 3-1 7-2 17 10-3-4 7 0 24 10-4 0-6 4-4 19-4 9 2 1 6 12-1 5-9 6 1 16 2 5M1904 1523l2-2 19-4 5-5 1 1 4 0 20-2 8-6 2-4 17 6 2-4 8 1 6-1 3 5 13 14 0 3 10 14 1 1 5 2 11 0-2 12 9 6M2012 1724l7 2 5-6 10 4 7-1 0-4 11 1 17 1 2-1 14-10 0 5 14-3 0-2 13 2M1886 1776l10 10 3 4 8-1-2 4 16 12-1 13 8-7 15 10 6 10-3 2 14 4 5 11 11 2 6 4 6 7 7 9 5 2M1768 1497l0 16-1 12-2 6 3 6 5 4-4 13-1 4 14 11-8 18 6-2-9 8-4 5-13 9 7 13-1 7-8 5M1820 1641l12-1 1-6 11-7 3 4 13-4 1-10 22-6-2-1 8 0 5 0 8-5 16 1 6-13 8 14 6-7-7-2 20 13 8 1 9-4 14 8 11 7-2-1 9-2" fill="none" stroke="#5a68ea" stroke-width="5.2" stroke-linejoin="round" stroke-opacity="1"/></g><g transform="scale(0.25)"><path d="M1876 2260l8 5 10 0 8-6 9 0 9 4 7 6 6 8 9 5 9 0 9 2 8 5 9 5-4-9-2-9-2-10-5-8-1-9 5-8 8-6-6-7-9-5-6-7-10-1-8-6-5-8-5-8-1-9-3-10 1-9 4-9 2-9 7-8 3-9-10 0-7 6-7 7-9 4-9 1-10-2-8-4-6-8-9-2-10 0-9 4-8 6-8 5-9 0-10 3-8 5 1 10-5 8-2 10-7 6-9 4-7 6M1893 2210l-8 6-9 3-6 8-4 8-2 10-7 6-9 5-8 5-8 5-4 9-3 9 6 6 10 1 9-3 9-3 10 0 9 1 9 4 9 1 10-1 8-6 9-4 4-8 6-8 9 3 4 9 5 8 8 6 6 6 9 5-5 8-10 0-9 4-9 2-9 4-9-3-8-4-10-2-7-6-7-7-9-4-9 0-6 8-3 9-3 9-2 10 3 9 3 9 5 8 5 8 3 9 3 10 6 7 8 5 8 5M1803 2278l8 6 9-2 9-4 4-9 6-7 7-6 8-6 8-6 8-5 9-3 9-1 10 0 9 2 8 5 9 3 5 8 9 3 8 6 9 2 9 5 8 5 5 9-8 6-9 2-6-8-8-5-7 6-10 0-8-6-8-4-10-2-9 2-9 3-7 7-9 3-9 2-10 0-9 1-8-5 1-9 1-10 0-9-1-10-6-8-6-7-7-7-5-8-4-8 1-10-3-9-9-4-4-8 3-9 3-9 3-10M1857 2143l-5-8-4-9-3-9 0-10 4-9 9 0 10-1 7-6 7-7 8 5 4 9 3 9 1 10 3 9 0 9 0 10 9 4 9 2 9 3 8 7 8 3 4 9 9 4 10 0 2 9-6 7-9 5-9 3-9-4-9 1-9 4-10 1-9 2-5 9-4 8-8 6-9 0-8-5-10 0-10-2-9-1-8-5-9-3-7-7-7-7-5-8-8 4-9 5-9 1-1 10 3 9 5 8 1 10-6 7-10 0M1946 2287l-8-6-9-3-9-1-9-3-10 0-9-3-9-3-9 1-10 1-9-1-9-5-9-1-9 4-7 6-7 7-4 9 5 8 8 5 5 8 5 9 8 5 8-4 4-9 4-9 7-6 9 3 9-4 8-6 4-9-1-10-6-7 0-10-3-9-4-9 8-6 10 1 9-1 6-7 8-6 8-5 6-8 9 1 10 0 9-2 10 0-2 10-7 6-7 6-6 8-6 7 1 9-1 10 1 10 3 8 2 10M1887 2114l-9 4-9 2-10 2-7 5-8 6-7 7-4 9-3 9-1 9-7 6-8 6-7-7-2-9-3-9-4-9 9-1 10-2 6-7 4-9 9-4 8-4 6-7 7-7 10-1 7 7 4 8 4 9 8 6 6 7 5 9 1 9 0 10 1 9-2 9-6 8-5 9 1 9 0 10 6 7 9 5 7 6 7 6 8 5 6 8 8 5 9 3 8 5 8 6 8 5-6 8-6 7-4 9-6 8-8 4-8 6" fill="none" stroke="#7a7a84" stroke-width="7.2" stroke-linejoin="round" stroke-opacity="1"/></g><g transform="scale(0.25)"><path d="M1893 2327l-4-9-1-10-1-10-4-9 0-10-1-10-7-8-7-7-10-2-9-4-8-6-10-3-9-4-7-7-9-3-10 4-8 5-6 8-6 8-10 2-10 3-9 2-10-3 4-9 0-10 8-5 3-10 5-9 10-2 10 0 9 2 10 2 9 5 10-1 10 2 10 0 10-1 10 1 7 8 9 3 10-2 10-2 8-5 9-6 8-5 10-3 10-2 9-3 8-6 7-8 5-8 6-8 6-8 10-3 7-6 5-9-10-3-10 0-9-4-9-2-10-4-10 1-9-2-10-3-9-4-4-9-6-8-9-4-10-2-10-1M1942 2378l-9-4-10 1-10 4-8 5-8 6-10 3-10 1-9 4-8 6-8 6-7 7-5 9-7 7-10 3-6 7 10 0 7-6 9-5 5-9 1-10 0-10-2-10-7-7-1-10-9-4-10-2-10 1-7-6-10-2-10 3-10 3-9-4-7-7-2-10-10-3 1-10 6-8 6-8 9-3 10-4 7-6-1-10 3-10 0-10 4-10 1-10-3-9-3-10 8-5 4-9 9-5 10-2 9-4 9-4 3-9 4-10 4-9 5-9 0-10 4-9-5-9 0-10 0-10-2-9-6-9-5-8-7 7-6 8 0 10 3 9M1884 2166l-6 8-7 7-9 5-10 2-10 0-10 0-10 0-10 0-8 5-4 9-7 8-7 7-5 9-1 10 4 9-7 7-5 9-6 8 4 10-3 9 3 10 6 8 6 7 10 4 6 8 7 7 7 7 7 7 9 5 9 5 6 8 1 10 6 8 7 7 8 6 6 8 4 9 3 10 1 10 3 10 1 10-7 8-8-6 0-10 1-10 2-10-1-10 2-9-1-10 0-10-3-10-8-5-10-1-10 1-10 0-10-1-10 3-7-7-9-4-10-3-9-3-8-6-9-5-9-4 3-9 6-8 5-8 8-7 3-9 4-9M1927 2215l9-4 8-6 10-3 8-5 9-5 9-3 10-1 10-1 10-2 10 0 0 10 1 10 2 10 4 9 4 9-2 10 0 10-1 10-5 9-5 8-9 5-10 3-9 4-10-1-10 0-10-1-9-2-9-5-6-8-7-8-5-8-7-7-6-8-7-7-2-10 2-10 4-9 7-7 9-4 10-2 9-5 10-2 9-3 9-5 8-6 8-5 7-8 7-7 9-5 2 10-3 9-1 10 0 10 5 9-2 10-5 9 3 10 0 10-2 10-7 6-10 3-9-3-10 0-10-1-9-3-10-2-9-5-9-5-7-7-7-7M1805 2178l3 9 6 8 6 9 3 9-3 10 2 10 2 10 4 9 5 9 2 9 1 10 1 10 6 8 9 5 9 5 8 5 7 7 6 8-1 10 2 10 2 10 1 10-1 10 3 9 4 9-2 10 3 10 4 9 6 8 6 7 7 8 7 7 8-5 3-10 8-6 10-3 10-2 10 1 4-9 0-10-2-10 3-9 1-10 0-10-4-9 0-10-6-8-10-1-9-4-6-8-3-9 3-9 1-10 3-10 3-9-3-10 4-9 8-5 10-2 10 1 9 4 9 5 7 7 10 2 9 3 9-6 8-5-5-8-4-10-6-7M2006 2204l6-8 2-10 0-10 1-10-10-2-10 1-10 1-10 2-9 2-10 2-10 1-10 3-9-1-9-4-8-7-10 0-7-7-6-8-3-10-8-5-7-7 1-10 3-10 3-10 5-8 0-10 10 4 4 9 4 8-1 10 4 10 2 10-3 9-1 10-1 10 5 9 5 8 8 6 7 7 10 2 4 9 0 10-2 10-2 9 2 10 7 8 1 10 7 7 8 6 4 9-1 10-4 9-1 10 4 10 6 8 3 9 3 10 1 10-3 9-2 10-6 7-5 9-3 10-1 10-1 10-6 7-10 4-8 5-9 4-8 7" fill="none" stroke="#d88090" stroke-width="6.4" stroke-linejoin="round" stroke-opacity="1"/></g><g transform="scale(0.25)"><path d="M1905 2467l7-4 8-1 7 4 3 7 5-5 5 6 4-7 8-1-2 8-7-2-6-6-5-6-3-7 7-4 0-8 5-5 5-7-7-3-8-3-5-6-6-6-6-5-1-8 5-7 1-7-3-8-8 0-6 5-8 3 7 5-1 8-7 3-8-2-8-1-4 7-2 8 5 6 7 5 8-2 8-1-1 8 2 8 7-4 5-6 7-4 7 4 6-5 2-8 1-7 8-4 5-6 5-6 6 6 8 2 2 8M1914 2425l-2-7-7-4-5-7-5 6 0 8-7 3-7 5-1-8-4-7-4 8-7 2-6-5-8 2-7 3-6-6-2 7-8 3-4 6-2 8 7 3 7-5 4-7 8 1-2 8 2 8 8-3 5-6 0-8 3-7 0-8 0-8-7-3 0-8 4-7-5-7-7-2-6 6-4 7 5 6 7 4 2 8 8 0 8 0 8-3 1 8 5 6-5 6 4 6 8 2 7 4 5 6 8-2 5-6 1-8 3-8M1763 2204l6-5 7-4-3 8 4 7 0 8 5 6 2 8-6 6-7 4-5 6-1 7-6 6 2 8 5-7 5-6 8-2 6-4 8-3-4-7 6-5 6-5 8-3 1-8-8 2-8 0-8-2-7 3-8-3-8-2-5-6 1-8 4-7 8 2 7 3 7 4 7 4 8 2 8-1 6-5 7 3-2 8 4 7 8 1 8 0 4-7 5-7 5-5-3-8 3-7-6-5-4-7-7-3-5-6-8 2-4 7M1750 2256l-6 6 1 8 7-4 7-5 3-7 6-6-6-5-2-8-1-8 3-7-1-8-8-2-7-4-7 3-8 0-8-1-7-3-2-8-7-3 8-1 6 5 4 7 5 6 4 6 8 0-1 8-4 7-3 7-2 8-8-2-7-4-7-4-4-6-2-8 5-6 5-7 6-4-2-8 1-8-5-6 7-5 7 3 1 7-1 8 8 0 8-2 3-8-2-7 0-8 2-8 6-6 1-8 6-5-5-6-8-2M1988 2093l-6 5-2 8-8 1-8 0-8 3 2-8 7-4 8 2-3-7-7 4-6 5-8-2-7 3-8-2-7-4-8-3-7-2 1-8 6-6 7-3 3 8-8 3-6 4-8-2-8 3-3 7-5 6 0 8-1 8-6 5-7-5 1-8 7-3 5-6 7-5 7-3 8-1 6-5 5-7 4-7-8 3-6-4-8 1-8 1-1-8-7 5-2 8-6 6-7 3-8 1-7-4 8-2 8 0 3-7 2-8" fill="none" stroke="#7474f6" stroke-width="7.2" stroke-linejoin="round" stroke-opacity="1"/></g><g transform="scale(0.25)"><path d="M1806 2260l8-5 10-3 10-1 9-4 10-2 10 0 9-4 9-3 10 2 10 2 10 1 9 4 10 1 10 1 7 7 2 9 5 9 5 9-1 10 5 8 0 10 3 10 0 10 3 9 1 10-3 10-4 9-8 6-5 9-5 8-4 9-5 9-3 10-3 9-6 8-2 10-6 8-8-6-8-7-7-6-8-7-8-4-9-6-6-8-5-9-4-9 6-8 7-7 8-7 8-5 10-2 10 1 10 1 8 6 9 5 9 5 9 2 8 7 8 6 10-1 10 1 10 1 9 5 3-10-4-9-7-6-7-8-8-6-9-4-8-6M1840 2216l9 3 10 0 10 3 9 3 10-3 8-7 9 0 10-3 10 1 10 0 9 3 10 2 10-1 9-4 6-8 7-7 7-8 0-10-7-6-10-2-10 3-8 6-5 8-7 8-3 9-6 9-1 10-2 9-10 2-8 6-10 1-9 6-8 5-7 7-3 10-8 5-7 8-4 9-5 9 0 10-3 9-1 10 5 9 8 7 10 1 10-2 7-7 4-9 3-10 4-9 4-9 8-6 10-1 9-5 8-6 8-6 8-6 4-9 8-6 4-9 3-9 2-10 0-10-3-10-2-9 5-9 5-8 3-10 0-10-2-9M1922 2290l10-2 7 7 6 8 8 7 8 6 10 0 9 4 10 4 8 5 9 3 6 9 7 7 9-1-1-9-6-8-3-10-4-9-6-8-2-10 0-10 3-9 6-8 6-8 8-6 4-9-2-10-4-9-1-10 2-10-9-4-9-5-9-4-10-2-9 5-8 6-9 3-9 5-9 4-10 4-10-1-6-8-8-6-7-7-7-6-10-4-10 0-9 3-10 0-10 3-9 2-9 5-10 1-10 1-10 3-9 4-9 3-10-1-10 0-9-6-9-3 7-7 9-6 10 1 5 8 7 8 2 9-1 10 0 10 0 10-2 10M1979 2238l10-1 10-1 9-4 7-7 5-8 5-9 7-7-7-7-10 2-10 1-8 6-6 8-5 9-4 9-4 9-5 9-2 10-7 7-7 7-5 9-6 8-9 4-5 9-10 1-10-2-8-5-10-3-10-3-9 3-10 3-9-3-10 0-10 0-10 1-10-2-10-1-10-3-9-4-7-8-7-6-8-6-8-6-9-5-7-7-5-8 7-7 6-8 8-7 6-8 4-9 4-9 5-8 4-10-2-10-3-9 9-3 10 3 9 4 9 5 8 5 9 5 9 4 10 3 8 6 10-2 7-6 2-10 2-10 4-9 4-9M1876 2276l7-7 1-10 5-8 3-10 6-8 8-6 9-4 7-7 10-2 9 5 10 0 9 5 8-5 3-10 3-9 5-9 3-10 7-7 6-8 10-2 10 1-1 10 3 10 1 10 3 10 1 9 3 10 4 9 2 10 5 9 4 9-5 8-10 3-5 9-2 9-1 10-7 7-8 7-10 1-10-2-9-3-10-1-9-4-10-3-8-6-9-4-9-5-9-3-9-4-8-7-4-9-4-9-3-10-5-9-3-9-1-10-4-9-4-9-1-10 4-10 6-7 5-9 6-8 7-7 2-10-3-9 4-10 2-9 4-10 3-9M1753 2255l-5 8-4 10-1 9 1 10 3 10 5 8 4 9 0 10 1 10-2 10 5 9 3 9-2 10 9 5 8 5 9 3 10-1 9-4 10-4 9 2 9 5 9 4 10 3 9-3 10-1 10-3 8-6 4-9 5-9 1-10 3-10 2-9 5-10 5-8 3-10-2-10 3-9 2-10 9-5 8-6 4-9 4-10 2-10-2-9 4-10-3-9-2-10 0-10 3-10-1-10 2-10-2-9-1-10-4-10-1-10 1-10 3-9-10 0-9 3-10 1-10 1-9 6-6 7-9 5-9 4-5 8-10 3-9 5-9-3-9-4" fill="none" stroke="#d88090" stroke-width="6.4" stroke-linejoin="round" stroke-opacity="1"/></g><g transform="scale(0.25)"><path d="M1734 2433l4-7 3-7 7-5 6-4 0-8 7-5 8 2-1 8 4 6 8 1 8-2 5-7-8-1-8 0-3 7 5 6 1 8-6 6-5-6-7-4 1-8-4 7-5 7-4-7 1-8 6-6-4-7 8 0 6 6 7 3 8-2 8 1 7 4 7 4 6 5 8 2 7 4 6-5 8-2 7-1 8 4-4 7-4 7 6 6 1 7 0 8 5 7 5 6 8 2 7 4 5 5 6-5 2-8-3-7-1-8M1756 2227l-8-1-8-2-7 3-6 5-3 7-6 5-5 6-6 5-7 5 4 7 7 4 3 7 6 5 8 3 6 6 2 7-6 5-8-1-8 0 2 8 6 6 7-2 3-7 1-8 8-3 2-7 8-1 8 1 3 7-6 6-8 1-7 4-7 3-3 8-5 6-5 6-7 4-8 3 6 5 4 7 5 6 7 5 6-6 5-6 6-6 2-8 5-6 6-5 2-8 3-7 8-3 5 7 8-1 2-8-3-7M2016 2191l6-5 6-5 1-8-2-8-3-7-8 0-5 5 2 8 0 8-1 8-8 1-7 4-4 7-7 4-1 8 4 7 8 1 7 4 6 5-1 8 1 8 6 6 7 4 7-3-1 8 0 8 6 5 7 4 7-4 4-7 8-3 7-4 7-1 1 8-8-1-6 5-6-5 7-3 5 6 8 2 5-6-7-1-8 0-8 2-3 7 8 2 4-7-6-5-2-8-4-7 7-3 6-5 3-7 7-4-7-3M1965 2394l-6 5-5-6-4-7 1-8-6-5-6 5-2 8 2 8 5 6-6 6-6-6-6-4-8 0-6-6 1-8 7 5 7 3 7 4 7 4 1 8-3 8-6-5-5-7-4-6 5-6 8-1 1 8-7 2-8-3-8 1-7-3-6-6-2 8-3 8 4 7 0 7-5 6-8 3-7-4-4-7-6 5 3 8 7 2 8 1 8 1 6-5 8-2 4 7 6 4 7-4 4-7 6-4-1-8 6-5 0-8M1828 2126l4 7 8-1 0-8-3-7 2-8-5-7 5-7 6 5 1 8 1 8-8 2-3 7-2 8 5 6 2 8 6 5 7-4 8 1 5-6-6-6-8 1-1-8 4-7-5-7 4-7 6-5 3-7 2-8 0-8 4-7 8-1 4-7 6 4 4 8 2 7-5 6-8 0-7 4-8-2-6-5-4-7-6-5-6 4-3 8 6 4 2 8 4 6 8-1 2-8-4-6 7-3 7 3 8-2 2 7 2 8" fill="none" stroke="#7474f6" stroke-width="7.2" stroke-linejoin="round" stroke-opacity="1"/></g><g transform="scale(0.25)"><path d="M1850 2320l-4 10-8 5-7 7-7 7-9 5-8 5-9 6-9-3-10 0-9 4-9 4 9 4 9-6 9-4 8 6 3 10 2 9 4 10 1 10 3 9 0 10 10-2 10 0 10 1 10 1 10 2 9-3 8-6 9-5 10-3 9-1 9 6 9 1 10 1 10-3 10 1 10 0 10 2 10-1 2-10 3-9 5-9 2-10-1-10-5-9-7-7-2-10-5-9 0-10 5-9 7-7 6-8 5-8-3-10-6-8-6-8-9-5-7-7-10-3-9-4-10-1-9 3-9 4-10-1-8-7-5-8-2-10 0-10-3-10 8-6M1926 2442l-1 10-10-2-9-4-10-3-8-5-5-8-9-6-9-2-10-4-10 1-9 4-9 4-10 1-9-5-6-7-4-10-2-9-1-10-5-9 2-10-2-10-5-8-4-9-1-10-2-10-1-10-7-8-10-2-10 0-9 2-10 4 2-10 8-5 9-4 9-5 8-7 6-7 3-10 1-10-3-10 2-9 1-10 5-9-2-9-3-10-3-9 0-10 5-9 7-6 10-4 10 0 10 1 10 3 9 2 8 7 9 4 9 5 8 6 9 3 10-2 7-7 7-7 7-8 2-9 0-10 3-10 7-6 10-4 5-9 2-9M1937 2439l5-9 3-9 6-8 7-8 7-7 6-8 6-8 0-10-3-9-7-7-6-8-2-10 1-10-1-10-3-10-8-5-9-4-10-4-10-1-7 7-10 2-10 1-9-5-9-3-10 1-6 9-8 6-10 3-9 2-10-1-10-1-10-3-6 8-10 3-9-4-8-6-8-5-9-4-10-3-9-4 3-9 9-5 10-2 8-6 9-3 9-5 8-6 5-8-4-9-3-10-4-9-5-8-7-8-10-3-10-1-9 4 4 10-2 9-4 10 7 7 6 7 4 10 7 6 6 8 1 10-7 8-5 8-9 5-3 9 8 6M1801 2331l10 1 9 4 10 2 10 3 10-2 8-6 8-6 10 0 9 4 7 7 5 9 9 5 9 2 10 1 10-3 8-7 6-7 4-9-1-10 1-10 4-9 3-10 4-9 1-10 3-9 1-10 1-10 4-9 4-10 1-10-6-8-3-10-5-8-9-5-8 6-7 6-4 10 1 9-1 10 1 10 1 10 0 10-2 10-1 10-2 10 2 10 0 10-1 10-2 9 0 10 0 10-4 9-3 10-5 9-7 7-9 3-10 4-7 6-9 5-7 7-5 9-7 7-8 6-7 8-6 7-7 7-7-7-3-10-4-9-5-9M1825 2406l10 3 8 5 7 7 10 3 10-1 10-2 9-2 9 5 8 6 4 9 4 9 4 10 8-6 2-10 4-9-1-10 2-10 4-9 1-10 4-9 3-9 5-9 1-10 6-9 4-9 3-9 6-8 5-9 2-10 3-9 3-10 7-7 9-5 10 1 9-3 10 0 10-2-3 9-2 10 5 9-6 8-6 8-6 8-2 10-2 9-8 7-5 9-5 8-2 10 0 10-1 10 2 10-10 1-10 2-7 8-3 9-2 10-10-2-10-3-2-10-3-9-5-9-4-9 3-10 6-8 8-6 9-3 6-9 2-9 2-10M1912 2291l3 10 4 9 6 8 1 10-2 9 8 7 10 1 9-3 10-3 9-4 6-7 8-7 3-9-6-8-8-6-5-9 0-10-4-9-4-9-4-10-3-9-3-10-6-7-7-8-7-7-10 0-10-2-8-5-9-5-7-8-4-8-7-8-3-10-4-9-6-8 0-10 2-10-2-10-4-9-4-9-1-10-8 6-1 10-7 7-7 7-8 7-8 4-10-3-9-3 9-2 10-3 10-3 10-1 9-4 8-5 7-8 5-8 9 5 9 2 10 1 8 6 9 5 10 3 9 3 10 2 10-2 10-2 10-1 4 9 3 9" fill="none" stroke="#d88090" stroke-width="6.4" stroke-linejoin="round" stroke-opacity="1"/></g><g transform="scale(0.25)"><path d="M1837 2188l6-5 7 1 7-4-2-8 4-7-8-2-3-7-8 1-6-5-8 0-8-1-8 0 1-8-8-1-7-4-3-8-7-2-6 6-8-1-2-8 7 2 5-6 5-6 5-6 8 1 2-8 4-7 2-7 7 3 3 7 4 8-3 7 3 8-1 8-8 0-5 6 6 6 6 5 8 1 8 2 6 5 0 8-6 5-5 7-6 5-2 8 5 6-2 8 7 4 8 0 3-8-1-8-7-2-4-7 6-6M1929 2493l-2-8 0-8 2-7 6-6-1-8-3-8 6-6 8-1 8 1 7-4-1-8-2-8-5-6-7-3-8 1-6 5-4-7 5-6 7-5 6-4 6-6 8 0 8-3 3-8-4-7 3-7 8-3 4-7 4 7 7-1 8-2 8 1 1 8 0 8-2 7-2 8-4 7-8 0-4 6-7-5-8 0 3 8 5 6 7 4 7 5 0 8-3 7-3 7 7 5 0-8-7-4-1-8 3-7 5-7 1-8M1989 2110l-7-4-5-5-7-5-3-7-8 0-8 0-6-6 0-8-8 1-6 5 3 7 6 4 1 8-6 6-5 6-2 8 5 6 7 4 8 3 5 6 8-2-2 8 3 7-3 8 0 8 5 6 5 6 5 7 7 4 7 2 6 5 3 8 0 8-7 4-5 6-7-5-4 7-8 2-7 2-2-8 5-7 1-7 8-2 3 8 6 5-2 7-8 1-7-2-8 0-7-5-5-6-6-5-4-7 7-4 7-2M2078 2254l-4-7-6-4-5 6-7-5-5-6-4-7-4-7-1-8-8-2-8-2-4 6-2 8-7-2-1-8-6-5-8-3 7-4 2-8 8 3-6 6-8 2-3 8 3 7 7 3 6-5 7-4 7 3 3 8 6 6 7 3 8-1 7 4 7 2 8 3 6 5-3 7-2 8 2 8-4 7 4 7 8-3-4 7-6 4-7 4-7-4 6-6 3-7 2-8-3-7 5-7 7-3-3-7-8-3-8-1-6-5M1967 2345l2 8-1 8 8 3 7 3 3 8-6 6-3 7-7 4-6 5 2 8 8-3 7-3 7 4 5-7 3-7-1-8-4-7-8-2-7-3-8-4-6 5-7 4-7-5-2-7-8-3-7 2-4-7-8-1-8 0-7 4-2 7-5 6 6 6 8-1 7-3 2 7 8 2 3 7-2 8-4 7-4 7-1 8 6 5 8 0 8 3-3 7 7 4 6-5-6-6-8 1-6-4-7-5 2-7 8-2 8 2" fill="none" stroke="#7474f6" stroke-width="7.2" stroke-linejoin="round" stroke-opacity="1"/></g><rect x="116" y="358.7" width="441.5" height="277.00000000000006" fill="none" stroke="#000" stroke-width="3.3"/><path d="M165.1,635.7v-6M165.1,358.7v6M214.1,635.7v-6M214.1,358.7v6M263.2,635.7v-6M263.2,358.7v6M312.2,635.7v-6M312.2,358.7v6M361.3,635.7v-6M361.3,358.7v6M410.3,635.7v-6M410.3,358.7v6M459.4,635.7v-6M459.4,358.7v6M508.4,635.7v-6M508.4,358.7v6M116,601.3h8M557.5,601.3h-8M116,566.6h8M557.5,566.6h-8M116,531.9h8M557.5,531.9h-8M116,497.2h8M557.5,497.2h-8M116,462.6h8M557.5,462.6h-8M116,427.9h8M557.5,427.9h-8M116,393.2h8M557.5,393.2h-8" stroke="#666" stroke-width="1"/><rect x="123.1" y="372.3" width="18.6" height="18.6" fill="#2a0040"/><rect x="286.6" y="372.3" width="18.6" height="18.6" fill="#7010f0"/><rect x="368.3" y="372.3" width="18.6" height="18.6" fill="#7a0a6a"/><rect x="450.1" y="372.3" width="18.6" height="18.6" fill="#7a0a6a"/><rect x="531.8" y="372.3" width="18.6" height="18.6" fill="#98301a"/><rect x="123.1" y="430.1" width="18.6" height="18.6" fill="#3a0a90"/><rect x="286.6" y="430.1" width="18.6" height="18.6" fill="#6a10f0"/><rect x="368.3" y="430.1" width="18.6" height="18.6" fill="#7a0a6a"/><rect x="450.1" y="430.1" width="18.6" height="18.6" fill="#902a18"/><rect x="531.8" y="430.1" width="18.6" height="18.6" fill="#c87020"/><rect x="123.1" y="487.9" width="18.6" height="18.6" fill="#5c10f8"/><rect x="286.6" y="487.9" width="18.6" height="18.6" fill="#7a0a6a"/><rect x="368.3" y="487.9" width="18.6" height="18.6" fill="#a03818"/><rect x="450.1" y="487.9" width="18.6" height="18.6" fill="#c06820"/><rect x="531.8" y="487.9" width="18.6" height="18.6" fill="#d08828"/><rect x="123.1" y="545.8" width="18.6" height="18.6" fill="#7a0a6a"/><rect x="286.6" y="545.8" width="18.6" height="18.6" fill="#983018"/><rect x="368.3" y="545.8" width="18.6" height="18.6" fill="#c86a20"/><rect x="450.1" y="545.8" width="18.6" height="18.6" fill="#d8a020"/><rect x="531.8" y="545.8" width="18.6" height="18.6" fill="#dcac2c"/><rect x="123.1" y="603.6" width="18.6" height="18.6" fill="#b05a1a"/><rect x="286.6" y="603.6" width="18.6" height="18.6" fill="#dcac2c"/><rect x="368.3" y="603.6" width="18.6" height="18.6" fill="#dcac2c"/><rect x="450.1" y="603.6" width="18.6" height="18.6" fill="#ecd030"/><rect x="531.8" y="603.6" width="18.6" height="18.6" fill="#dcac2c"/><rect x="569" y="358.2" width="22.6" height="14.4" fill="#f6f020"/><rect x="569" y="372.1" width="22.6" height="14.4" fill="#e6d22a"/><rect x="569" y="386" width="22.6" height="14.4" fill="#dcb42a"/><rect x="569" y="399.9" width="22.6" height="14.4" fill="#d49c2a"/><rect x="569" y="413.8" width="22.6" height="14.4" fill="#ca8428"/><rect x="569" y="427.7" width="22.6" height="14.4" fill="#c06c22"/><rect x="569" y="441.6" width="22.6" height="14.4" fill="#b25420"/><rect x="569" y="455.5" width="22.6" height="14.4" fill="#a4401c"/><rect x="569" y="469.4" width="22.6" height="14.4" fill="#963018"/><rect x="569" y="483.3" width="22.6" height="14.4" fill="#8e2a1a"/><rect x="569" y="497.2" width="22.6" height="14.4" fill="#8a2020"/><rect x="569" y="511.1" width="22.6" height="14.4" fill="#801870"/><rect x="569" y="525" width="22.6" height="14.4" fill="#7010b8"/><rect x="569" y="538.9" width="22.6" height="14.4" fill="#6810e8"/><rect x="569" y="552.8" width="22.6" height="14.4" fill="#6010fa"/><rect x="569" y="566.7" width="22.6" height="14.4" fill="#5a10f0"/><rect x="569" y="580.6" width="22.6" height="14.4" fill="#4810c8"/><rect x="569" y="594.5" width="22.6" height="14.4" fill="#380890"/><rect x="569" y="608.4" width="22.6" height="14.4" fill="#200040"/><rect x="569" y="622.3" width="22.6" height="14.4" fill="#000000"/><path d="M569,383.5h4M591.6,383.5h-4M569,408.7h4M591.6,408.7h-4M569,434h4M591.6,434h-4M569,459.3h4M591.6,459.3h-4M569,484.5h4M591.6,484.5h-4M569,509.8h4M591.6,509.8h-4M569,535.1h4M591.6,535.1h-4M569,560.4h4M591.6,560.4h-4M569,585.6h4M591.6,585.6h-4M569,610.9h4M591.6,610.9h-4" stroke="#333" stroke-width="0.8"/><rect x="569" y="358.2" width="22.6" height="278" fill="none" stroke="#999" stroke-width="0.5"/><text transform="translate(597.58,365.04) scale(1.01,1)" font-family="Liberation Serif, serif" font-size="20.29" font-weight="normal" fill="#000" stroke="#000" stroke-width="0.22" >0.9</text><text transform="translate(597.58,415.49) scale(1.01,1)" font-family="Liberation Serif, serif" font-size="20.29" font-weight="normal" fill="#000" stroke="#000" stroke-width="0.22" >0.8</text><text transform="translate(597.58,465.94) scale(1.01,1)" font-family="Liberation Serif, serif" font-size="20.29" font-weight="normal" fill="#000" stroke="#000" stroke-width="0.22" >0.7</text><text transform="translate(597.58,516.39) scale(1.01,1)" font-family="Liberation Serif, serif" font-size="20.29" font-weight="normal" fill="#000" stroke="#000" stroke-width="0.22" >0.6</text><text transform="translate(597.58,566.84) scale(1.01,1)" font-family="Liberation Serif, serif" font-size="20.29" font-weight="normal" fill="#000" stroke="#000" stroke-width="0.22" >0.5</text><text transform="translate(597.59,617.29)" font-family="Liberation Serif, serif" font-size="20.29" font-weight="normal" fill="#000" stroke="#000" stroke-width="0.22" >0.4</text><text transform="translate(68.16,642.21) scale(1.06,1)" font-family="Liberation Serif, serif" font-size="19.71" font-weight="normal" fill="#000" stroke="#000" stroke-width="0.22" >0.3</text><text transform="translate(68.18,572.83) scale(1.04,1)" font-family="Liberation Serif, serif" font-size="19.71" font-weight="normal" fill="#000" stroke="#000" stroke-width="0.22" >0.4</text><text transform="translate(68.16,503.46) scale(1.06,1)" font-family="Liberation Serif, serif" font-size="19.71" font-weight="normal" fill="#000" stroke="#000" stroke-width="0.22" >0.5</text><text transform="translate(68.17,434.08) scale(1.05,1)" font-family="Liberation Serif, serif" font-size="19.71" font-weight="normal" fill="#000" stroke="#000" stroke-width="0.22" >0.6</text><text transform="translate(68.17,364.71) scale(1.05,1)" font-family="Liberation Serif, serif" font-size="19.71" font-weight="normal" fill="#000" stroke="#000" stroke-width="0.22" >0.7</text><text transform="translate(100.66,664.92) scale(1.04,1)" font-family="Liberation Serif, serif" font-size="19.12" font-weight="normal" fill="#000" stroke="#000" stroke-width="0.22" >0.15</text><text transform="translate(154.17,664.92) scale(1.09,1)" font-family="Liberation Serif, serif" font-size="19.12" font-weight="normal" fill="#000" stroke="#000" stroke-width="0.22" >0.2</text><text transform="translate(198.77,664.92) scale(1.04,1)" font-family="Liberation Serif, serif" font-size="19.12" font-weight="normal" fill="#000" stroke="#000" stroke-width="0.22" >0.25</text><text transform="translate(252.29,664.92) scale(1.08,1)" font-family="Liberation Serif, serif" font-size="19.12" font-weight="normal" fill="#000" stroke="#000" stroke-width="0.22" >0.3</text><text transform="translate(296.88,664.92) scale(1.04,1)" font-family="Liberation Serif, serif" font-size="19.12" font-weight="normal" fill="#000" stroke="#000" stroke-width="0.22" >0.35</text><text transform="translate(350.42,664.92) scale(1.06,1)" font-family="Liberation Serif, serif" font-size="19.12" font-weight="normal" fill="#000" stroke="#000" stroke-width="0.22" >0.4</text><text transform="translate(394.99,664.92) scale(1.04,1)" font-family="Liberation Serif, serif" font-size="19.12" font-weight="normal" fill="#000" stroke="#000" stroke-width="0.22" >0.45</text><text transform="translate(448.51,664.92) scale(1.08,1)" font-family="Liberation Serif, serif" font-size="19.12" font-weight="normal" fill="#000" stroke="#000" stroke-width="0.22" >0.5</text><text transform="translate(493.1,664.92) scale(1.04,1)" font-family="Liberation Serif, serif" font-size="19.12" font-weight="normal" fill="#000" stroke="#000" stroke-width="0.22" >0.55</text><text transform="translate(542.38,662.19)" font-family="Liberation Serif, serif" font-size="20.44" font-weight="normal" fill="#000" stroke="#000" stroke-width="0.22" >0.6</text><text transform="translate(247.21,684.41) scale(1.35,1)" font-family="Liberation Sans, sans-serif" font-size="29.45" font-weight="normal" fill="#000" stroke="#000" stroke-width="0.22" >ε</text><text transform="translate(263.47,692.43) scale(1.1,1)" font-family="Liberation Sans, sans-serif" font-size="19.77" font-weight="normal" fill="#000" stroke="#000" stroke-width="0.22" >PLD-RBD, kT</text><text transform="translate(58.84,587.29) rotate(-90) scale(1.01,1)" font-family="Liberation Sans, sans-serif" font-size="36.18" font-weight="normal" fill="#000" stroke="#000" stroke-width="0.22" >ε</text><text transform="translate(67.48,568.69) rotate(-90) scale(1.01,1)" font-family="Liberation Sans, sans-serif" font-size="20.93" font-weight="normal" fill="#000" stroke="#000" stroke-width="0.22" >PLD-PLD, kT</text><text transform="translate(656.84,559.28) rotate(-90) scale(0.97,1)" font-family="Liberation Sans, sans-serif" font-size="24.11" font-weight="normal" fill="#000" stroke="#000" stroke-width="0.22" >Rg<tspan font-size="15.91" dy="-9.64">PLD</tspan><tspan dy="9.64">/Rg</tspan><tspan font-size="15.91" dy="-9.64">RBD</tspan></text>
</svg></body></html>
